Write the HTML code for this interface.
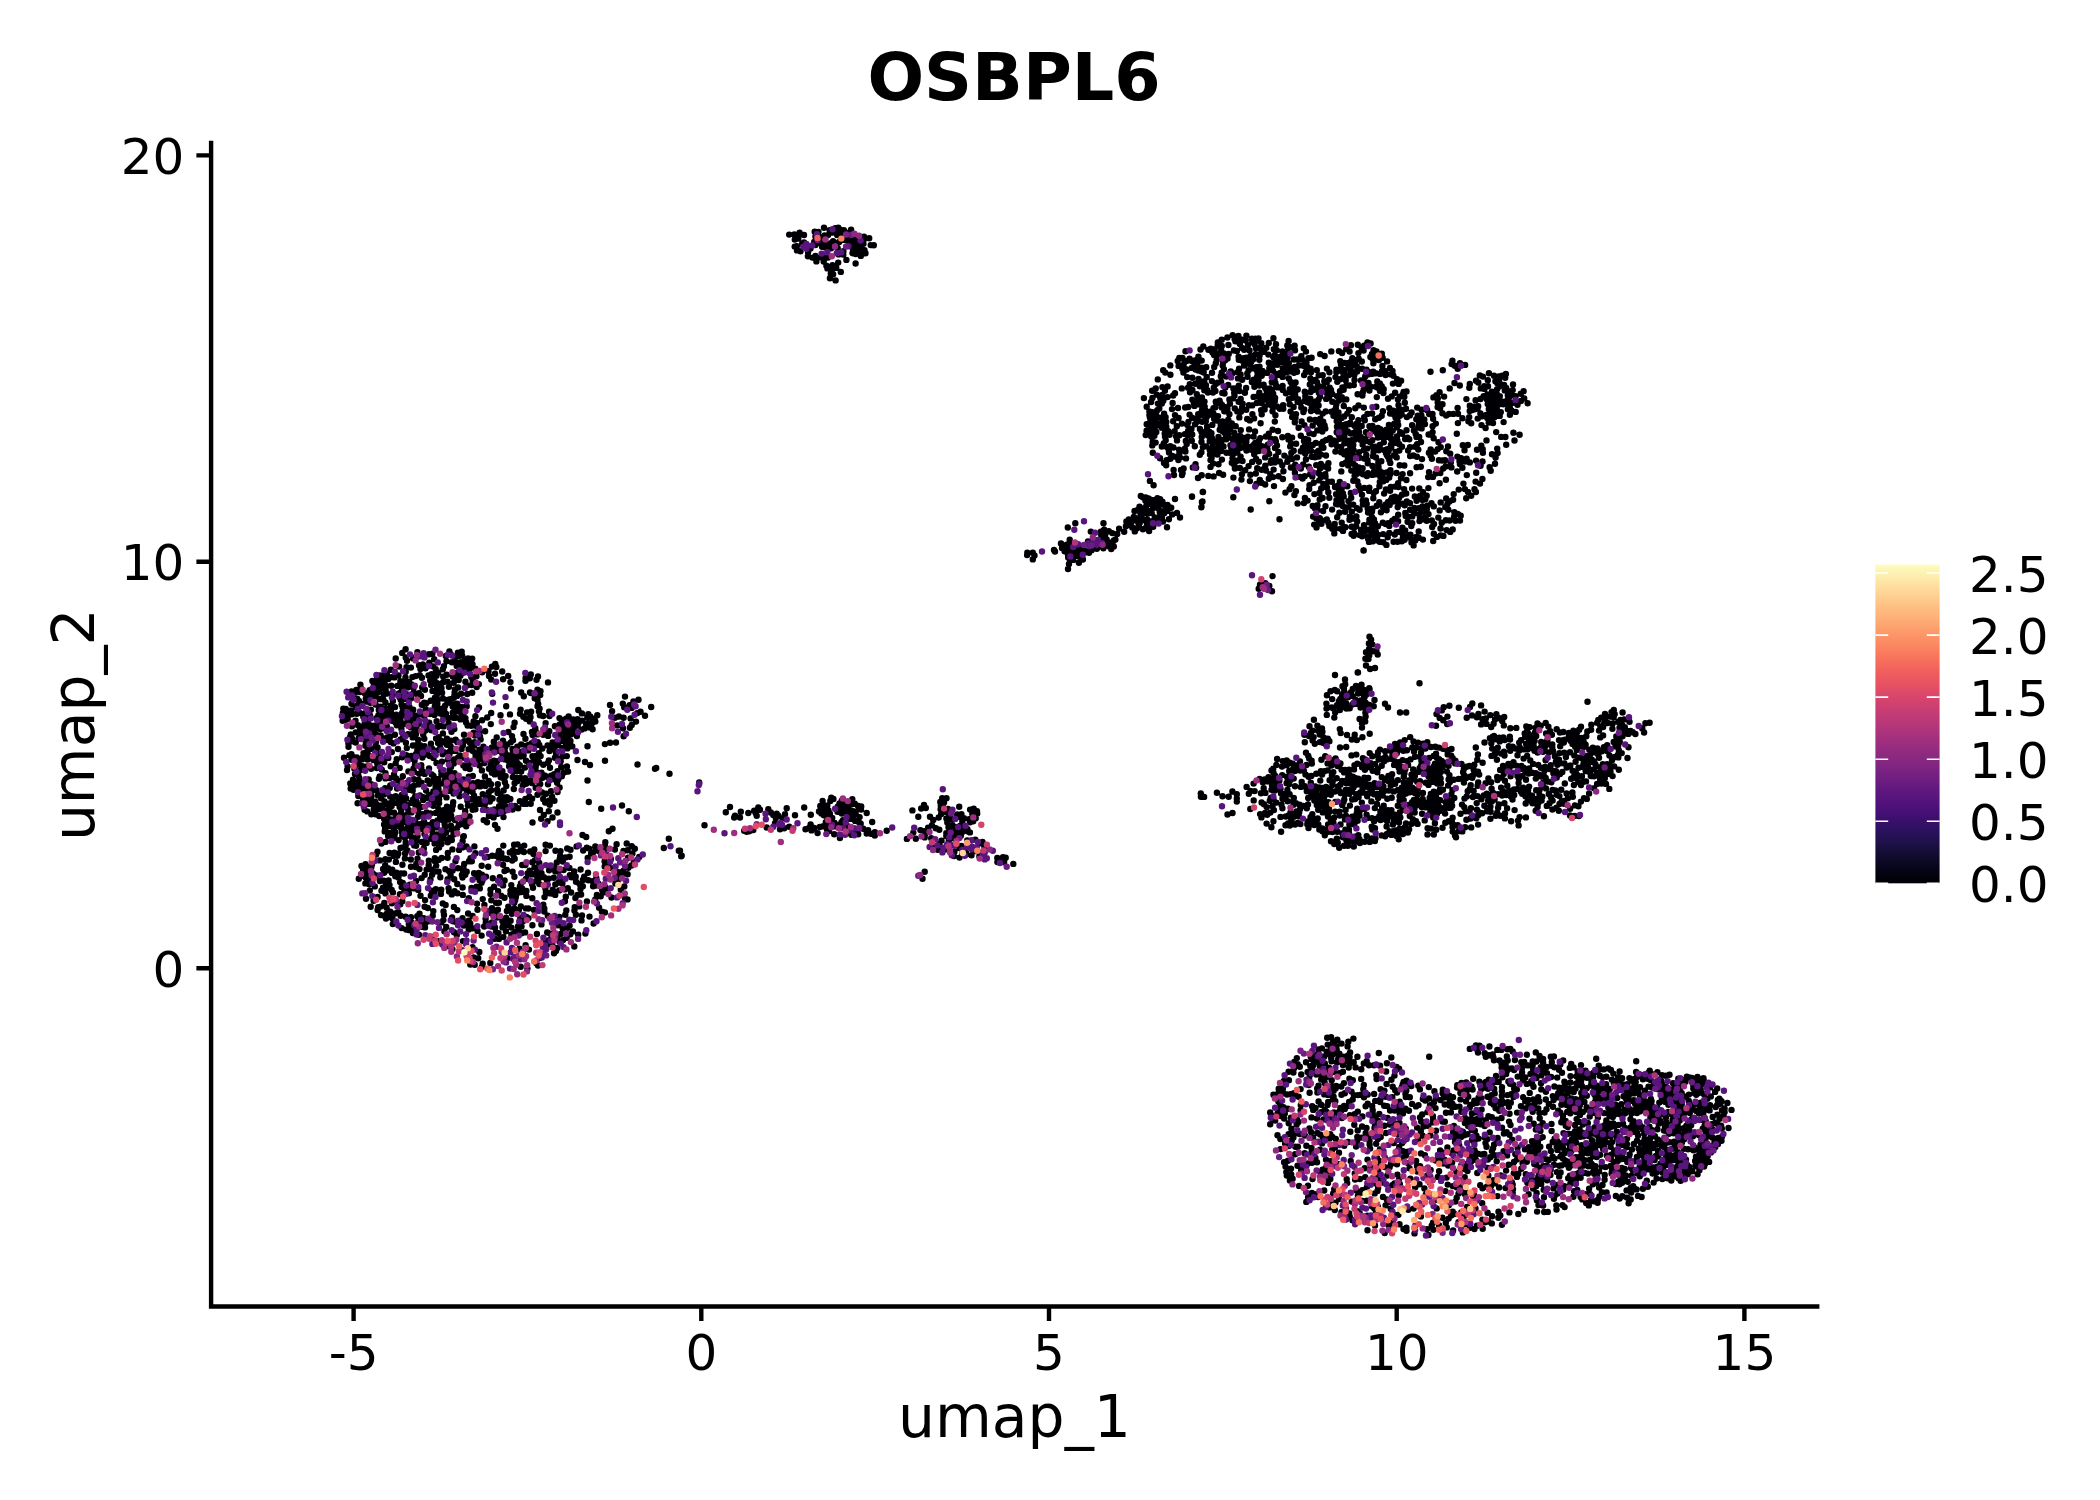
<!DOCTYPE html>
<html lang="en"><head><meta charset="utf-8"><title>OSBPL6 UMAP feature plot</title>
<style>html,body{margin:0;padding:0;background:#fff}body{width:2100px;height:1500px;overflow:hidden}svg{display:block;font-family:"DejaVu Sans","Liberation Sans",sans-serif}</style></head>
<body>
<svg width="2100" height="1500" viewBox="0 0 2100 1500">
<rect width="2100" height="1500" fill="#fff"/>
<g fill="none" stroke-width="6.4" stroke-linecap="round">
<path d="M838.3 227.7h.01M824 227.8h.01M835.2 228.1h.01M851.1 229.7h.01M840.3 229.7h.01M829.6 230.1h.01M843.9 230.2h.01M814.7 231.8h.01M818.4 231.9h.01M845.2 232.1h.01M835.3 232.3h.01M832.4 232.6h.01M799.6 232.8h.01M843.1 234.1h.01M794.3 234.4h.01M789.2 234.6h.01M837.2 235h.01M804 235h.01M849 235h.01M828 235.1h.01M824.6 235.5h.01M844.5 235.6h.01M815.4 236.6h.01M864 236.8h.01M848.3 237h.01M820.1 237.3h.01M841.1 237.8h.01M869.2 238.2h.01M798.3 238.5h.01M856.9 239h.01M851.2 239.2h.01M794.8 239.6h.01M843.7 239.7h.01M845.4 239.8h.01M854.2 240.1h.01M863.5 240.3h.01M848.1 240.9h.01M833.1 241.3h.01M851.1 241.9h.01M839.2 242h.01M814.2 242h.01M825.1 242.2h.01M855.8 242.4h.01M804 242.4h.01M859.3 242.4h.01M853.3 242.6h.01M820 243h.01M830.7 243.1h.01M863.4 243.7h.01M802.2 243.8h.01M850.6 243.9h.01M854.6 244.3h.01M826.9 244.4h.01M860.2 244.6h.01M856.4 244.7h.01M824.1 244.8h.01M870.7 245.1h.01M815.4 245.1h.01M873.8 245.2h.01M851.2 246h.01M796.8 246.2h.01M861.1 246.4h.01M794.7 246.6h.01M822.1 246.7h.01M857.7 247.2h.01M825.4 247.6h.01M855.1 248.2h.01M831.1 248.3h.01M860 248.3h.01M837.7 248.3h.01M810.5 248.4h.01M827.7 248.5h.01M852.8 248.7h.01M864.5 250.1h.01M797 250.4h.01M855.5 251h.01M800.5 251.2h.01M843.4 251.3h.01M808.1 252.3h.01M859.6 252.6h.01M852.5 253.2h.01M865.5 253.3h.01M862.6 253.4h.01M855.7 254.1h.01M838.6 254.4h.01M843.3 254.6h.01M860.8 255.9h.01M815.4 256h.01M807.9 256.2h.01M821 257.3h.01M812.4 257.6h.01M824.6 257.6h.01M827.8 257.6h.01M846.4 259.9h.01M816.4 261.4h.01M823.7 261.6h.01M838.2 262.6h.01M855.6 263.5h.01M832.5 265.3h.01M826.4 265.7h.01M836.3 267.9h.01M827.4 268.4h.01M831.6 270.9h.01M840.8 271.9h.01M830.8 273.6h.01M833.1 274.2h.01M829.9 278.2h.01M835.6 280.4h.01M1232.6 335.1h.01M1246.4 335.6h.01M1238.4 335.9h.01M1227.4 337.5h.01M1273.4 338.3h.01M1258.5 338.5h.01M1255.3 338.7h.01M1251.9 338.8h.01M1234.6 338.9h.01M1241.1 339.4h.01M1238.6 339.4h.01M1221.7 339.8h.01M1245.7 340.5h.01M1288.6 340.9h.01M1255.9 341.1h.01M1235.4 341.2h.01M1252.3 341.7h.01M1240.1 341.9h.01M1217.8 342.4h.01M1367.5 342.5h.01M1268.8 342.9h.01M1261.3 343.2h.01M1370.6 343.5h.01M1239.9 343.9h.01M1276 344.2h.01M1254.6 344.2h.01M1357.8 344.8h.01M1228.4 345h.01M1248 345.1h.01M1350.9 345.2h.01M1217.7 345.5h.01M1287.3 345.5h.01M1364.1 345.6h.01M1294.6 345.8h.01M1221.8 346h.01M1203.3 346.5h.01M1290.5 347.3h.01M1260.1 347.6h.01M1266.3 347.7h.01M1361.6 347.7h.01M1242.1 348h.01M1255.9 348.2h.01M1303.8 348.3h.01M1288.2 348.3h.01M1210.7 348.6h.01M1346.2 349.1h.01M1214.7 349.3h.01M1273.8 349.2h.01M1200.5 349.5h.01M1208.4 349.7h.01M1244.1 349.8h.01M1276.7 350.3h.01M1295 350.3h.01M1373.5 350.3h.01M1249.5 350.5h.01M1233.9 350.5h.01M1221.2 350.5h.01M1363.6 350.6h.01M1236.9 351h.01M1338.9 351.1h.01M1185.5 351.3h.01M1282.5 351.4h.01M1331.3 351.4h.01M1261.4 351.5h.01M1376.5 351.5h.01M1349.6 351.6h.01M1305.9 351.6h.01M1264.1 351.9h.01M1212.5 352.4h.01M1342.1 353h.01M1358.4 353.1h.01M1287.9 353.5h.01M1223.9 353.5h.01M1381.8 353.7h.01M1228.7 353.9h.01M1372 353.9h.01M1218.9 354h.01M1255.6 354.1h.01M1320.2 354.1h.01M1268.4 354.6h.01M1214.1 354.9h.01M1274.8 355.2h.01M1259.6 355.4h.01M1324.6 356h.01M1253.5 356h.01M1250.5 356.1h.01M1301.3 356.1h.01M1284.4 356.4h.01M1198.4 356.6h.01M1238.6 356.8h.01M1280.4 356.8h.01M1370.4 356.9h.01M1273.2 357.1h.01M1277.6 357.6h.01M1246.4 357.6h.01M1287.6 357.6h.01M1311.6 357.8h.01M1182.4 357.9h.01M1382.6 357.8h.01M1179.3 357.9h.01M1376.9 358h.01M1308.4 358.2h.01M1352.3 358.3h.01M1243.6 358.3h.01M1282 358.5h.01M1227.5 358.5h.01M1189.6 358.6h.01M1358.7 358.7h.01M1372.6 358.9h.01M1249.6 359.5h.01M1302 359.5h.01M1293.9 359.5h.01M1297.4 359.5h.01M1253 359.6h.01M1216.7 359.7h.01M1259.3 359.7h.01M1276.8 359.7h.01M1238.8 359.8h.01M1378.9 360h.01M1225.2 360.2h.01M1196.8 360.4h.01M1194.8 360.5h.01M1355.6 360.4h.01M1241.9 360.5h.01M1201.7 360.6h.01M1184.5 360.6h.01M1452.4 360.8h.01M1177.7 360.9h.01M1246.6 361h.01M1186.6 361.1h.01M1340.3 361.2h.01M1192.1 361.3h.01M1351.3 361.3h.01M1387.1 361.4h.01M1361.8 361.5h.01M1244.1 361.6h.01M1284.6 361.7h.01M1281.7 361.9h.01M1306.5 362h.01M1251 362.2h.01M1223 362.8h.01M1268.8 362.8h.01M1348.4 362.9h.01M1344.7 363h.01M1460 363.2h.01M1288.8 363.2h.01M1215.8 363.3h.01M1197.3 363.3h.01M1272.3 363.3h.01M1373.4 363.3h.01M1285.8 363.4h.01M1245 363.7h.01M1248.9 363.7h.01M1351.1 364.1h.01M1451.6 364.1h.01M1183.6 364.6h.01M1341 364.6h.01M1277.3 364.7h.01M1194.6 364.9h.01M1465.1 364.9h.01M1353.7 365.2h.01M1170.3 365.4h.01M1222.7 365.5h.01M1298.9 365.5h.01M1244.1 365.5h.01M1272.8 365.5h.01M1303.4 365.7h.01M1454.8 365.8h.01M1178.6 365.9h.01M1382.4 366h.01M1356.8 366.2h.01M1348.5 366.4h.01M1259.5 366.8h.01M1307.2 366.8h.01M1294.7 366.9h.01M1214.2 366.9h.01M1256.3 367.2h.01M1206.2 367.3h.01M1288.9 367.3h.01M1201.7 367.7h.01M1191.9 367.9h.01M1390 367.9h.01M1253 368.2h.01M1282.8 368.2h.01M1269.3 368.5h.01M1310.6 368.6h.01M1182.3 368.7h.01M1326.9 368.6h.01M1362.1 368.7h.01M1239.1 368.7h.01M1340.9 368.7h.01M1457.7 368.7h.01M1200.4 369h.01M1223.9 369.2h.01M1195.6 369.5h.01M1186.7 369.5h.01M1366.5 369.6h.01M1336.4 369.6h.01M1256.5 369.8h.01M1293.2 370h.01M1316.8 370.1h.01M1163.2 370.2h.01M1442.8 370.2h.01M1248.6 370.3h.01M1344.3 370.3h.01M1198.4 370.5h.01M1350.6 370.5h.01M1338.8 370.8h.01M1262.5 370.9h.01M1291.3 370.9h.01M1273 370.9h.01M1392.5 371h.01M1385.4 371.1h.01M1381.9 371.2h.01M1201.6 371.4h.01M1289.1 371.4h.01M1230.7 371.4h.01M1357.1 371.5h.01M1373.2 371.7h.01M1297 371.8h.01M1430.5 371.8h.01M1257.4 371.9h.01M1336.4 371.9h.01M1305.8 372h.01M1237.6 372.1h.01M1311 372.2h.01M1329.4 372.2h.01M1286.7 372.3h.01M1353.1 372.3h.01M1203.7 372.5h.01M1183.4 372.5h.01M1370 372.5h.01M1165.3 372.6h.01M1221.7 372.6h.01M1294 372.7h.01M1212 372.7h.01M1267.2 372.9h.01M1280.2 373h.01M1283 373.1h.01M1232.5 373.2h.01M1488.9 373.3h.01M1375.9 373.3h.01M1247.3 373.4h.01M1372.3 373.8h.01M1276.4 373.9h.01M1380 373.9h.01M1505.9 374h.01M1368.6 374.3h.01M1391 374.4h.01M1240.6 374.4h.01M1343.5 374.4h.01M1170.4 374.8h.01M1278.5 374.8h.01M1354.4 374.8h.01M1349 375h.01M1304.1 375.1h.01M1385.6 375.1h.01M1318.7 375.2h.01M1322.7 375.2h.01M1479.8 375.4h.01M1261.7 375.7h.01M1494 375.7h.01M1502.1 375.7h.01M1393.4 375.7h.01M1220.8 376.2h.01M1257.2 376.4h.01M1365.2 376.4h.01M1498.9 376.5h.01M1226.2 376.6h.01M1482.9 376.6h.01M1247.6 376.8h.01M1282.6 376.9h.01M1206.7 377h.01M1187.2 377.1h.01M1335.5 377.1h.01M1192.3 377.7h.01M1505.2 377.8h.01M1343.4 378h.01M1310.4 378.4h.01M1238 378.4h.01M1288.8 378.4h.01M1198.6 379h.01M1499.1 378.9h.01M1340.2 379.2h.01M1274.5 379.3h.01M1397 379.3h.01M1157.8 379.4h.01M1253.6 379.6h.01M1328.8 379.6h.01M1242.1 379.8h.01M1258.5 379.9h.01M1315.3 380h.01M1354.5 380h.01M1487.8 380.2h.01M1345.7 380.3h.01M1361 380.4h.01M1401.1 380.7h.01M1476 380.8h.01M1211.9 381.1h.01M1324.3 381.2h.01M1204.3 381.3h.01M1495.4 381.3h.01M1377.3 381.4h.01M1221.1 381.6h.01M1337.3 381.7h.01M1311.2 381.9h.01M1290.7 382h.01M1326.9 382h.01M1200.8 382h.01M1251.9 382h.01M1316.9 382.1h.01M1271.8 382.2h.01M1295.6 382.4h.01M1365.3 382.4h.01M1499.4 382.5h.01M1478.3 382.5h.01M1275.3 382.8h.01M1217.6 382.8h.01M1368.5 382.9h.01M1454.5 383h.01M1497.1 383h.01M1255.5 383.2h.01M1379.8 383.4h.01M1392.9 383.6h.01M1195.2 383.7h.01M1215.7 383.9h.01M1398.7 383.9h.01M1469.8 384h.01M1189.8 384.2h.01M1292.2 384.3h.01M1309.8 384.5h.01M1513 384.5h.01M1263.6 384.6h.01M1228.2 384.9h.01M1504.1 384.9h.01M1353.8 385.1h.01M1317.8 385.2h.01M1205.9 385.3h.01M1259.5 385.5h.01M1349.7 385.5h.01M1346.4 385.5h.01M1459.8 385.5h.01M1276.2 385.7h.01M1238.8 385.8h.01M1282.6 385.9h.01M1199.8 386.2h.01M1488 386.2h.01M1484.3 386.2h.01M1167.6 386.4h.01M1293.9 386.3h.01M1381.7 386.3h.01M1323.3 386.4h.01M1499.3 386.5h.01M1254.4 386.7h.01M1370.6 386.7h.01M1366.5 386.7h.01M1375.8 386.8h.01M1162.4 387.1h.01M1204.7 387.1h.01M1277.9 387.4h.01M1342.4 387.4h.01M1225.3 387.5h.01M1469.3 387.7h.01M1188.1 387.7h.01M1377.9 387.7h.01M1213.8 387.8h.01M1329.7 387.8h.01M1506.2 387.9h.01M1246.1 388h.01M1236.3 388.1h.01M1311.6 388h.01M1265.2 388.1h.01M1319.7 388.1h.01M1181.8 388.4h.01M1233.4 388.4h.01M1480.8 388.4h.01M1155.7 388.5h.01M1449.7 388.4h.01M1269.6 388.5h.01M1367.7 388.7h.01M1484.4 388.9h.01M1383.7 389.2h.01M1315.6 389.3h.01M1289.8 389.3h.01M1497.1 389.3h.01M1363.7 389.4h.01M1327 389.4h.01M1297.7 389.5h.01M1266.4 389.7h.01M1272.1 389.7h.01M1343.6 389.8h.01M1282.8 389.9h.01M1192.4 390h.01M1313.2 390h.01M1331 390h.01M1207.3 390.2h.01M1512.7 390.1h.01M1204.3 390.3h.01M1270.3 390.3h.01M1504.8 390.4h.01M1369.4 390.6h.01M1152.1 390.7h.01M1164.9 390.8h.01M1507.4 390.8h.01M1380 390.9h.01M1239.5 391h.01M1215.4 391h.01M1523.6 391.2h.01M1340 391.3h.01M1406.5 391.4h.01M1492 391.6h.01M1304.8 391.7h.01M1310.6 391.9h.01M1403.6 391.9h.01M1295.2 392.1h.01M1190 392.3h.01M1439.6 392.3h.01M1213 392.5h.01M1207.9 392.5h.01M1291 392.5h.01M1362.8 392.5h.01M1259.3 392.6h.01M1244.9 392.7h.01M1234.2 392.7h.01M1318.8 392.8h.01M1395.1 392.8h.01M1222.3 392.9h.01M1175 393.2h.01M1383.4 393.1h.01M1285.9 393.2h.01M1269 393.3h.01M1224.5 393.5h.01M1327.1 393.6h.01M1496.7 393.6h.01M1520.8 393.7h.01M1273.2 393.8h.01M1332.2 394h.01M1196.8 394.2h.01M1357.6 394.2h.01M1266.5 394.4h.01M1487.4 394.5h.01M1156.7 394.6h.01M1402.6 394.8h.01M1511.9 394.9h.01M1162.2 395h.01M1436.5 395.3h.01M1507.8 395.3h.01M1295.2 395.4h.01M1234.5 395.5h.01M1173.2 395.5h.01M1362.4 395.5h.01M1305.3 396.1h.01M1337 396.1h.01M1499.8 396.1h.01M1515.6 396.1h.01M1483.7 396.2h.01M1257.4 396.4h.01M1262.9 396.4h.01M1391.7 396.4h.01M1271.2 396.5h.01M1400 396.6h.01M1444.1 396.6h.01M1320 396.7h.01M1404.3 396.8h.01M1253.6 396.9h.01M1167.6 397.1h.01M1376.8 397.1h.01M1509.4 397.1h.01M1491.4 397.1h.01M1494.6 397.1h.01M1341.8 397.3h.01M1329 397.3h.01M1433.4 397.4h.01M1201.9 397.5h.01M1160.2 397.8h.01M1292.6 397.8h.01M1152.4 397.9h.01M1275.1 398h.01M1143.9 398.1h.01M1198.2 398.1h.01M1306.4 398.3h.01M1437.8 398.3h.01M1233 398.4h.01M1524.2 398.4h.01M1310.3 398.6h.01M1388 398.7h.01M1326.2 398.9h.01M1240.7 398.9h.01M1480.5 399h.01M1260.7 399.1h.01M1466.4 399.1h.01M1298.1 399.2h.01M1288.9 399.2h.01M1346.3 399.4h.01M1397.9 399.4h.01M1229.4 399.5h.01M1343.4 399.5h.01M1265.5 399.6h.01M1487 399.5h.01M1192.4 399.7h.01M1271.4 399.8h.01M1318.5 399.8h.01M1507.3 400.2h.01M1475.6 400.3h.01M1499.1 400.6h.01M1304.7 400.7h.01M1310 400.7h.01M1219.6 400.7h.01M1163.3 400.8h.01M1268.2 400.8h.01M1338.5 400.8h.01M1274.8 400.9h.01M1520.9 401h.01M1199.6 401.1h.01M1315.7 401.4h.01M1501.8 401.5h.01M1204.5 401.6h.01M1215.8 401.7h.01M1297.6 401.7h.01M1332.3 401.7h.01M1238.6 401.8h.01M1151.1 402h.01M1307.2 402.1h.01M1518.3 402.1h.01M1490.7 402.2h.01M1494.1 402.2h.01M1437.7 402.4h.01M1309.2 402.7h.01M1404.8 402.7h.01M1172.6 402.9h.01M1300.4 402.9h.01M1261.4 403h.01M1256.8 403h.01M1512 403h.01M1193.9 403.2h.01M1220.4 403.2h.01M1527.6 403.2h.01M1161.8 403.5h.01M1506.6 403.4h.01M1157.9 403.6h.01M1242.6 403.6h.01M1229.9 403.7h.01M1497.3 403.9h.01M1509.4 403.9h.01M1487.7 404.1h.01M1499.1 404.2h.01M1503.2 404.2h.01M1442.5 404.3h.01M1289.7 404.3h.01M1268.7 404.4h.01M1199.6 404.6h.01M1336.3 404.6h.01M1222 404.9h.01M1517.5 404.8h.01M1398.5 405.2h.01M1248.9 405.3h.01M1283.1 405.3h.01M1252.2 405.4h.01M1318.6 405.4h.01M1311.8 405.4h.01M1358.5 405.4h.01M1489.5 405.5h.01M1315.8 405.6h.01M1469.8 405.7h.01M1271.9 405.8h.01M1194.5 405.9h.01M1343.8 406h.01M1492.1 406.1h.01M1478.2 406.2h.01M1277 406.5h.01M1204.7 406.6h.01M1264.8 406.6h.01M1146.7 406.8h.01M1473.7 406.8h.01M1376.3 406.8h.01M1293.6 406.9h.01M1188.2 407h.01M1225.2 407.2h.01M1437.6 407.1h.01M1242.1 407.2h.01M1215.3 407.2h.01M1496.9 407.2h.01M1221.8 407.4h.01M1509.8 407.4h.01M1185.2 407.5h.01M1301.3 407.6h.01M1363.8 407.6h.01M1311.7 407.6h.01M1417.2 407.6h.01M1457.6 407.9h.01M1178 408h.01M1315.2 408.1h.01M1213.5 408.1h.01M1389.3 408.1h.01M1440.1 408.3h.01M1355.3 408.3h.01M1335.8 408.3h.01M1234.8 408.5h.01M1159.3 408.5h.01M1227.4 408.5h.01M1477.5 408.5h.01M1406 408.7h.01M1279.9 408.8h.01M1283.2 408.8h.01M1172 409.1h.01M1488.8 409.1h.01M1507.9 409.2h.01M1474.7 409.3h.01M1264.6 409.4h.01M1304.2 409.5h.01M1246.2 409.7h.01M1421.6 409.7h.01M1205 409.8h.01M1349 409.9h.01M1312.9 410h.01M1202 410.1h.01M1402.3 410h.01M1472.3 410.1h.01M1261.1 410.2h.01M1157.3 410.3h.01M1427.2 410.2h.01M1398.8 410.3h.01M1511.4 410.4h.01M1393.3 410.6h.01M1495 410.6h.01M1333.8 410.9h.01M1311 411h.01M1469.7 411h.01M1224.3 411.2h.01M1493.2 411.1h.01M1382.9 411.3h.01M1272.5 411.3h.01M1237.3 411.4h.01M1317.8 411.4h.01M1149.4 411.5h.01M1325.7 411.5h.01M1227.4 411.5h.01M1290.6 411.5h.01M1240.9 411.7h.01M1209.8 411.7h.01M1331.4 411.7h.01M1496.8 411.8h.01M1515.7 411.9h.01M1303.4 412h.01M1500.8 412.1h.01M1152.4 412.3h.01M1338.5 412.5h.01M1411.6 412.5h.01M1201.2 412.9h.01M1397.7 412.9h.01M1442.4 413.2h.01M1213.4 413.4h.01M1480.4 413.4h.01M1390.1 413.5h.01M1372.1 413.5h.01M1347.3 413.6h.01M1322.7 413.6h.01M1164.1 413.7h.01M1207.6 413.7h.01M1458 413.7h.01M1453.3 413.9h.01M1367.5 413.9h.01M1432.5 413.9h.01M1336.1 414h.01M1156 414.1h.01M1449 414h.01M1429.2 414h.01M1296 414.1h.01M1198.2 414.2h.01M1229.4 414.2h.01M1393.9 414.2h.01M1252.4 414.2h.01M1494.3 414.2h.01M1261.7 414.3h.01M1189.6 414.6h.01M1210.4 414.6h.01M1401.6 414.5h.01M1489.5 414.7h.01M1149.4 414.9h.01M1509.9 414.8h.01M1486.3 415h.01M1175 415.1h.01M1275.4 415.3h.01M1409.8 415.4h.01M1421.4 415.5h.01M1203.3 415.6h.01M1446.2 415.5h.01M1399.9 415.7h.01M1333.5 415.7h.01M1417.8 415.8h.01M1381.7 415.8h.01M1499.7 415.9h.01M1218 416.1h.01M1496.2 416.1h.01M1482.2 416.2h.01M1492.6 416.2h.01M1153 416.4h.01M1344.1 416.4h.01M1206.7 416.9h.01M1490.3 416.8h.01M1156.8 417h.01M1165.6 417.1h.01M1292.1 417.1h.01M1406.9 417.1h.01M1364.2 417.1h.01M1469.2 417.1h.01M1351.8 417.2h.01M1494.4 417.2h.01M1149.9 417.4h.01M1239.3 417.4h.01M1338.2 417.4h.01M1395.5 417.4h.01M1160.1 417.6h.01M1192.1 417.7h.01M1378.9 417.7h.01M1295.5 417.8h.01M1178.6 418h.01M1341.6 418h.01M1487.3 418.1h.01M1197.6 418.3h.01M1462.4 418.2h.01M1254.1 418.4h.01M1320.3 418.7h.01M1477.7 418.6h.01M1433.1 418.7h.01M1247.2 419h.01M1214.2 419h.01M1416.3 419.2h.01M1375.2 419.3h.01M1309.9 419.5h.01M1424.3 419.5h.01M1490.7 419.5h.01M1228.3 419.6h.01M1315.3 420h.01M1358.4 420.2h.01M1364.8 420.2h.01M1249.8 420.4h.01M1216.9 420.5h.01M1155.4 420.7h.01M1336.7 421h.01M1164 421.1h.01M1173.2 421.2h.01M1153 421.2h.01M1421.7 421.2h.01M1205.8 421.3h.01M1397.6 421.3h.01M1468.4 421.3h.01M1301.6 421.4h.01M1222.5 421.5h.01M1317 421.5h.01M1274.8 421.6h.01M1323.2 421.7h.01M1202.2 421.8h.01M1166.3 421.9h.01M1188.4 421.9h.01M1196.6 421.9h.01M1503.6 422.1h.01M1294.8 422.2h.01M1149.8 422.6h.01M1350.2 422.6h.01M1488.7 422.6h.01M1338.9 423h.01M1493 423.1h.01M1457.9 423.1h.01M1260.6 423.2h.01M1471.2 423.2h.01M1160.8 423.4h.01M1231.8 423.5h.01M1181.9 423.6h.01M1163.5 423.7h.01M1435.8 423.6h.01M1356.7 423.7h.01M1394.3 423.8h.01M1319.8 424.1h.01M1425 424.1h.01M1346.1 424.2h.01M1146.7 424.3h.01M1195.1 424.3h.01M1348.9 424.3h.01M1418.8 424.8h.01M1212.3 424.9h.01M1187.4 425h.01M1388.9 424.9h.01M1343.8 424.9h.01M1226.4 425h.01M1398.2 425h.01M1304.4 425.1h.01M1481.5 425.1h.01M1220.7 425.3h.01M1412.1 425.3h.01M1324.6 425.5h.01M1312.6 425.6h.01M1156.4 425.8h.01M1354.4 425.8h.01M1150.5 425.8h.01M1361.7 425.9h.01M1372.4 426h.01M1176.8 426.3h.01M1235.7 426.3h.01M1369.5 426.3h.01M1432.6 426.3h.01M1166.3 426.6h.01M1207.1 426.8h.01M1337 426.8h.01M1224.7 426.8h.01M1339.5 426.9h.01M1359.5 427.1h.01M1396.9 427.2h.01M1418.3 427.5h.01M1357.3 427.5h.01M1345.1 427.6h.01M1321.1 427.7h.01M1298.6 427.7h.01M1153.4 427.8h.01M1161.9 427.8h.01M1378 427.9h.01M1389.9 428h.01M1485.6 428.1h.01M1371.1 428.1h.01M1325.3 428.4h.01M1421.6 428.4h.01M1343.1 428.8h.01M1199.9 428.9h.01M1191.4 429h.01M1230.3 429.1h.01M1225.6 429.1h.01M1380.3 429.1h.01M1166.4 429.2h.01M1249.1 429.4h.01M1386.4 429.6h.01M1206.9 429.7h.01M1272.6 429.7h.01M1219.7 429.7h.01M1240.8 430.1h.01M1356.3 430.3h.01M1406.5 430.3h.01M1317.3 430.4h.01M1413.9 430.4h.01M1392.7 430.5h.01M1146.6 430.7h.01M1222.4 430.9h.01M1373.5 430.9h.01M1188.1 431h.01M1278 431h.01M1345.2 431h.01M1174.6 431.1h.01M1168.3 431.3h.01M1151.1 431.4h.01M1255 431.4h.01M1382.6 431.4h.01M1347.8 431.5h.01M1322.3 431.6h.01M1201.4 431.7h.01M1388.1 431.7h.01M1209.3 431.8h.01M1156.3 431.9h.01M1358.9 431.9h.01M1432.6 432.1h.01M1496.2 432.1h.01M1365.9 432.2h.01M1336.7 432.2h.01M1400.2 432.3h.01M1224.3 432.4h.01M1344 432.7h.01M1513.4 432.8h.01M1390.8 432.9h.01M1234.3 433h.01M1376.7 433h.01M1207.5 433.2h.01M1211.4 433.2h.01M1309.4 433.3h.01M1352.7 433.3h.01M1205.1 433.4h.01M1164.7 433.5h.01M1350.8 433.5h.01M1384.4 433.5h.01M1268.8 433.7h.01M1456.8 433.8h.01M1402.1 433.8h.01M1415.7 434h.01M1184.9 434.1h.01M1313.6 434.1h.01M1338.5 434.3h.01M1380.1 434.4h.01M1192.2 434.5h.01M1428.6 434.5h.01M1228.2 434.5h.01M1169.6 434.7h.01M1519.6 434.7h.01M1358.4 435h.01M1145.7 435.1h.01M1432 435h.01M1367.7 435.1h.01M1179.4 435.3h.01M1210.4 435.5h.01M1187.8 435.6h.01M1207.9 435.6h.01M1240.1 435.7h.01M1300.8 435.7h.01M1154.4 435.8h.01M1344.4 435.8h.01M1287.9 435.9h.01M1225.9 436.2h.01M1176.1 436.3h.01M1151.3 436.4h.01M1341.4 436.4h.01M1165 436.5h.01M1266 436.5h.01M1396.9 436.5h.01M1253.6 436.6h.01M1247.9 436.6h.01M1360.4 436.7h.01M1218.5 436.9h.01M1386.9 436.9h.01M1419.2 436.9h.01M1201.7 437h.01M1416.5 437h.01M1501.2 436.9h.01M1505.4 437h.01M1382.1 437.1h.01M1282.3 437.2h.01M1390.1 437.4h.01M1228.8 437.5h.01M1377.9 437.5h.01M1292.1 437.6h.01M1242.8 437.6h.01M1407.4 437.6h.01M1211.9 437.9h.01M1356.4 437.9h.01M1234.6 437.9h.01M1260.3 438.1h.01M1433.7 438.3h.01M1329.9 438.3h.01M1396 438.5h.01M1339.4 438.7h.01M1363.5 438.9h.01M1271 439h.01M1305.3 439h.01M1275 439.1h.01M1391.1 439.1h.01M1405.1 439.1h.01M1226.2 439.2h.01M1409.2 439.2h.01M1393.7 439.5h.01M1288.5 439.6h.01M1354.6 439.7h.01M1360.4 439.7h.01M1352.4 439.9h.01M1246.3 439.9h.01M1308.2 439.9h.01M1344.4 440h.01M1326.3 440h.01M1222.2 440.1h.01M1239.4 440.2h.01M1165.7 440.2h.01M1372.3 440.2h.01M1177 440.4h.01M1241.9 440.4h.01M1486.5 440.4h.01M1397.4 440.5h.01M1333.5 440.5h.01M1514.5 440.5h.01M1191.8 440.7h.01M1348.4 440.7h.01M1233.3 440.9h.01M1365.9 440.8h.01M1185.8 440.9h.01M1304 440.9h.01M1258.9 441h.01M1214.4 441.2h.01M1209.7 441.3h.01M1275.8 441.3h.01M1362.8 441.5h.01M1246.3 441.7h.01M1323 441.8h.01M1236.3 442h.01M1201.5 442h.01M1152.7 442h.01M1335.7 442h.01M1421 442h.01M1383.8 442.2h.01M1438.5 442.2h.01M1370.2 442.3h.01M1155.6 442.6h.01M1217.2 442.8h.01M1315.9 442.9h.01M1307.1 442.9h.01M1255.2 443h.01M1238.7 443.1h.01M1394.6 443.1h.01M1344.5 443.2h.01M1163.8 443.4h.01M1245.4 443.4h.01M1321.2 443.6h.01M1296.1 443.7h.01M1291 443.8h.01M1186.7 444.1h.01M1399.3 444.2h.01M1331.6 444.2h.01M1417.1 444.3h.01M1237.2 444.5h.01M1221.3 444.5h.01M1267.9 444.6h.01M1349.5 444.6h.01M1390.9 444.6h.01M1362.6 444.6h.01M1506.2 444.8h.01M1312.8 444.9h.01M1309.9 444.9h.01M1253.6 445h.01M1379.8 445h.01M1353.3 445.1h.01M1467.8 445h.01M1230.5 445.3h.01M1152.3 445.4h.01M1305.1 445.3h.01M1462.8 445.3h.01M1245.4 445.4h.01M1277 445.5h.01M1481.3 445.6h.01M1321.6 445.9h.01M1170.3 446.1h.01M1258.6 446.1h.01M1261.8 446.2h.01M1308.4 446.2h.01M1194.8 446.3h.01M1206 446.4h.01M1223.5 446.4h.01M1337.2 446.4h.01M1290.2 446.4h.01M1161.8 446.5h.01M1448 446.5h.01M1265.6 446.6h.01M1375.3 446.7h.01M1350.5 446.7h.01M1415.1 446.7h.01M1372.7 446.8h.01M1402 446.8h.01M1202.9 446.9h.01M1167 446.9h.01M1250.3 446.9h.01M1341.1 446.9h.01M1440.7 447.1h.01M1242.6 447.2h.01M1218.3 447.2h.01M1410 447.2h.01M1212.2 447.3h.01M1173.4 447.5h.01M1391.2 447.6h.01M1379.7 447.7h.01M1323.4 447.8h.01M1231.2 447.8h.01M1302.9 447.8h.01M1275 447.9h.01M1240.2 448h.01M1255.1 448h.01M1309.4 448.4h.01M1367.2 448.6h.01M1497.2 448.6h.01M1184.9 448.8h.01M1437.7 449.1h.01M1236.5 449.2h.01M1482.7 449.2h.01M1387.3 449.3h.01M1430.6 449.4h.01M1305.3 449.4h.01M1267.5 449.5h.01M1418.3 449.6h.01M1233.3 449.7h.01M1168.7 449.7h.01M1251.3 449.7h.01M1179.1 449.8h.01M1477 449.8h.01M1216 449.9h.01M1353.5 450h.01M1363.9 450h.01M1209.8 450.1h.01M1384.6 450.2h.01M1464.5 450.2h.01M1378.9 450.3h.01M1408.1 450.5h.01M1246.5 450.6h.01M1310.9 450.7h.01M1399.3 450.6h.01M1318.6 450.7h.01M1293.7 450.8h.01M1221.2 451h.01M1350.2 450.9h.01M1347.1 451h.01M1258.7 451.1h.01M1306.7 451.2h.01M1446.3 451.2h.01M1300.8 451.3h.01M1388.6 451.3h.01M1185.4 451.5h.01M1435.2 451.6h.01M1335.4 451.6h.01M1278.4 451.9h.01M1344.1 452h.01M1395.6 452h.01M1359.2 452.1h.01M1373.5 452.1h.01M1341.1 452.2h.01M1201.4 452.2h.01M1316.7 452.3h.01M1237.3 452.5h.01M1169 452.6h.01M1152.8 452.7h.01M1230 452.7h.01M1226.5 452.7h.01M1482.9 452.7h.01M1428.9 452.7h.01M1179.4 452.9h.01M1291.3 453h.01M1497.6 452.9h.01M1385.9 453h.01M1213.6 453.1h.01M1305.2 453.4h.01M1233.6 453.5h.01M1450.2 453.8h.01M1269.2 453.9h.01M1344.3 454.2h.01M1254.2 454.3h.01M1492 454.3h.01M1320.8 454.5h.01M1210 454.5h.01M1217.4 454.6h.01M1199.8 454.7h.01M1352.8 454.7h.01M1366.3 454.9h.01M1386.8 455h.01M1349.6 455.1h.01M1430.6 455.4h.01M1413.3 455.5h.01M1326 455.5h.01M1284.4 455.6h.01M1393.9 455.6h.01M1172.3 455.9h.01M1358.2 455.9h.01M1373 456.1h.01M1410.1 456.1h.01M1354.5 456.4h.01M1275.8 456.5h.01M1240.6 456.6h.01M1318.7 456.6h.01M1174.4 456.6h.01M1457.4 456.6h.01M1416.9 456.7h.01M1311.7 456.8h.01M1387.9 456.8h.01M1315 457.2h.01M1265.2 457.4h.01M1297 457.4h.01M1495.6 457.4h.01M1396.7 457.4h.01M1376 457.5h.01M1180.2 457.6h.01M1211.6 457.7h.01M1347.9 457.8h.01M1359.5 457.8h.01M1232.5 458.1h.01M1160 458.2h.01M1461.1 458.1h.01M1186 458.4h.01M1288.1 458.4h.01M1350.5 458.6h.01M1170.3 458.7h.01M1364.2 458.6h.01M1431.9 458.8h.01M1466.6 458.8h.01M1256.1 458.9h.01M1292 458.9h.01M1422 459.1h.01M1305.9 459.4h.01M1221.9 459.6h.01M1389.3 459.9h.01M1210.5 460.1h.01M1178.4 460.1h.01M1271.3 460.1h.01M1238.7 460.2h.01M1445 460.2h.01M1367.5 460.2h.01M1438.9 460.2h.01M1166.6 460.3h.01M1442.1 460.5h.01M1476.1 460.6h.01M1234.3 460.8h.01M1242.5 461h.01M1236.6 461.1h.01M1459.5 461.2h.01M1381.3 461.3h.01M1482.5 461.4h.01M1279.8 461.5h.01M1465.1 461.6h.01M1287.3 461.8h.01M1258.9 461.8h.01M1252.2 461.9h.01M1349.6 462.4h.01M1346 462.4h.01M1274.7 462.4h.01M1469.8 462.4h.01M1450.8 462.5h.01M1231.8 462.7h.01M1378.3 462.7h.01M1270.7 462.8h.01M1164 462.9h.01M1390.3 462.9h.01M1328.4 463.2h.01M1367.8 463.2h.01M1213.1 463.5h.01M1352.9 463.5h.01M1495 463.8h.01M1320.9 464h.01M1459.9 464h.01M1195.5 464.1h.01M1342.3 464.1h.01M1218.5 464.2h.01M1303.2 464.4h.01M1295.2 464.7h.01M1316.2 465.1h.01M1166.2 465.2h.01M1282.3 465.2h.01M1234.4 465.3h.01M1399.7 465.2h.01M1348.2 465.4h.01M1355.2 465.4h.01M1404.3 465.5h.01M1265.3 465.7h.01M1480.6 465.7h.01M1372.5 466h.01M1248.6 466.1h.01M1323.7 466.5h.01M1445.7 466.5h.01M1420.8 466.7h.01M1308.8 466.8h.01M1378.5 466.8h.01M1210.5 466.9h.01M1489.6 467.2h.01M1192.8 467.4h.01M1416.6 467.3h.01M1451.4 467.4h.01M1290.9 467.5h.01M1358.9 467.5h.01M1196.1 467.8h.01M1462.4 467.8h.01M1239.8 467.9h.01M1293.7 468h.01M1257.2 468.2h.01M1362.6 468.2h.01M1183.6 468.4h.01M1320.1 468.4h.01M1328.1 468.5h.01M1443.2 468.5h.01M1234.9 468.6h.01M1300.8 468.6h.01M1273.6 469.6h.01M1261.7 469.8h.01M1173.6 469.9h.01M1181 470h.01M1390.4 470.1h.01M1245.2 470.2h.01M1356.4 470.5h.01M1266 470.5h.01M1351.3 470.6h.01M1490.7 470.8h.01M1361 471.1h.01M1374.1 471.2h.01M1379.9 471.2h.01M1283.4 471.3h.01M1341.3 471.4h.01M1457.2 471.5h.01M1429 472.1h.01M1386.8 472.4h.01M1294.9 472.7h.01M1382.7 472.8h.01M1476.2 472.8h.01M1182.6 473h.01M1219.1 473h.01M1318.4 473h.01M1440.3 473h.01M1396.5 473h.01M1368 473.3h.01M1410.1 473.3h.01M1255.8 473.5h.01M1435.6 473.5h.01M1357 473.7h.01M1390.3 474h.01M1402.6 474.1h.01M1325.3 474.1h.01M1270.3 474.2h.01M1241.9 474.3h.01M1363 474.3h.01M1375.6 474.3h.01M1310.2 474.3h.01M1250.4 474.7h.01M1223.1 474.7h.01M1320.4 474.9h.01M1174 475h.01M1182 475h.01M1372.5 474.9h.01M1466.8 475.1h.01M1201.7 475.2h.01M1208.3 475.9h.01M1354.6 475.9h.01M1366.9 476h.01M1304.7 476.2h.01M1278.6 476.3h.01M1380.1 476.3h.01M1213.6 476.4h.01M1312.3 476.4h.01M1325.5 476.5h.01M1432.9 476.9h.01M1300.2 477h.01M1273 477.1h.01M1321 477.1h.01M1428.2 477.1h.01M1389.2 477.5h.01M1233.4 477.6h.01M1198 478h.01M1383 478h.01M1401 478.3h.01M1302.6 478.6h.01M1268.8 478.7h.01M1482.4 478.9h.01M1282.9 479h.01M1241.4 479.6h.01M1445.9 479.8h.01M1386.2 479.9h.01M1259.8 480h.01M1406.4 480h.01M1319.2 480.4h.01M1353.3 480.8h.01M1149.9 480.9h.01M1249.9 481.1h.01M1383.4 481.2h.01M1357.4 481.4h.01M1475.6 481.6h.01M1328.3 481.7h.01M1331.9 481.8h.01M1379.8 481.9h.01M1339.8 482h.01M1261.4 482.7h.01M1313.7 482.7h.01M1398.1 483.1h.01M1439.6 483.3h.01M1463.4 483.6h.01M1480 483.6h.01M1256.4 484h.01M1323.3 484h.01M1265.2 484.5h.01M1153.6 485.2h.01M1309.5 485.3h.01M1358.5 485.4h.01M1338 485.7h.01M1274 486.1h.01M1291.4 486.1h.01M1347.3 486.2h.01M1379.4 486.3h.01M1394.8 486.6h.01M1335 487h.01M1390.8 487h.01M1398.5 487h.01M1326.9 487.5h.01M1369.3 487.7h.01M1364.3 487.9h.01M1428.4 488.1h.01M1321.2 488.5h.01M1419.3 488.4h.01M1412.1 488.6h.01M1341.6 488.9h.01M1309.2 489.1h.01M1404.1 489.1h.01M1464.9 489.1h.01M1289.6 489.3h.01M1474.5 489.3h.01M1338.8 489.5h.01M1385.9 489.5h.01M1458.7 489.6h.01M1359.8 490.2h.01M1390.1 490.8h.01M1369.1 490.9h.01M1375.9 491.2h.01M1295.9 491.3h.01M1202.7 491.9h.01M1339.7 491.9h.01M1468 491.9h.01M1203 492h.01M1475.9 492h.01M1423 492.2h.01M1328.3 492.3h.01M1285.4 492.6h.01M1319.4 493h.01M1350.8 493h.01M1373.8 493.1h.01M1342.9 493.4h.01M1406.2 493.5h.01M1384.1 493.6h.01M1314.4 494.1h.01M1453.7 494.1h.01M1336.1 494.3h.01M1402 494.7h.01M1362 494.7h.01M1294.4 495h.01M1471.2 495.7h.01M1426.7 495.8h.01M1420.2 495.8h.01M1140.8 495.9h.01M1192 496.5h.01M1414.8 496.4h.01M1343.7 496.5h.01M1192 496.7h.01M1394.8 496.7h.01M1142.8 497.2h.01M1233.3 497.2h.01M1145.7 497.4h.01M1399.2 497.4h.01M1338 497.7h.01M1351.2 497.7h.01M1392 497.7h.01M1329.3 497.8h.01M1304.9 497.9h.01M1322.6 498h.01M1157.4 498.2h.01M1466.2 498.2h.01M1373.3 498.3h.01M1148.5 498.4h.01M1446.2 498.5h.01M1175 499h.01M1160.1 499.2h.01M1425.3 499.3h.01M1319.7 499.4h.01M1397 499.6h.01M1453.1 499.7h.01M1151.4 499.9h.01M1422.6 500h.01M1154.2 500.1h.01M1336.5 500.1h.01M1390.7 500.3h.01M1365.9 500.4h.01M1145.4 500.5h.01M1307.6 500.6h.01M1362.7 500.6h.01M1416.6 500.8h.01M1148.2 500.9h.01M1348.5 501.1h.01M1269.3 501.2h.01M1406.8 501.4h.01M1202.5 501.5h.01M1162.4 501.6h.01M1449.5 501.5h.01M1393.1 501.6h.01M1201.9 502h.01M1341.6 502h.01M1388.1 502h.01M1338.2 502.1h.01M1158.1 502.2h.01M1379.3 502.2h.01M1440.7 502.4h.01M1398.3 502.9h.01M1303.9 503.1h.01M1410 503.1h.01M1431.5 503.1h.01M1297.6 503.5h.01M1162 503.7h.01M1402.4 503.7h.01M1366.7 503.9h.01M1336.1 504h.01M1447.4 504h.01M1338 504.4h.01M1362.9 504.4h.01M1152 504.5h.01M1385.8 504.5h.01M1353.2 504.6h.01M1154.6 504.8h.01M1164.2 504.9h.01M1167.5 505h.01M1389.6 505.1h.01M1146.5 505.3h.01M1317.5 505.3h.01M1404.7 505.3h.01M1427.4 505.6h.01M1376.8 505.7h.01M1312.7 505.9h.01M1343 506.2h.01M1325.5 506.3h.01M1433.8 506.4h.01M1422.5 506.5h.01M1139.5 506.7h.01M1383 506.8h.01M1201.5 507h.01M1348.5 507h.01M1445.3 507.2h.01M1397.7 507.2h.01M1201.3 507.3h.01M1345.4 507.4h.01M1171.2 507.7h.01M1414.4 508h.01M1153.1 508.1h.01M1314.7 508.1h.01M1357 508.2h.01M1418.9 508.2h.01M1158.4 508.5h.01M1367.7 508.6h.01M1142.8 508.7h.01M1372.4 508.7h.01M1166.4 509h.01M1426.8 509.3h.01M1250.7 509.5h.01M1332.1 509.6h.01M1138 509.8h.01M1359.6 509.8h.01M1448.3 509.8h.01M1410.1 509.8h.01M1317.6 509.9h.01M1147.2 510.3h.01M1386.6 510.3h.01M1439.7 510.4h.01M1134.5 511h.01M1141.6 511h.01M1167.3 511h.01M1323.1 511h.01M1161.8 511.1h.01M1372 511.4h.01M1351.8 511.6h.01M1422.7 511.6h.01M1144.4 511.7h.01M1345.1 511.8h.01M1454.3 512.1h.01M1159.8 512.2h.01M1380.9 512.2h.01M1140.2 512.5h.01M1368.1 512.5h.01M1339.4 512.8h.01M1151.7 513h.01M1177 513h.01M1405.3 512.9h.01M1414.4 513.2h.01M1164.1 513.3h.01M1147.5 513.7h.01M1161 513.8h.01M1457.7 514h.01M1428.5 514.1h.01M1172.2 514.4h.01M1419.4 514.5h.01M1398.2 514.8h.01M1141.7 515.6h.01M1460.7 515.8h.01M1405.7 515.9h.01M1412.2 516.4h.01M1356.4 516.5h.01M1313.1 516.6h.01M1454.1 516.7h.01M1349.8 516.7h.01M1133.8 516.9h.01M1408.5 516.8h.01M1134 517h.01M1372 517.1h.01M1337.2 517.2h.01M1419.9 517.2h.01M1425.7 517.3h.01M1180 517.5h.01M1154.8 517.5h.01M1161.9 517.7h.01M1157.6 517.7h.01M1438.3 517.6h.01M1137.8 518.1h.01M1319.8 518.1h.01M1316.2 518.3h.01M1353 518.6h.01M1394.6 519h.01M1168.9 519.3h.01M1422.9 519.2h.01M1279.5 519.3h.01M1128.8 519.4h.01M1160 519.4h.01M1373.9 519.4h.01M1326.8 519.5h.01M1147.3 519.7h.01M1143 519.8h.01M1369.4 519.8h.01M1349.5 519.8h.01M1445.9 520.2h.01M1449.6 520.5h.01M1431.8 520.5h.01M1141.6 520.6h.01M1322.4 520.6h.01M1460 520.6h.01M1455.6 520.7h.01M1392.3 520.8h.01M1426.7 520.8h.01M1419.5 521.1h.01M1137.6 521.2h.01M1152.1 521.3h.01M1398.1 521.3h.01M1126.4 521.4h.01M1357.2 521.4h.01M1163 521.6h.01M1131.7 521.7h.01M1407.6 521.8h.01M1319.1 521.9h.01M1139.9 522.4h.01M1369.3 522.4h.01M1341.7 522.6h.01M1328.3 522.6h.01M1154.4 522.8h.01M1441.7 522.7h.01M1382.8 522.8h.01M1149.8 522.9h.01M1103.5 523.2h.01M1075.3 523.2h.01M1388.1 523.1h.01M1147 523.3h.01M1375 523.3h.01M1412.2 523.3h.01M1321.4 523.7h.01M1334.7 524h.01M1385.7 524h.01M1434 524h.01M1314.2 524.6h.01M1128 524.8h.01M1150.1 525.2h.01M1138.6 525.2h.01M1364 525.3h.01M1389.3 525.9h.01M1356.1 525.9h.01M1329.3 526h.01M1411.3 526h.01M1125.9 526.3h.01M1377.9 526.3h.01M1153.2 526.7h.01M1351.7 526.7h.01M1432.2 527h.01M1167 527.2h.01M1345.4 527.2h.01M1132.3 527.4h.01M1139.3 527.4h.01M1372.2 527.3h.01M1316.5 527.4h.01M1067.8 527.5h.01M1354.2 527.5h.01M1402.4 527.8h.01M1145.4 528.3h.01M1440.5 528.5h.01M1136.5 528.6h.01M1119.1 528.7h.01M1335.3 528.6h.01M1340.7 528.7h.01M1332.3 528.8h.01M1142.9 529.3h.01M1452.7 529.4h.01M1104.2 529.6h.01M1361 529.7h.01M1368.4 529.7h.01M1446.6 530.1h.01M1405.2 530.4h.01M1372.7 530.4h.01M1343 530.9h.01M1364.6 531h.01M1149.1 531.1h.01M1108.8 531.2h.01M1134.8 531.4h.01M1418.7 531.4h.01M1090.8 531.6h.01M1100.9 531.7h.01M1124.2 531.7h.01M1399.6 531.7h.01M1450.2 531.9h.01M1396.5 532.1h.01M1376 532.2h.01M1104.8 532.9h.01M1112.3 533.1h.01M1371.7 533h.01M1389.3 533h.01M1102 533.2h.01M1354.1 533.3h.01M1334.3 533.4h.01M1361.6 533.6h.01M1433.8 533.7h.01M1117.2 533.9h.01M1351.6 534h.01M1383.1 534.1h.01M1394.8 534.5h.01M1410.4 534.6h.01M1402.8 534.7h.01M1105.1 534.9h.01M1378 535h.01M1101.2 535.1h.01M1359.7 535.1h.01M1440.6 535.4h.01M1373.9 535.7h.01M1353.6 535.8h.01M1443.4 535.9h.01M1362.1 536.2h.01M1367.9 536.4h.01M1104.1 536.8h.01M1407.1 536.7h.01M1436.9 536.9h.01M1416.4 537h.01M1387.7 537.2h.01M1409.3 537.6h.01M1418.7 537.7h.01M1402.7 538.6h.01M1368.1 538.8h.01M1115.4 539.4h.01M1376.9 539.3h.01M1103 539.4h.01M1106.6 539.5h.01M1422.9 539.6h.01M1069.7 539.8h.01M1404.5 539.8h.01M1412.5 539.9h.01M1113.8 540.5h.01M1375 540.4h.01M1415.2 540.5h.01M1433.2 541h.01M1401.8 541.2h.01M1088 541.4h.01M1372.4 541.4h.01M1107.2 541.6h.01M1379.6 541.7h.01M1393.6 541.7h.01M1397.5 541.7h.01M1369 541.9h.01M1100 542.2h.01M1383.2 542.3h.01M1110.9 542.4h.01M1411.5 542.6h.01M1098.3 542.8h.01M1090.9 542.9h.01M1061 543.5h.01M1106.9 543.8h.01M1066.7 544.8h.01M1386.4 544.9h.01M1071.1 545.1h.01M1413.6 545.4h.01M1100.7 545.6h.01M1092.8 546h.01M1068 546.3h.01M1099.1 546.3h.01M1080.1 546.5h.01M1113.8 546.5h.01M1103.4 546.5h.01M1109.4 546.6h.01M1069.5 546.7h.01M1062 548h.01M1103.4 548.3h.01M1079.2 548.6h.01M1096.8 548.7h.01M1067.2 548.8h.01M1111.2 549h.01M1076.1 549.2h.01M1070.9 549.8h.01M1054 550h.01M1083.8 550.2h.01M1091.5 550.2h.01M1363.7 550.5h.01M1363.5 550.5h.01M1078.5 551h.01M1088.3 551h.01M1072.5 551.3h.01M1064.6 551.3h.01M1068.5 551.4h.01M1055 551.5h.01M1086.8 552.2h.01M1089 552.7h.01M1027.3 552.8h.01M1032.8 552.8h.01M1071.9 553.4h.01M1076.7 553.6h.01M1068 554.7h.01M1080.2 554.8h.01M1027.1 555.1h.01M1034.5 555.4h.01M1074.4 556.3h.01M1078.6 556.3h.01M1068.2 557.5h.01M1072.7 558.3h.01M1069.8 558.9h.01M1032.8 559.4h.01M1082.9 559.5h.01M1073.2 559.9h.01M1078.9 562.7h.01M1069 564h.01M1068 569h.01M1272.5 576.1h.01M1265.3 583.3h.01M1260 584.7h.01M1269.3 586h.01M1258.7 588.7h.01M1272 591.3h.01M1369.5 636.8h.01M1371.1 639.7h.01M1368.9 643.4h.01M1372.3 644.4h.01M405.6 649.3h.01M1369 649.1h.01M1376.4 650.9h.01M449.4 651.5h.01M1372.8 651.2h.01M461.7 651.6h.01M417.4 652.3h.01M1366 652.3h.01M457.9 652.7h.01M402.2 652.9h.01M432.4 653.7h.01M429 654.2h.01M450.6 654.2h.01M1377.7 654.5h.01M462.2 655.6h.01M1369.2 655.4h.01M459.3 655.8h.01M445.8 656h.01M457 656.1h.01M415.8 657h.01M405.7 657.5h.01M468.1 658.4h.01M413.1 658.4h.01M395.7 658.5h.01M472.2 658.6h.01M1365.4 658.8h.01M434.2 659.3h.01M1368.5 659.1h.01M455 659.5h.01M407 660.7h.01M464.6 660.7h.01M446.5 661.3h.01M454.3 661.7h.01M451.9 662.2h.01M469 662.2h.01M460.5 662.3h.01M429.3 662.6h.01M456.9 663.5h.01M463.9 663.8h.01M495.3 663.9h.01M472.5 664.2h.01M422.9 664.5h.01M419 665.2h.01M1366 665.5h.01M456.7 665.9h.01M459.9 666h.01M465.2 666h.01M443.9 666.2h.01M433.3 666.5h.01M399.1 666.6h.01M491.9 666.6h.01M496.3 667h.01M406.5 667.1h.01M462.7 667.4h.01M410.9 667.6h.01M470 667.8h.01M425.5 668.2h.01M1375 668h.01M475.3 668.7h.01M420.4 669h.01M467.9 669h.01M435.7 669.1h.01M442.8 669.2h.01M1370.1 669h.01M390.8 669.7h.01M462.5 670.6h.01M488.5 671.2h.01M502.2 671.5h.01M405.7 671.7h.01M482.2 672.3h.01M469.2 672.4h.01M457.5 672.6h.01M438.2 672.7h.01M1357.7 672.5h.01M1358 672.5h.01M435.6 673h.01M461.9 673.2h.01M495 673.8h.01M386.8 674h.01M431.6 674.3h.01M530.8 674.5h.01M446.7 674.7h.01M383.5 675.1h.01M419.8 675.2h.01M527.5 675.2h.01M1335 675h.01M398.5 675.4h.01M428.5 675.4h.01M379.8 675.5h.01M436.5 675.7h.01M460.4 675.8h.01M489 676h.01M508.2 676h.01M415.7 676.1h.01M476.4 676.3h.01M452.8 676.5h.01M538 676.5h.01M443.2 676.6h.01M471.3 676.9h.01M412.4 677.1h.01M391.3 677.1h.01M381.6 677.2h.01M394.4 677.4h.01M405.5 677.4h.01M433.4 677.4h.01M377.2 677.6h.01M456.3 677.6h.01M421.9 677.8h.01M525.6 678h.01M529.8 678.3h.01M383 678.4h.01M388.3 679h.01M503.1 679.3h.01M491.2 679.6h.01M536.5 679.7h.01M1345 679.5h.01M458.7 680h.01M377.5 680.4h.01M430.2 680.5h.01M472.7 680.8h.01M525.5 680.7h.01M372.4 681h.01M404.9 681h.01M400.4 681.1h.01M434.7 681.3h.01M384.3 681.4h.01M380.4 681.6h.01M447.5 681.7h.01M465.4 681.7h.01M406.7 681.7h.01M510.4 682.1h.01M409.2 682.3h.01M443.1 682.3h.01M548 682.4h.01M453.7 682.7h.01M437.2 683.3h.01M1419.5 683.2h.01M377.7 683.7h.01M373.9 684h.01M478.8 684.2h.01M403.1 684.2h.01M411.4 684.4h.01M360.4 684.6h.01M1345.2 684.3h.01M382.1 684.8h.01M440.8 684.8h.01M1361.5 684.7h.01M431.1 685.1h.01M471.6 685.1h.01M467 685.4h.01M385.7 685.4h.01M391.3 685.7h.01M397.4 685.9h.01M380.6 686.1h.01M1356 685.9h.01M402.3 686.3h.01M1342.5 686.2h.01M448.9 686.7h.01M437.1 686.7h.01M476.7 687h.01M378.4 687.1h.01M407.6 687.4h.01M375.7 687.4h.01M422.2 687.4h.01M360.7 687.5h.01M458.1 687.5h.01M1359.9 687.6h.01M413.5 688.1h.01M441.5 688.1h.01M1369.2 688.2h.01M510.9 688.6h.01M1343.9 688.5h.01M379.9 689.1h.01M385.6 689.2h.01M1352.8 688.9h.01M1369.6 689.1h.01M454.9 689.5h.01M424.9 689.8h.01M537.5 689.8h.01M356.3 689.9h.01M436.6 689.9h.01M1363.5 689.8h.01M369.6 690.2h.01M1334.8 689.9h.01M1359 690.1h.01M402 690.5h.01M432.5 690.9h.01M540.5 691.1h.01M1367.5 691h.01M351.5 691.4h.01M1337.1 691.3h.01M1330.5 691.3h.01M373.8 691.9h.01M1344.3 691.6h.01M360 692h.01M1351.1 692.1h.01M454.6 692.4h.01M377.6 692.5h.01M521.2 692.5h.01M530 692.5h.01M354.9 692.6h.01M472.2 692.7h.01M442.1 692.7h.01M400.5 692.8h.01M530.8 693h.01M413.5 693h.01M1369.6 692.8h.01M419 693.3h.01M365 693.5h.01M398.9 693.5h.01M387 693.5h.01M416.2 693.7h.01M492.2 693.7h.01M1358.1 693.5h.01M461.1 693.8h.01M467.2 694h.01M406.5 694.2h.01M383.7 694.4h.01M1344.6 694.3h.01M1366.3 694.4h.01M1348.6 694.5h.01M372.3 694.8h.01M1342.1 694.5h.01M1350.8 694.7h.01M392.7 695h.01M454.4 695.1h.01M540.2 695.1h.01M1363.8 695h.01M436.7 695.4h.01M1326.9 695.2h.01M368.8 695.6h.01M457 695.9h.01M421 696h.01M523.8 696.2h.01M1352.5 696.1h.01M375.7 696.4h.01M625 696.6h.01M350.9 697.3h.01M399.6 697.3h.01M1348.3 697.1h.01M1364.5 697.3h.01M434.9 697.7h.01M453.9 697.8h.01M534.7 698.2h.01M411.2 698.3h.01M365.8 698.6h.01M442.9 698.5h.01M357.1 698.7h.01M405.4 698.9h.01M379.6 699h.01M450.2 699.2h.01M1340.3 698.9h.01M1332.2 699.1h.01M1343.3 699.2h.01M383.3 699.6h.01M400.7 699.7h.01M638.5 699.7h.01M537.5 700h.01M447.4 700h.01M437.7 700h.01M1355.7 699.9h.01M1374.5 699.9h.01M430.7 700.7h.01M1360.8 700.4h.01M392.9 700.9h.01M358.9 700.9h.01M1338.9 701.1h.01M434.9 701.4h.01M633.4 701.5h.01M366.3 701.6h.01M1363.6 701.4h.01M1587.5 701.8h.01M447.4 702.5h.01M385.4 702.5h.01M424.2 702.6h.01M449.8 702.7h.01M370.2 702.8h.01M1365.5 702.6h.01M426.4 703.1h.01M360.4 703.2h.01M1360.9 703.3h.01M1346.1 703.3h.01M437.4 703.6h.01M622.8 703.6h.01M351.5 703.8h.01M457.3 703.8h.01M1472.3 703.5h.01M1326.4 703.6h.01M538.2 704h.01M1385 703.8h.01M1356.4 703.9h.01M454.5 704.2h.01M401.6 704.4h.01M375.6 704.5h.01M1344.1 704.2h.01M421.8 704.7h.01M1352.4 704.4h.01M357.8 704.9h.01M610 705h.01M1367.7 704.8h.01M629.6 705.2h.01M1369.4 705h.01M1341.8 705.1h.01M1337 705.2h.01M445.1 705.7h.01M390.9 705.7h.01M1481.1 705.4h.01M1449.4 705.7h.01M405.7 706.2h.01M466.7 706.2h.01M434.8 706.2h.01M506.2 706.2h.01M537.5 706.2h.01M452.7 706.5h.01M380.4 706.6h.01M1373.7 706.2h.01M1364.2 706.5h.01M409.4 706.9h.01M461.8 707h.01M651.2 707h.01M395 707.1h.01M1470 706.9h.01M355.9 707.4h.01M402.7 707.4h.01M624.2 707.3h.01M479 707.4h.01M1341.9 707.2h.01M1443.7 707.3h.01M1331.8 707.4h.01M1388 707.5h.01M631.6 707.9h.01M1360.6 707.6h.01M455.6 708h.01M1458.8 707.7h.01M385.5 708.5h.01M441.7 708.6h.01M1349.7 708.3h.01M539.6 708.6h.01M1346.4 708.5h.01M343.3 708.8h.01M1333.6 708.6h.01M1326.5 708.6h.01M345.8 709h.01M435.2 709.2h.01M425.7 709.2h.01M1366 709.3h.01M370.8 709.7h.01M520.6 709.6h.01M413.2 709.7h.01M463.1 709.7h.01M438.9 709.8h.01M444.2 709.9h.01M378.8 709.9h.01M578.3 710h.01M1339.9 710h.01M1613.8 710h.01M459.3 710.4h.01M351.2 710.5h.01M386.8 710.6h.01M1441.8 710.4h.01M612.1 711.2h.01M456.9 711.2h.01M538.9 711.2h.01M411 711.3h.01M390.9 711.6h.01M531.1 711.7h.01M549.1 711.8h.01M640.5 711.8h.01M1484.6 711.6h.01M527 712.4h.01M347.4 712.5h.01M1611.5 712.1h.01M460.9 712.6h.01M1335.2 712.4h.01M402.2 712.8h.01M452.7 712.8h.01M1400 712.5h.01M1406.2 712.5h.01M342.9 712.9h.01M359.7 712.9h.01M1622.6 712.5h.01M383.9 713h.01M1365.4 712.7h.01M491.2 713h.01M365 713.1h.01M637.3 713.1h.01M463.5 713.3h.01M581.9 713.4h.01M440.4 713.5h.01M445.9 713.7h.01M356.9 713.8h.01M520 713.8h.01M429.9 714.1h.01M588.3 714.1h.01M1605 713.9h.01M351.9 714.3h.01M1478.4 714h.01M420.9 714.4h.01M510 714.4h.01M1436.5 714.1h.01M1614.7 714.1h.01M1496.4 714.2h.01M396.3 714.7h.01M434.5 714.9h.01M388.3 714.9h.01M344.5 715h.01M403.5 715.2h.01M1326.8 714.9h.01M500.5 715.2h.01M597.3 715.3h.01M539.9 715.3h.01M382.9 715.4h.01M365.4 715.4h.01M1490.3 715.1h.01M378.3 715.5h.01M415.8 715.7h.01M370.1 715.7h.01M645 715.7h.01M1472 715.4h.01M424.4 716h.01M543.2 716h.01M443.4 716.1h.01M549.5 716.1h.01M475.4 716.2h.01M347.7 716.3h.01M461.6 716.3h.01M568.6 716.4h.01M618.9 716.5h.01M392 716.6h.01M590.4 716.6h.01M363.3 716.7h.01M523.3 716.7h.01M411.9 716.9h.01M1447.4 716.6h.01M1365.6 716.6h.01M1610.1 716.5h.01M530.5 717.2h.01M1504.2 716.9h.01M487.2 717.5h.01M395 717.5h.01M587.3 717.5h.01M1476.9 717.2h.01M1613.7 717.2h.01M614.9 717.7h.01M453.2 717.8h.01M455.7 717.8h.01M398.4 717.8h.01M623.6 717.8h.01M1334.3 717.6h.01M448.2 718h.01M1601.2 717.6h.01M416.5 718.1h.01M1466.7 717.8h.01M559.5 718.1h.01M465.4 718.2h.01M376.4 718.2h.01M1439.7 717.9h.01M630.6 718.4h.01M1499.6 718.3h.01M594.5 718.6h.01M1485.8 718.4h.01M566.1 718.7h.01M526.1 718.8h.01M384.1 719.1h.01M347.7 719.2h.01M1359.6 718.9h.01M577.5 719.2h.01M573.2 719.4h.01M460.6 719.4h.01M410.2 719.5h.01M1482.5 719.3h.01M1624.1 719.4h.01M1605.1 719.4h.01M414 719.9h.01M345.3 719.9h.01M1495 719.6h.01M1313.9 719.7h.01M561.6 720h.01M407.5 720.3h.01M482.1 720.3h.01M1620.4 720h.01M1598.3 720h.01M355.5 720.6h.01M1443.2 720.2h.01M400.6 720.6h.01M416.3 720.7h.01M392.1 720.7h.01M582.1 720.6h.01M342.7 720.8h.01M382.2 720.8h.01M367.7 721h.01M436.6 721.2h.01M1502.2 721h.01M473.6 721.4h.01M529.8 721.4h.01M595.3 721.5h.01M636 721.6h.01M1365.2 721.4h.01M592.7 721.9h.01M1629.5 721.8h.01M395.5 722.4h.01M1618.3 722h.01M466.1 722.5h.01M571.3 722.5h.01M377.9 722.7h.01M514.6 722.7h.01M429.2 722.8h.01M476.8 722.9h.01M1649.6 722.7h.01M545.6 723.1h.01M1597.2 722.8h.01M364.8 723.3h.01M589.3 723.3h.01M1607.8 723h.01M578.3 723.3h.01M409.6 723.4h.01M448.7 723.4h.01M1545.7 723h.01M379.9 723.5h.01M575.2 723.4h.01M1362 723.2h.01M586.1 723.6h.01M418.8 723.7h.01M1645.4 723.3h.01M1604.2 723.5h.01M405.8 723.9h.01M1537.5 723.5h.01M1612.6 723.5h.01M490.8 724.1h.01M1493.6 723.8h.01M591.5 724.1h.01M1486.5 723.9h.01M399.8 724.4h.01M1447.2 724.1h.01M564.1 724.5h.01M559.5 724.7h.01M384.8 724.7h.01M1481.1 724.4h.01M369.3 725h.01M631.7 725h.01M358 725.2h.01M1591.3 724.8h.01M474.9 725.2h.01M396.8 725.2h.01M617.2 725.4h.01M467.6 725.5h.01M363.8 725.6h.01M373.3 725.6h.01M589.6 725.5h.01M577.7 725.6h.01M471.2 725.7h.01M1503.8 725.4h.01M1622.4 725.5h.01M440.7 725.9h.01M1436 725.7h.01M1317.4 725.7h.01M1540.7 725.7h.01M351.9 726.2h.01M386.8 726.3h.01M554.9 726.3h.01M377.4 726.4h.01M443.5 726.4h.01M371.3 726.6h.01M1309.5 726.3h.01M477.2 726.7h.01M1526.3 726.4h.01M437.5 726.9h.01M1600.4 726.6h.01M1548.4 726.6h.01M564.4 727h.01M1581 726.7h.01M513.5 727.1h.01M1491.2 727h.01M1603.1 727h.01M588.1 727.4h.01M411 727.4h.01M1529.7 727.1h.01M428.2 727.5h.01M1624.8 727.2h.01M629.9 727.8h.01M566.2 727.8h.01M1362 727.6h.01M562.6 728.1h.01M1535.7 727.8h.01M535.3 728.2h.01M1619.5 727.8h.01M375.1 728.3h.01M1516.3 727.9h.01M573.6 728.3h.01M623 728.2h.01M385.2 728.4h.01M584.5 728.4h.01M1510.3 728.2h.01M568.8 728.7h.01M1322 728.5h.01M401.4 728.8h.01M1642.3 728.5h.01M380.3 729h.01M370.2 729h.01M454.3 729.1h.01M564.6 729h.01M360.1 729.1h.01M1612.4 728.8h.01M367.7 729.3h.01M592.6 729.3h.01M1339.8 729.1h.01M1556.7 729.3h.01M581.7 729.6h.01M414.6 729.8h.01M417.4 730h.01M1579.2 729.7h.01M1591.1 729.8h.01M431.3 730.3h.01M425.4 730.5h.01M371.5 730.9h.01M1312.5 730.6h.01M1527.1 730.6h.01M1599 730.6h.01M1318.2 730.8h.01M363.5 731.1h.01M1573.4 730.8h.01M485.1 731.2h.01M374.3 731.3h.01M563.6 731.2h.01M1630.5 730.9h.01M549.3 731.3h.01M572.3 731.4h.01M361 731.5h.01M535.8 731.5h.01M1550.2 731.3h.01M1628.4 731.3h.01M451.5 731.8h.01M1587.3 731.5h.01M560.2 731.9h.01M508.4 732h.01M532 732h.01M1322.4 731.8h.01M566.3 732h.01M574.5 732h.01M1623.2 731.8h.01M355.7 732.4h.01M1563.3 732h.01M479.2 732.5h.01M1577.1 732.1h.01M1632.8 732.2h.01M1535.1 732.3h.01M545.8 732.7h.01M473.6 732.8h.01M1644.1 732.5h.01M1559.9 732.5h.01M1310.9 732.9h.01M1573.9 732.8h.01M1568.9 732.9h.01M358.9 733.3h.01M1340.7 733.1h.01M442.9 733.4h.01M1546.1 733.4h.01M1524.7 733.4h.01M362.8 733.8h.01M416 734h.01M412.4 734h.01M1369.7 733.7h.01M523.5 734h.01M408 734.1h.01M371.1 734.1h.01M1571.3 733.8h.01M375.9 734.3h.01M1628.3 733.9h.01M350.8 734.4h.01M1528.7 734h.01M1635.4 734h.01M537.4 734.4h.01M423.2 734.5h.01M364.7 734.6h.01M570.8 734.6h.01M464 734.7h.01M394.9 734.7h.01M1319.8 734.6h.01M543.2 734.8h.01M1354.7 734.7h.01M532.6 735.1h.01M1304.4 734.8h.01M1551.9 734.8h.01M1347 735h.01M380.7 735.5h.01M474.9 735.5h.01M1603.1 735.4h.01M361.3 735.8h.01M548.1 735.9h.01M1576.3 735.6h.01M1530.4 735.7h.01M576.9 736.1h.01M512 736.1h.01M623.6 736.2h.01M1536.2 735.9h.01M1309 736h.01M1494 736h.01M480 736.4h.01M390.2 736.5h.01M1622.5 736.2h.01M1586.3 736.2h.01M1570.8 736.2h.01M1568.9 736.3h.01M1616.3 736.4h.01M1509.8 736.6h.01M350.1 737h.01M403.1 737.1h.01M438.6 737.2h.01M560.1 737.2h.01M369.4 737.4h.01M1492.5 737h.01M412.7 737.4h.01M1525.2 737h.01M1313.6 737.1h.01M387 737.4h.01M496.7 737.5h.01M1410.2 737.1h.01M381.3 737.6h.01M364.2 737.6h.01M1362.4 737.3h.01M1577.8 737.4h.01M1503.3 737.4h.01M1323.5 737.5h.01M1600.2 737.4h.01M563.6 737.8h.01M566.4 738h.01M1528 737.7h.01M1619.8 737.8h.01M1499.3 737.8h.01M1581.6 737.9h.01M436.1 738.4h.01M358.6 738.5h.01M1489.9 738.2h.01M446.9 738.7h.01M352.1 738.8h.01M525.4 738.8h.01M424.3 738.8h.01M1327.8 738.6h.01M400.6 739.4h.01M1533 739h.01M480.6 739.4h.01M1495.9 739.3h.01M368 739.7h.01M418.1 739.8h.01M455.6 739.8h.01M1577.4 739.5h.01M1510 739.5h.01M1351.8 739.6h.01M385.7 740.1h.01M1564.9 739.8h.01M513 740.3h.01M468.6 740.3h.01M1356.8 740.1h.01M1504.6 740.1h.01M1404.7 740.1h.01M1559 740.1h.01M1573.1 740.1h.01M1521 740.3h.01M1547.4 740.3h.01M503 740.7h.01M440.9 740.8h.01M451 740.8h.01M1562 740.5h.01M1312.6 740.6h.01M1617.8 740.6h.01M570.4 741h.01M445.2 741.1h.01M561.3 741.1h.01M464.2 741.3h.01M1570.8 740.9h.01M352.5 741.4h.01M1534.6 741.1h.01M1329.4 741.2h.01M1529 741.2h.01M1499.7 741.4h.01M493.8 741.7h.01M1413.5 741.4h.01M376.1 741.8h.01M457.2 741.9h.01M390.7 742.1h.01M1574.1 741.7h.01M474.6 742.1h.01M537.8 742.1h.01M1541.2 741.9h.01M365.8 742.3h.01M510.8 742.3h.01M443.1 742.3h.01M1619.8 742h.01M555.1 742.4h.01M1613.7 742h.01M1319.9 742.1h.01M1583.8 742.1h.01M1427.3 742.2h.01M616 742.5h.01M552.6 742.5h.01M1304.8 742.3h.01M355.7 742.6h.01M1545.8 742.2h.01M1400.1 742.4h.01M405.9 742.8h.01M1563.8 742.5h.01M1484.5 742.5h.01M610.1 742.8h.01M438.1 742.9h.01M1323 742.7h.01M1519.2 742.6h.01M470.1 743h.01M1418 742.8h.01M348.4 743.2h.01M531.8 743.2h.01M393.5 743.4h.01M566.1 743.4h.01M1576.4 743.2h.01M1491.3 743.3h.01M430.9 743.7h.01M570 743.7h.01M1423 743.6h.01M1314.8 743.8h.01M604.9 744.1h.01M1578.4 743.8h.01M1325.6 743.9h.01M1395 743.9h.01M1526.1 743.9h.01M1572.5 743.9h.01M521.2 744.4h.01M494.6 744.5h.01M507.3 744.5h.01M446.9 744.7h.01M1548.5 744.3h.01M1552.3 744.4h.01M536.7 744.7h.01M557.9 744.8h.01M416.9 744.9h.01M502.7 744.9h.01M1544.4 744.6h.01M539.3 745h.01M1585.6 744.7h.01M528.5 745h.01M462.9 745.3h.01M420.1 745.3h.01M412.9 745.5h.01M1400.6 745.2h.01M474.2 745.5h.01M547.6 745.5h.01M1607.2 745.2h.01M365.4 745.7h.01M526.2 745.7h.01M496.6 745.8h.01M375.8 745.9h.01M552 745.8h.01M1533.6 745.6h.01M1529 745.6h.01M1618.2 745.6h.01M587.5 746.2h.01M424.5 746.3h.01M532.9 746.5h.01M572.3 746.4h.01M517.3 746.6h.01M1508.9 746.3h.01M1560.2 746.3h.01M348.5 746.7h.01M1580.4 746.4h.01M450.8 746.8h.01M1615.3 746.4h.01M483.4 746.8h.01M368.8 746.8h.01M1512.7 746.6h.01M1435.3 746.7h.01M1575.2 746.8h.01M501.3 747.2h.01M1541.3 746.8h.01M505.2 747.2h.01M1346.2 747h.01M1431 747h.01M471.5 747.3h.01M491.9 747.4h.01M1583.6 747h.01M377.6 747.5h.01M1398 747.2h.01M1395.4 747.2h.01M1603.9 747.2h.01M1628.5 747.2h.01M565.3 747.6h.01M1412.3 747.4h.01M1552.3 747.4h.01M1340 747.5h.01M1475.8 747.5h.01M1544.7 747.5h.01M1416.5 747.6h.01M1519.8 747.6h.01M1497.8 747.6h.01M1438.8 747.6h.01M562.4 747.9h.01M440.2 748h.01M1592.9 747.6h.01M406.8 748.1h.01M1530.3 748h.01M567.3 748.4h.01M431.9 748.5h.01M542.3 748.5h.01M1422 748.4h.01M1597.4 748.4h.01M1515.6 748.5h.01M371.5 748.9h.01M461.6 748.9h.01M1425.4 748.6h.01M512.5 748.9h.01M552 748.9h.01M1492.2 748.6h.01M398 749h.01M1443 748.7h.01M1402.8 748.7h.01M1451.5 749h.01M468.6 749.3h.01M1539 749h.01M479.4 749.7h.01M1524.3 749.4h.01M1527.4 749.4h.01M554.7 749.8h.01M1400 749.6h.01M493.2 749.9h.01M420.6 749.9h.01M1605.4 749.5h.01M1379.9 749.6h.01M1589.2 749.6h.01M1594.5 749.7h.01M1446.9 749.9h.01M423.1 750.4h.01M1576.8 750h.01M528.4 750.4h.01M417.3 750.5h.01M1406.9 750.2h.01M1618.8 750.1h.01M436.2 750.7h.01M1389.7 750.4h.01M1519.3 750.5h.01M455.3 750.9h.01M497.6 751h.01M1395.1 750.7h.01M452.2 751h.01M487.6 751h.01M1510.2 750.7h.01M549.5 751.1h.01M1403.4 750.8h.01M472.9 751.1h.01M1534.5 750.8h.01M1496.4 750.9h.01M1553 751h.01M1598.5 751h.01M1385.2 751.2h.01M367 751.6h.01M491 751.7h.01M1607.6 751.3h.01M1601.9 751.3h.01M449.6 751.7h.01M427.1 751.7h.01M1414 751.5h.01M521.8 751.8h.01M512.9 752h.01M391.8 752.1h.01M1504 751.8h.01M1543.1 751.8h.01M443.9 752.2h.01M505 752.3h.01M1378.1 752.1h.01M483 752.6h.01M1570 752.3h.01M1594 752.3h.01M1548.9 752.4h.01M481.1 752.8h.01M1306 752.7h.01M1537.6 752.6h.01M1421 752.7h.01M1564.2 752.7h.01M363.5 753.1h.01M538.8 753.1h.01M1396.9 752.9h.01M377.6 753.4h.01M1369.7 753.1h.01M556 753.4h.01M1621.7 753.1h.01M475.4 753.4h.01M1559.4 753.1h.01M517.3 753.6h.01M1501.1 753.5h.01M502.3 753.8h.01M449.5 753.9h.01M1436 753.6h.01M421 754h.01M351.4 754.1h.01M442.6 754.2h.01M415.8 754.3h.01M1495 754h.01M1618.3 754.2h.01M1477.9 754.4h.01M368.2 754.8h.01M1447.7 754.4h.01M1598.2 754.5h.01M365.5 754.9h.01M1356.3 754.6h.01M424.2 755.1h.01M406.3 755.1h.01M507.3 755.1h.01M349.4 755.3h.01M523.6 755.4h.01M510.9 755.4h.01M460.1 755.5h.01M1392.4 755.2h.01M379.9 755.6h.01M515.9 755.6h.01M1589.8 755.2h.01M1517.5 755.3h.01M1351.5 755.4h.01M1377.6 755.4h.01M1574.3 755.4h.01M487.1 755.8h.01M1504.5 755.5h.01M1609.4 755.5h.01M1451.2 755.6h.01M411.2 756h.01M429.8 756h.01M1308.3 755.9h.01M540.6 756.1h.01M566.8 756.1h.01M475.6 756.2h.01M1433.7 755.9h.01M375.5 756.2h.01M1527.1 755.9h.01M532.5 756.2h.01M1587.1 755.9h.01M1491.5 755.9h.01M534.7 756.3h.01M1372.3 756.2h.01M520.8 756.5h.01M562.5 756.5h.01M1325.2 756.3h.01M1554.9 756.3h.01M351.4 756.9h.01M363 757h.01M1415 756.7h.01M1420 756.8h.01M1385.3 756.9h.01M402.1 757.3h.01M353.8 757.3h.01M1565.9 757h.01M1614.9 757h.01M458.2 757.4h.01M356.8 757.5h.01M422.4 757.6h.01M1436.5 757.3h.01M511.8 757.6h.01M344 757.7h.01M1618.3 757.4h.01M464.1 757.8h.01M554.9 757.8h.01M388.3 757.9h.01M433.5 757.9h.01M1578.4 757.6h.01M533.6 758h.01M477.7 758h.01M1599 757.8h.01M506.3 758.2h.01M1429.2 757.9h.01M1581.6 758h.01M1627.5 758h.01M1452.7 758.2h.01M411 758.6h.01M1362.9 758.3h.01M1335.6 758.4h.01M384.2 758.7h.01M560.1 758.8h.01M1309.2 758.6h.01M481.3 758.9h.01M1523.6 758.6h.01M1380.5 758.7h.01M1277.1 758.9h.01M535.4 759.2h.01M1392.1 758.9h.01M504.1 759.2h.01M396.7 759.3h.01M362 759.4h.01M1587.8 759h.01M454 759.4h.01M367.5 759.6h.01M1439.1 759.3h.01M1387.4 759.3h.01M1410.5 759.4h.01M1365.2 759.4h.01M351.4 759.8h.01M1378.6 759.5h.01M447.8 759.8h.01M1330 759.6h.01M1321.4 759.7h.01M577.5 760h.01M373.4 760.1h.01M1559 759.7h.01M1496.9 759.8h.01M1477.3 759.8h.01M1591.8 759.8h.01M1584.2 759.9h.01M548.9 760.4h.01M511.7 760.5h.01M414.6 760.5h.01M1545.6 760.2h.01M1402.6 760.2h.01M1612 760.2h.01M493.9 760.7h.01M1286.6 760.5h.01M358.8 760.8h.01M526 760.7h.01M516.1 760.8h.01M605 760.8h.01M508.1 760.8h.01M1311.6 760.6h.01M1530.3 760.5h.01M1455.4 760.7h.01M477.7 761h.01M1421.4 760.8h.01M1407.7 760.9h.01M1451.6 760.9h.01M497 761.3h.01M560.7 761.3h.01M1282.6 761.1h.01M1441.6 761h.01M535.1 761.4h.01M378.7 761.4h.01M1384.1 761.3h.01M474.8 761.6h.01M1394.7 761.3h.01M441.9 761.7h.01M1300 761.5h.01M1594 761.5h.01M1555.9 761.7h.01M585 762h.01M510 762.1h.01M1575.6 761.8h.01M491 762.2h.01M1590.9 761.9h.01M384.2 762.3h.01M539 762.3h.01M356.8 762.4h.01M1399 762.1h.01M1438.3 762.2h.01M1513.5 762.3h.01M1583.7 762.3h.01M529 762.7h.01M1443.7 762.5h.01M436.5 762.9h.01M1289.7 762.7h.01M547.8 762.9h.01M1284.5 762.7h.01M484.4 763h.01M1482.6 762.8h.01M512.6 763.1h.01M469.2 763.3h.01M517.6 763.3h.01M1370.6 763.1h.01M395.7 763.4h.01M453.8 763.4h.01M1560.5 763.2h.01M1340.4 763.4h.01M1363.3 763.4h.01M1334 763.4h.01M1586.6 763.4h.01M1327.6 763.4h.01M1455.2 763.4h.01M1311.8 763.5h.01M377.3 763.8h.01M439.8 763.8h.01M1292.7 763.6h.01M1564.4 763.5h.01M536.2 764h.01M1435 763.8h.01M1357.3 763.8h.01M1396.6 763.8h.01M1533.1 763.9h.01M1508.4 763.9h.01M1461.5 764h.01M1374.9 764.1h.01M1595.4 764.1h.01M1425.6 764.2h.01M1602.8 764.2h.01M637.5 764.5h.01M1607 764.2h.01M543.3 764.7h.01M359.2 764.8h.01M1609.8 764.5h.01M590 765h.01M421.3 765.1h.01M519.8 765.1h.01M1557.3 764.7h.01M1276.3 764.9h.01M1441 764.8h.01M1474.3 764.8h.01M1583.3 764.8h.01M1394.1 764.9h.01M1365.3 765h.01M1306.4 765h.01M414.9 765.3h.01M1408.1 765h.01M1538.3 765h.01M514.8 765.4h.01M479.5 765.4h.01M463.4 765.5h.01M1286.8 765.3h.01M1550.7 765.2h.01M490.7 765.6h.01M1354.5 765.3h.01M1296.5 765.4h.01M1570.3 765.5h.01M1421.2 765.5h.01M1331.4 765.6h.01M1516.5 765.6h.01M1512 765.6h.01M1381.7 765.8h.01M362.4 766.1h.01M1448.6 765.8h.01M390.7 766.3h.01M1503 765.9h.01M509.1 766.3h.01M1521.4 766h.01M1469.5 766h.01M1433.9 766.1h.01M347.6 766.4h.01M1337.6 766.1h.01M366.9 766.5h.01M566.9 766.4h.01M1426.7 766.2h.01M535.7 766.7h.01M1608.3 766.3h.01M1614.2 766.4h.01M1612 766.4h.01M1282 766.6h.01M1293.8 766.6h.01M561.2 767h.01M451 767h.01M497.1 767.1h.01M493.9 767.1h.01M1466.6 766.8h.01M1545 766.9h.01M1401.4 767h.01M1362.1 767.2h.01M1599.8 767.1h.01M1582.7 767.1h.01M1588.2 767.3h.01M1442.5 767.3h.01M525 767.6h.01M1438.4 767.4h.01M550 767.7h.01M1398.7 767.5h.01M517.5 767.8h.01M399.7 767.9h.01M1566.7 767.5h.01M1540.8 767.7h.01M465.5 768h.01M376.9 768.1h.01M1578.5 767.7h.01M656.2 768h.01M421.3 768.1h.01M1370.8 767.8h.01M1432.8 767.8h.01M1523.8 767.9h.01M532.4 768.2h.01M1419.6 768.1h.01M429 768.4h.01M1297.4 768.2h.01M354.3 768.6h.01M488.9 768.7h.01M371.2 768.7h.01M1529.2 768.4h.01M413.5 768.8h.01M655 768.8h.01M1377.9 768.6h.01M535.5 768.9h.01M1605.8 768.6h.01M1273.2 768.7h.01M469.7 769.1h.01M1509 768.9h.01M1549.6 769h.01M1520.4 769.1h.01M1608.8 769.1h.01M1463.8 769.2h.01M381.8 769.6h.01M1405.3 769.3h.01M449.6 769.7h.01M1354 769.4h.01M1594 769.4h.01M1413.2 769.5h.01M360.7 770h.01M1341.6 769.7h.01M347 770.1h.01M1473.7 769.7h.01M1349 769.8h.01M1364.9 769.8h.01M1345.3 769.9h.01M1500.1 769.9h.01M1618.8 769.8h.01M1292.2 770h.01M481.9 770.4h.01M493 770.4h.01M497.2 770.4h.01M1421 770.2h.01M1327.6 770.4h.01M1271.5 770.5h.01M1505.5 770.5h.01M441.3 770.9h.01M1300.1 770.6h.01M1601.7 770.5h.01M1544.5 770.6h.01M1437.7 770.6h.01M517.2 771h.01M1303.8 770.7h.01M1429.5 770.7h.01M1572.6 770.8h.01M1372.7 770.8h.01M557.5 771.2h.01M1553.2 770.9h.01M1289.2 771.1h.01M502.4 771.3h.01M1320.9 771.1h.01M1585.7 771h.01M1294.9 771.1h.01M408.4 771.4h.01M513.3 771.5h.01M521.2 771.5h.01M1324.3 771.3h.01M1556 771.2h.01M568.1 771.6h.01M423 771.8h.01M1423.9 771.5h.01M1447 771.6h.01M1435.5 771.6h.01M1399.6 771.6h.01M414.1 772h.01M1478 771.7h.01M1610.5 771.6h.01M1606.3 771.7h.01M1419 771.8h.01M1440.8 772h.01M1575.7 771.9h.01M449.9 772.3h.01M1562.3 772h.01M1333.3 772.1h.01M564 772.4h.01M1377.3 772.2h.01M1463.1 772.2h.01M541.4 772.6h.01M1525.6 772.3h.01M536.9 772.6h.01M1344.1 772.4h.01M491.9 772.7h.01M1589.9 772.6h.01M1414.4 772.8h.01M1532.2 772.7h.01M1273.5 772.8h.01M385.5 773.2h.01M1598.9 772.9h.01M454.5 773.3h.01M1535.7 773.2h.01M1404.4 773.3h.01M499.3 773.6h.01M1432.3 773.3h.01M1553.4 773.3h.01M419.2 773.7h.01M532.9 773.7h.01M669.5 773.8h.01M355 773.9h.01M424.7 773.9h.01M1528.7 773.6h.01M1316.3 773.7h.01M1555.9 773.7h.01M554.3 774.2h.01M1609.3 773.9h.01M494.8 774.4h.01M1560 774h.01M1503.7 774.1h.01M431.7 774.5h.01M394 774.5h.01M1392.1 774.2h.01M441.4 774.6h.01M447.9 774.6h.01M443.9 774.7h.01M1305.5 774.5h.01M1349.2 774.6h.01M1322.1 774.6h.01M542.3 774.9h.01M1411.5 774.6h.01M1539.1 774.6h.01M1427.5 774.6h.01M1479.2 774.6h.01M1596.7 774.6h.01M358.3 775.1h.01M1577 774.7h.01M1282.2 775.1h.01M1473.1 775.2h.01M1543.7 775.2h.01M1439.3 775.3h.01M1449.4 775.3h.01M551.1 775.7h.01M1603.4 775.3h.01M545.1 775.7h.01M1464.3 775.4h.01M1331.9 775.5h.01M433.5 776h.01M472.8 776h.01M505.6 776.1h.01M1414.9 775.8h.01M1275.4 775.9h.01M1311.3 775.9h.01M1388.4 775.9h.01M402.8 776.2h.01M561.8 776.3h.01M1517.4 776h.01M1590.8 776h.01M379.7 776.4h.01M1522.4 776h.01M1431 776.1h.01M484.9 776.4h.01M1612.6 776.1h.01M1510.6 776.2h.01M1594.1 776.2h.01M1581.9 776.2h.01M468.8 776.6h.01M1428.5 776.3h.01M1541.1 776.5h.01M393.7 776.9h.01M1352.9 776.6h.01M1286.8 776.6h.01M1573.8 776.6h.01M1308.6 776.7h.01M1403.8 776.7h.01M1470 776.7h.01M512.8 777.1h.01M500.7 777.3h.01M1497.2 777h.01M1268.5 777.1h.01M548.2 777.5h.01M1381.8 777.2h.01M1348.3 777.3h.01M520.2 777.6h.01M516.5 777.7h.01M542.5 777.8h.01M359.3 777.9h.01M1556.7 777.5h.01M1501.9 777.6h.01M1463.3 777.6h.01M457.2 778h.01M1435.2 777.7h.01M389.6 778.1h.01M1364.4 777.8h.01M1472.3 777.8h.01M1274.1 777.9h.01M1355 777.9h.01M1368.2 778h.01M525.1 778.3h.01M1412.3 778h.01M1545.7 778h.01M385.4 778.4h.01M396.1 778.5h.01M1465.8 778.2h.01M1336.7 778.3h.01M1604.8 778.3h.01M539.5 778.6h.01M1431.3 778.3h.01M1440.6 778.4h.01M435.1 778.8h.01M378.9 778.8h.01M1488.4 778.5h.01M1293.7 778.6h.01M1576.8 778.6h.01M1287.6 778.7h.01M504.2 779h.01M1535.8 778.6h.01M1358.2 778.8h.01M552.1 779.1h.01M1600.1 778.8h.01M1518.8 778.8h.01M438.2 779.2h.01M1571.2 778.8h.01M1458.6 778.9h.01M1259.6 779h.01M413.9 779.3h.01M558.3 779.3h.01M368.7 779.4h.01M1269 779.1h.01M454.5 779.4h.01M463.3 779.5h.01M1414.2 779.2h.01M1391.4 779.3h.01M1264.6 779.4h.01M1432.9 779.3h.01M1448.6 779.4h.01M353 779.8h.01M1276.9 779.6h.01M418.5 780h.01M448.9 780.1h.01M556 780.1h.01M1453.8 779.8h.01M1385 779.8h.01M444.8 780.2h.01M1526 779.8h.01M530.7 780.2h.01M1497.5 780h.01M1351.1 780.1h.01M1397.9 780.1h.01M397.5 780.5h.01M1409.4 780.1h.01M1329.6 780.2h.01M427.6 780.5h.01M587.5 780.5h.01M1279.4 780.4h.01M1436.8 780.5h.01M488.7 780.9h.01M1320.3 780.6h.01M1363.7 780.7h.01M1504.9 780.7h.01M1346 780.7h.01M464.5 781h.01M517.6 781h.01M1342.2 780.9h.01M1289.7 780.9h.01M526.2 781.2h.01M1388.2 781h.01M538.2 781.4h.01M524 781.4h.01M1420 781.2h.01M431.9 781.5h.01M401 781.5h.01M1267.7 781.4h.01M1586 781.4h.01M1354.7 781.5h.01M1547.5 781.5h.01M360.5 782h.01M1417.2 781.7h.01M1433 781.8h.01M1272.8 781.9h.01M1332.6 781.9h.01M1449.9 781.9h.01M477.9 782.3h.01M1359.6 782h.01M1301.7 782h.01M504.9 782.3h.01M1582.9 782h.01M452.6 782.4h.01M1428.8 782.1h.01M1578.4 782.1h.01M1262.8 782.2h.01M421.4 782.6h.01M699.2 782.5h.01M407.4 782.6h.01M1491.1 782.3h.01M468.2 782.6h.01M482.8 782.6h.01M1551.3 782.3h.01M435.6 782.8h.01M354.9 782.8h.01M1403.8 782.5h.01M1392.2 782.5h.01M557.1 782.8h.01M1463.9 782.5h.01M1478.2 782.5h.01M531.9 783h.01M1310.8 782.8h.01M1425.8 782.7h.01M1409.9 782.7h.01M1543.1 782.7h.01M473.1 783.1h.01M456.1 783.2h.01M514.6 783.3h.01M1364.9 783h.01M1350 783.1h.01M1518.6 783.1h.01M350.3 783.5h.01M1346.5 783.2h.01M1441 783.2h.01M1286.6 783.3h.01M1374.6 783.3h.01M1485.6 783.2h.01M1352 783.3h.01M441.7 783.6h.01M429.5 783.8h.01M1437.2 783.5h.01M526.1 783.8h.01M1564.8 783.5h.01M1253.6 783.6h.01M1354.1 783.6h.01M1601.6 783.6h.01M540.2 784h.01M1395.1 783.7h.01M497.8 784.2h.01M1606 783.9h.01M548 784.2h.01M1597.1 783.9h.01M371.2 784.3h.01M491 784.3h.01M418.5 784.4h.01M438.4 784.4h.01M1276.4 784.2h.01M1289 784.3h.01M1360.3 784.6h.01M1408 784.6h.01M470.4 784.9h.01M1356.9 784.6h.01M1381.9 784.6h.01M1369.1 784.8h.01M402.5 785.1h.01M1340.4 784.8h.01M448.6 785.3h.01M1428.5 784.9h.01M1332.4 785h.01M1573.9 785h.01M1581 785h.01M362.7 785.4h.01M390.3 785.5h.01M1272 785.2h.01M413.9 785.7h.01M1470.7 785.3h.01M522.7 785.6h.01M357.4 785.9h.01M1390.7 785.5h.01M1366.2 785.6h.01M485.4 785.9h.01M1448.1 785.6h.01M459.2 786h.01M353.6 786.1h.01M506.3 786.1h.01M1477.6 785.8h.01M1507.3 785.8h.01M480.1 786.4h.01M1295 786.2h.01M1304.8 786.3h.01M408.5 786.6h.01M474.9 786.7h.01M1383.4 786.4h.01M1315.3 786.4h.01M465.5 786.7h.01M1338.2 786.4h.01M435.6 786.9h.01M1529.1 786.6h.01M359.2 787.2h.01M1246.6 786.9h.01M1300.9 786.9h.01M1368 787h.01M1326.1 787h.01M1377.2 787.1h.01M1543.1 787.1h.01M559.6 787.5h.01M1274.6 787.2h.01M469.6 787.5h.01M535.7 787.7h.01M1373.1 787.4h.01M1319.4 787.5h.01M1353.5 787.5h.01M1401.8 787.6h.01M1501.1 787.6h.01M463 788h.01M1412.3 787.7h.01M389.7 788.1h.01M1523.4 787.8h.01M361.6 788.2h.01M402.8 788.2h.01M1322.6 788h.01M385.1 788.3h.01M367.1 788.4h.01M1404.3 788.1h.01M350.7 788.5h.01M397.1 788.5h.01M1263.7 788.3h.01M452.3 788.6h.01M356.2 788.7h.01M1594.1 788.3h.01M1362.6 788.4h.01M1546 788.4h.01M1309.3 788.6h.01M1491.6 788.6h.01M1469.9 788.6h.01M513.8 789h.01M1517.8 788.7h.01M467.7 789.1h.01M1329.8 788.9h.01M1280.5 788.9h.01M1417.7 788.9h.01M1381.7 788.9h.01M1609.3 788.9h.01M438.5 789.3h.01M1277.1 789.2h.01M1409.8 789.3h.01M1521.7 789.3h.01M353.6 789.7h.01M497.1 789.6h.01M406.2 789.8h.01M1439.9 789.5h.01M1514 789.5h.01M365.1 789.9h.01M410.1 789.9h.01M376 790h.01M1271.5 789.7h.01M1349.6 789.7h.01M1442.9 789.8h.01M1372.1 789.8h.01M1561.2 789.8h.01M491.2 790.2h.01M1525.3 789.9h.01M1287.4 790h.01M1345.7 790h.01M372.7 790.4h.01M1398 790h.01M503.6 790.4h.01M1552.6 790h.01M1452.4 790.1h.01M426.1 790.5h.01M1528.1 790.1h.01M412.7 790.6h.01M1539.4 790.2h.01M1536.2 790.2h.01M1274.9 790.6h.01M1555.3 790.5h.01M1388.9 790.6h.01M362.1 791h.01M449.1 790.9h.01M1509.4 790.6h.01M459.2 791.1h.01M1250.5 790.9h.01M1339.3 790.9h.01M551 791.2h.01M1311.3 791h.01M1473.6 791h.01M1502.7 791h.01M1254.6 791.1h.01M433.4 791.5h.01M1384.3 791.1h.01M1306.8 791.2h.01M1467.7 791.2h.01M1393.8 791.4h.01M1334.8 791.5h.01M1232.4 791.5h.01M1351.9 791.5h.01M472.6 791.9h.01M1316 791.6h.01M1433.8 791.6h.01M1520.8 791.6h.01M467 792.1h.01M557.6 792h.01M1439.9 791.8h.01M488.8 792.2h.01M1322.4 792.1h.01M542.1 792.5h.01M1409.7 792.2h.01M1328.4 792.3h.01M1404.2 792.3h.01M1360.3 792.4h.01M1437.2 792.4h.01M1504.8 792.3h.01M1362.8 792.5h.01M497.6 792.9h.01M1572.4 792.5h.01M1216.9 792.7h.01M1492.9 792.8h.01M1265.4 792.9h.01M1324.9 792.9h.01M1340.7 793h.01M1422.9 793h.01M1414.8 793.1h.01M380.2 793.5h.01M1261 793.3h.01M1401 793.3h.01M453.6 793.6h.01M1200.8 793.4h.01M1368.3 793.4h.01M546.1 793.7h.01M1589.1 793.4h.01M1281.1 793.5h.01M1566.6 793.5h.01M1406 793.5h.01M1380.6 793.6h.01M1248.8 793.7h.01M1522.2 793.7h.01M442.3 794h.01M1486.8 793.7h.01M482.7 794.1h.01M1349.2 793.8h.01M1430.8 793.9h.01M359.9 794.3h.01M500.4 794.3h.01M1377 794h.01M1548.8 794h.01M383.9 794.4h.01M1289.6 794.2h.01M1497.8 794.1h.01M1284.3 794.2h.01M1356.2 794.2h.01M1236.8 794.3h.01M428.8 794.6h.01M1374 794.3h.01M1344.8 794.3h.01M1451.4 794.3h.01M1287.2 794.4h.01M404.6 794.7h.01M1417.4 794.4h.01M537.5 794.8h.01M1434.5 794.5h.01M1528.7 794.5h.01M401.8 794.9h.01M1330.8 794.7h.01M1403.2 794.7h.01M1556.7 794.7h.01M1514.2 794.9h.01M1539.5 794.9h.01M378 795.4h.01M1506.4 795h.01M419.9 795.4h.01M1311.3 795.3h.01M1324.9 795.3h.01M1483.8 795.4h.01M1382.7 795.5h.01M474.1 795.8h.01M1319.5 795.6h.01M1502.2 795.6h.01M358.3 796h.01M371.5 796.1h.01M1532.1 795.8h.01M395.6 796.2h.01M459.5 796.2h.01M437.3 796.3h.01M1477.5 796.1h.01M1559.4 796.1h.01M415.2 796.5h.01M390.2 796.6h.01M1367.2 796.3h.01M1222.5 796.3h.01M1525.5 796.3h.01M1399.6 796.3h.01M552.1 796.7h.01M1466.7 796.4h.01M529.4 796.7h.01M1510.9 796.5h.01M422.6 796.9h.01M1200.9 796.8h.01M1228.7 796.8h.01M1542.3 796.7h.01M507 797.1h.01M1204.1 796.9h.01M1572.8 796.8h.01M503.3 797.2h.01M1313.8 796.9h.01M1358.6 797h.01M1472.9 797h.01M489.8 797.4h.01M446.5 797.4h.01M1489.1 797.2h.01M1318 797.3h.01M1550.9 797.3h.01M485.8 797.6h.01M1436.2 797.4h.01M427.2 797.8h.01M831.3 797.7h.01M1321.1 797.6h.01M1391.7 797.8h.01M1429.7 797.8h.01M1293.8 797.9h.01M392.8 798.2h.01M367.7 798.2h.01M1270.7 798h.01M381.1 798.3h.01M1454.3 798h.01M1308.2 798h.01M1432.6 798h.01M1378.1 798.1h.01M1527.6 798h.01M946.5 798.3h.01M406.2 798.5h.01M942.2 798.3h.01M492.6 798.5h.01M1584 798.1h.01M1567.9 798.2h.01M1236.8 798.4h.01M532.1 798.8h.01M543.2 798.9h.01M525.4 798.9h.01M510.3 798.9h.01M1464.5 798.6h.01M370.9 799h.01M478.8 799.1h.01M365.6 799.1h.01M1447.4 798.7h.01M833.4 798.9h.01M1282.5 798.8h.01M1387.3 798.8h.01M470.3 799.1h.01M401.5 799.2h.01M439.1 799.2h.01M1422.7 798.9h.01M1537.2 798.9h.01M1285.5 799h.01M1355.1 799h.01M852.3 799.2h.01M1586.8 798.9h.01M1324 799.2h.01M413.1 799.5h.01M1273.5 799.2h.01M399.1 799.5h.01M1481.4 799.2h.01M499.4 799.7h.01M1344.3 799.5h.01M1352.2 799.5h.01M1494.6 799.5h.01M363 799.9h.01M507.7 799.9h.01M1512.5 799.6h.01M1532.7 799.7h.01M423.2 800.1h.01M1413.9 799.9h.01M505.2 800.3h.01M1317.8 800h.01M1403.7 800.1h.01M1440.1 800.2h.01M1417.1 800.2h.01M549.3 800.5h.01M1253.7 800.4h.01M841.8 800.6h.01M367.1 800.8h.01M1433.6 800.4h.01M467.4 800.8h.01M436.2 800.8h.01M1314.3 800.5h.01M554.4 800.8h.01M1541.6 800.5h.01M1320.6 800.6h.01M1269.8 800.7h.01M1552.6 800.6h.01M1488.2 800.7h.01M1527.7 800.7h.01M1399.6 800.8h.01M830.3 801h.01M822.6 801h.01M475.6 801.2h.01M519.9 801.3h.01M1451.8 801h.01M1564 801h.01M384.5 801.4h.01M1287.6 801.3h.01M489.8 801.6h.01M375.2 801.6h.01M1293.3 801.3h.01M416.6 801.6h.01M1371.4 801.4h.01M1236.8 801.5h.01M1491.7 801.6h.01M1580.9 801.6h.01M431.7 802h.01M588.8 802h.01M940.3 801.9h.01M1561.6 801.8h.01M453.2 802.2h.01M391.9 802.2h.01M1335.3 801.9h.01M1328.4 802.1h.01M1324.3 802.1h.01M1343.5 802.1h.01M1430.1 802.1h.01M1445.6 802.2h.01M545.2 802.6h.01M1412.1 802.3h.01M842 802.5h.01M1261.6 802.4h.01M1423.6 802.4h.01M411.4 802.8h.01M944 802.6h.01M1276.3 802.6h.01M1361.8 802.6h.01M1435.7 802.6h.01M393.9 803h.01M439.1 803.1h.01M844.4 803h.01M1426.8 802.8h.01M1420 802.9h.01M1415.1 802.9h.01M413.6 803.3h.01M357.6 803.3h.01M390.1 803.3h.01M1295.9 803.1h.01M1476.7 803.1h.01M849.4 803.4h.01M839.5 803.4h.01M398.2 803.6h.01M1448.1 803.2h.01M1549.5 803.2h.01M1538.2 803.2h.01M1504.4 803.3h.01M1532.5 803.3h.01M482.4 803.7h.01M479.9 803.7h.01M523 803.7h.01M530.7 803.7h.01M370.2 803.9h.01M1525.7 803.5h.01M366.4 803.9h.01M385.6 803.9h.01M526.1 803.9h.01M854.8 803.8h.01M851.8 803.9h.01M1564 803.7h.01M405.1 804.1h.01M376.5 804.1h.01M476.1 804.2h.01M1559.5 803.9h.01M1430.9 804h.01M1377 804h.01M484.8 804.3h.01M501.2 804.4h.01M401.6 804.4h.01M373.4 804.5h.01M1264 804.2h.01M1308 804.5h.01M549.7 804.7h.01M418.3 804.8h.01M1498.8 804.5h.01M1428.3 804.6h.01M1409.4 804.7h.01M1462 804.6h.01M1293.5 804.7h.01M1326.5 804.7h.01M1281.5 804.7h.01M406.9 805.1h.01M1299.6 804.8h.01M924 804.9h.01M415.5 805.3h.01M473 805.3h.01M1342.2 805.1h.01M1316.8 805.1h.01M841.2 805.4h.01M827.3 805.4h.01M452.8 805.5h.01M467.9 805.6h.01M622 805.5h.01M843 805.4h.01M1416.1 805.3h.01M857.8 805.6h.01M1574.9 805.4h.01M433.3 805.7h.01M380.2 805.8h.01M391.6 805.9h.01M1320.6 805.6h.01M505.4 805.9h.01M940.8 805.7h.01M1349.9 805.6h.01M514.9 806h.01M1452.1 805.7h.01M820.3 806h.01M1484.4 805.8h.01M1383.7 805.8h.01M1397.8 805.8h.01M1303.4 805.9h.01M1546.8 805.9h.01M499.1 806.3h.01M1438.8 806.1h.01M1435.9 806.1h.01M837.9 806.4h.01M1323.1 806.3h.01M1578.4 806.2h.01M1272.5 806.3h.01M861.2 806.5h.01M825 806.6h.01M460.7 806.8h.01M446.9 806.8h.01M959.2 806.7h.01M399.6 806.9h.01M942.9 806.8h.01M421.2 807h.01M1490.4 806.7h.01M730 807h.01M1402.3 806.9h.01M1537.6 806.9h.01M1421.7 807h.01M1266.7 807.1h.01M1431.8 807h.01M848.4 807.3h.01M1464.2 807.1h.01M407.2 807.6h.01M758.3 807.5h.01M804.2 807.5h.01M509.6 807.6h.01M1426 807.4h.01M1318.8 807.4h.01M382 808h.01M1448.4 807.7h.01M925.8 808h.01M858.8 808h.01M1556.5 807.8h.01M1498.1 807.8h.01M1450.8 807.8h.01M1444.2 807.9h.01M518.2 808.3h.01M1470.9 808.1h.01M1374.8 808.1h.01M388.4 808.5h.01M786.7 808.3h.01M1282.4 808.2h.01M1306.8 808.2h.01M1382.1 808.2h.01M1507.1 808.2h.01M1414.5 808.2h.01M501.8 808.6h.01M921.2 808.5h.01M438.4 808.7h.01M601.2 808.8h.01M373.8 808.9h.01M973.7 808.7h.01M1325.6 808.7h.01M948 808.9h.01M1329 808.8h.01M1570.1 808.8h.01M1357.2 808.8h.01M378.8 809.2h.01M448.1 809.3h.01M1436.3 808.9h.01M1250.3 809h.01M768.3 809.2h.01M1364.4 809h.01M475.4 809.3h.01M940.6 809.2h.01M494.3 809.4h.01M1300.1 809.1h.01M512.5 809.5h.01M486.4 809.6h.01M861 809.6h.01M472.7 809.7h.01M408.2 809.7h.01M970.1 809.6h.01M364.6 809.8h.01M760 809.7h.01M452.1 809.8h.01M1552.4 809.5h.01M401.2 810h.01M444.3 810h.01M1476.9 809.7h.01M540 810h.01M821.7 810h.01M1318.2 809.8h.01M1404.2 809.9h.01M842.7 810.2h.01M1345.6 810h.01M505.9 810.3h.01M1391.4 810.1h.01M1434.4 810h.01M1432.1 810.1h.01M1273.9 810.1h.01M1514.6 810.1h.01M389.3 810.5h.01M828.5 810.4h.01M912.4 810.4h.01M1388.1 810.2h.01M851.3 810.5h.01M754.2 810.8h.01M1535.7 810.7h.01M1558.8 810.7h.01M1413.3 810.8h.01M418 811.2h.01M384.2 811.2h.01M548.8 811.2h.01M628.8 811.2h.01M367.3 811.4h.01M438.6 811.3h.01M465.2 811.3h.01M1439.6 811h.01M977 811.3h.01M853.3 811.3h.01M1465.6 811.2h.01M503.4 811.5h.01M1487 811.3h.01M819 811.5h.01M1296.4 811.4h.01M1380.4 811.4h.01M740.8 811.7h.01M837.5 811.7h.01M1469.5 811.5h.01M446.8 811.8h.01M1339.5 811.6h.01M1335.1 811.6h.01M496.2 812h.01M1430.5 811.7h.01M1359.5 811.7h.01M845.6 811.9h.01M945.3 811.9h.01M1490.6 811.8h.01M1385.5 811.9h.01M390.9 812.3h.01M725.8 812.2h.01M442.4 812.3h.01M411.5 812.4h.01M1329.1 812.1h.01M426.7 812.4h.01M1299.2 812.2h.01M1399.8 812.2h.01M557.5 812.5h.01M1478.7 812.2h.01M1433.7 812.3h.01M825.6 812.5h.01M770.8 812.5h.01M1322.8 812.4h.01M394.1 812.8h.01M1356.9 812.5h.01M435.8 812.9h.01M1270.3 812.6h.01M1411.7 812.6h.01M1414.7 812.6h.01M1497.2 812.6h.01M491.2 813h.01M748.3 813h.01M1290.4 812.8h.01M866.7 813h.01M1265.1 812.9h.01M1232.5 813h.01M401.1 813.3h.01M430.4 813.4h.01M755.8 813.3h.01M1482.1 813.3h.01M977.2 813.5h.01M841.8 813.6h.01M821.4 813.6h.01M776.7 813.7h.01M1437.1 813.5h.01M497.7 813.8h.01M829.9 813.7h.01M445 813.8h.01M855.7 813.7h.01M1505 813.5h.01M1445.1 813.6h.01M1387.3 813.6h.01M972.3 813.8h.01M1422.1 813.7h.01M1460.5 813.7h.01M1429.8 813.8h.01M422.2 814.1h.01M1327.7 813.9h.01M371.3 814.2h.01M941.1 814.1h.01M785 814.2h.01M375.3 814.3h.01M1260.1 814.1h.01M449.4 814.3h.01M961.4 814.3h.01M1312.3 814.3h.01M849 814.6h.01M957.2 814.5h.01M1394 814.4h.01M1227.5 814.5h.01M407 814.8h.01M810.8 814.7h.01M1366.6 814.7h.01M543.8 815h.01M773.3 815h.01M1267.1 814.8h.01M387.1 815.2h.01M1399.3 815h.01M823.9 815.2h.01M395.9 815.5h.01M795 815.3h.01M949.2 815.3h.01M1383.7 815.2h.01M451.2 815.6h.01M1570 815.4h.01M1478 815.5h.01M1345.9 815.6h.01M488.9 815.9h.01M735 815.8h.01M1339.8 815.6h.01M756.7 815.8h.01M778.3 815.8h.01M852.8 815.8h.01M1359.5 815.7h.01M1500.3 815.7h.01M405 816h.01M1288.1 815.8h.01M379.2 816.1h.01M1386.2 815.8h.01M1495.8 815.8h.01M445.1 816.2h.01M1355.3 815.9h.01M1574.6 815.9h.01M1409.8 816h.01M1578.9 816h.01M1298.8 816.2h.01M469.5 816.5h.01M1391.3 816.2h.01M1379.3 816.2h.01M1543.9 816.2h.01M418.1 816.7h.01M440.1 816.7h.01M1285.7 816.5h.01M918.3 816.7h.01M930 816.7h.01M1328 816.6h.01M1293.9 816.7h.01M503.5 817.1h.01M1352.1 816.8h.01M1280.5 816.9h.01M959.8 817h.01M859.6 817.1h.01M1310.5 817.1h.01M493.6 817.4h.01M1290.5 817.2h.01M1519.6 817.1h.01M827.3 817.4h.01M552.5 817.5h.01M734.2 817.5h.01M740 817.5h.01M450.7 817.6h.01M1261.4 817.4h.01M938.7 817.5h.01M402.9 817.8h.01M1525.9 817.4h.01M1433.2 817.5h.01M1400.3 817.5h.01M1395.9 817.6h.01M1357.2 817.6h.01M775.8 818h.01M1334.1 817.8h.01M1452.6 817.8h.01M832.2 818h.01M1367.4 817.9h.01M950.4 818.2h.01M975.7 818.2h.01M782.5 818.3h.01M1354.4 818.2h.01M964 818.3h.01M1476.2 818.2h.01M1371.9 818.3h.01M946.4 818.5h.01M1504.9 818.4h.01M541.2 818.8h.01M1317.7 818.5h.01M1470.6 818.5h.01M1376.6 818.6h.01M384.2 819.1h.01M849.5 818.9h.01M1490.4 818.7h.01M853.3 819h.01M1313.5 818.9h.01M1384.3 819h.01M969.1 819.3h.01M1412.8 819.1h.01M390.8 819.5h.01M448.6 819.5h.01M1291.6 819.3h.01M394.7 819.6h.01M1345 819.4h.01M464.9 819.7h.01M461.6 819.7h.01M405.2 819.8h.01M410.6 819.8h.01M399.6 819.9h.01M952.8 819.7h.01M455 820.1h.01M1466.4 819.8h.01M483.7 820.1h.01M933.2 820h.01M1330.8 820h.01M843 820.2h.01M1380.5 820h.01M437.5 820.4h.01M443.1 820.4h.01M1424.7 820.4h.01M1393.9 820.5h.01M1351.3 820.5h.01M1518 820.6h.01M1451.8 820.7h.01M855.1 820.9h.01M1357.6 820.8h.01M1387.1 820.9h.01M831.9 821.1h.01M547.5 821.2h.01M973.2 821.2h.01M390.2 821.4h.01M1273.4 821.2h.01M1416 821.2h.01M1374.1 821.3h.01M1307.6 821.4h.01M1511.1 821.3h.01M1448.8 821.3h.01M962.3 821.6h.01M411.5 821.8h.01M424.2 821.9h.01M386.4 821.9h.01M1313.5 821.6h.01M404.1 822h.01M858.8 821.9h.01M872.2 822h.01M432.8 822.3h.01M841.5 822.2h.01M435.9 822.3h.01M487 822.3h.01M825.8 822.2h.01M415.6 822.4h.01M970.1 822.3h.01M532.5 822.5h.01M947.3 822.5h.01M397.5 822.8h.01M1399 822.5h.01M1310.6 822.7h.01M1445.3 822.8h.01M468.1 823.1h.01M834.6 823h.01M1333.4 822.9h.01M1297.7 823h.01M775 823.3h.01M1292 823.2h.01M1434.9 823.3h.01M1288.1 823.4h.01M1406 823.4h.01M413.4 823.7h.01M1266.6 823.6h.01M421.1 823.9h.01M860.7 823.8h.01M1452.4 823.6h.01M462.2 824h.01M1411.7 823.8h.01M1417.6 823.9h.01M431.5 824.4h.01M840.6 824.2h.01M1300.4 824.1h.01M384.1 824.5h.01M401.1 824.5h.01M1307.3 824.3h.01M810.6 824.5h.01M1340.5 824.4h.01M1349.4 824.5h.01M1392.9 824.5h.01M444.7 824.8h.01M1295 824.5h.01M1328.1 824.5h.01M1318.3 824.5h.01M394.9 824.9h.01M1354.3 824.6h.01M1478.1 824.6h.01M495 825h.01M458.8 825h.01M416.3 825.1h.01M428 825.3h.01M1314.3 825h.01M704.5 825.3h.01M932 825.3h.01M1285.5 825.3h.01M1457.7 825.3h.01M1518.6 825.4h.01M1455.5 825.4h.01M450.9 825.8h.01M1289.8 825.5h.01M408.3 825.9h.01M389.2 826h.01M952.5 825.8h.01M423.7 826h.01M398.9 826h.01M960 825.9h.01M843.6 826h.01M435 826.2h.01M466.2 826.2h.01M823.2 826.2h.01M847.7 826.2h.01M419 826.4h.01M833.4 826.3h.01M836.4 826.5h.01M1386.6 826.4h.01M789.2 826.7h.01M431.8 827h.01M829 826.9h.01M955.5 826.9h.01M1371.7 826.8h.01M819.8 827h.01M436.7 827.4h.01M393.9 827.4h.01M948.5 827.3h.01M445.1 827.4h.01M1452.5 827.1h.01M1404.9 827.2h.01M766.7 827.5h.01M1271.4 827.3h.01M1465.1 827.3h.01M1471.2 827.4h.01M400.9 827.8h.01M928.1 827.7h.01M809.3 827.7h.01M411.3 827.9h.01M1442.5 827.7h.01M814.2 828h.01M456.9 828.3h.01M1308.5 828h.01M852.6 828.2h.01M1427.6 828.1h.01M935.8 828.3h.01M784.2 828.3h.01M385.1 828.5h.01M1375 828.3h.01M1322.3 828.5h.01M497.5 828.8h.01M612.5 828.8h.01M422 828.9h.01M863.2 828.8h.01M1430.9 828.6h.01M963.8 828.8h.01M406.4 829h.01M1399.7 828.7h.01M967.4 829.1h.01M780 829.2h.01M805.5 829.2h.01M409.4 829.4h.01M1409.1 829.2h.01M451.4 829.6h.01M827 829.6h.01M1326.9 829.5h.01M1348.9 829.5h.01M1319.3 829.6h.01M939.3 829.7h.01M1372.3 829.6h.01M1333.2 829.6h.01M753.3 830h.01M1345.4 829.8h.01M1436.2 829.8h.01M846.9 830h.01M393.7 830.2h.01M868.1 830.1h.01M1401.9 830h.01M402.1 830.3h.01M920.4 830.1h.01M1405.8 830h.01M811.5 830.4h.01M957.3 830.3h.01M432 830.5h.01M414.8 830.6h.01M853.3 830.4h.01M960.6 830.6h.01M411.1 830.8h.01M1396.1 830.5h.01M744.2 830.8h.01M949.5 830.8h.01M886.7 830.8h.01M829 831.1h.01M923.8 831.1h.01M608.8 831.2h.01M384.7 831.4h.01M749.2 831.3h.01M1458.8 831.1h.01M967.5 831.3h.01M1393.1 831.3h.01M1322.4 831.3h.01M1389.5 831.4h.01M1462.3 831.4h.01M746.7 831.7h.01M955.1 831.7h.01M1452.7 831.6h.01M1328.6 831.7h.01M1337.3 831.8h.01M1281.1 831.8h.01M395.4 832.2h.01M857.6 832.2h.01M874.9 832.2h.01M1332.5 832.1h.01M969.9 832.4h.01M402.1 832.6h.01M388.1 832.7h.01M1400.2 832.3h.01M446 832.7h.01M961.8 832.5h.01M852.2 832.7h.01M1407.9 832.5h.01M913.3 832.6h.01M1348.9 832.6h.01M849.3 833h.01M407.6 833.2h.01M817.6 833.1h.01M946.3 833.3h.01M1342.4 833.3h.01M866.7 833.5h.01M1346.5 833.4h.01M956.1 833.7h.01M424.5 834.1h.01M871.5 833.9h.01M925.3 834h.01M1387 833.9h.01M858.2 834.2h.01M1402.9 834.1h.01M453.5 834.4h.01M834.2 834.3h.01M436.9 834.5h.01M410 834.7h.01M1427.5 834.5h.01M1433.8 834.5h.01M851.3 834.7h.01M953.8 834.8h.01M582.5 835h.01M440.6 835.2h.01M1391.5 834.9h.01M432.5 835.3h.01M1358.3 835.1h.01M407.4 835.4h.01M1324.8 835.2h.01M394.5 835.7h.01M1381.7 835.4h.01M402.3 835.8h.01M874.8 835.6h.01M391.7 835.8h.01M1455 835.5h.01M957.4 835.7h.01M960.8 835.7h.01M388.1 836h.01M417.5 836h.01M946.3 836h.01M463.8 836.2h.01M1366.7 836.1h.01M1396.9 836.2h.01M1385.1 836.3h.01M463.2 836.7h.01M1355.8 836.5h.01M411.4 837h.01M393.2 837h.01M586.2 837h.01M1345.3 837.2h.01M441.1 837.5h.01M924.7 837.4h.01M1342.9 837.3h.01M1456 837.3h.01M450.5 837.7h.01M404.9 837.8h.01M393.1 838h.01M443.5 838.2h.01M839.9 838.1h.01M931.2 838.2h.01M1347.7 838.2h.01M1371.9 838.4h.01M431.1 838.7h.01M668.8 838.8h.01M1350.6 838.5h.01M1375.4 838.6h.01M954.6 838.7h.01M915.8 838.8h.01M906.9 838.9h.01M1336.8 838.8h.01M1359.5 839.1h.01M1398.7 839.2h.01M447.2 839.6h.01M975.3 839.6h.01M451.8 840h.01M440.9 840h.01M398.6 840.1h.01M948.9 839.9h.01M416.6 840.2h.01M1346.4 840.2h.01M967.2 840.4h.01M941.5 840.6h.01M438.9 841.1h.01M462.6 841.1h.01M1374.9 841h.01M425 841.4h.01M1331 841.3h.01M385.5 841.9h.01M421.8 841.9h.01M1364.7 841.7h.01M982.5 842h.01M1369.7 841.9h.01M447.7 842.3h.01M605.3 842.3h.01M405.7 842.7h.01M1354.1 842.5h.01M1337.8 842.7h.01M426.6 843.1h.01M1359.9 843h.01M626.7 843.5h.01M434.6 843.5h.01M381.5 843.6h.01M980.1 843.4h.01M424.2 843.6h.01M1347.8 843.5h.01M441.4 844h.01M939.4 844h.01M616.6 844.2h.01M1334.3 844h.01M517.5 844.4h.01M514.1 844.7h.01M545.6 844.7h.01M405.8 844.9h.01M414.2 845.4h.01M524.2 845.6h.01M503.3 845.6h.01M549.9 845.6h.01M416.1 845.8h.01M1347.9 845.7h.01M1344.1 845.7h.01M605 846h.01M961.4 846h.01M631.7 846.3h.01M474.4 846.4h.01M576.6 846.4h.01M466.5 846.5h.01M595.3 846.5h.01M1353.8 846.6h.01M938.8 847h.01M984.4 847.1h.01M439.1 847.4h.01M402.8 847.4h.01M462.4 847.4h.01M934.7 847.4h.01M521 847.6h.01M586.8 847.8h.01M400.5 847.9h.01M948.4 847.9h.01M663.8 848h.01M959.3 847.9h.01M1339.2 847.8h.01M423.8 848.5h.01M598.3 848.4h.01M567.2 848.5h.01M589.2 848.6h.01M634.8 848.8h.01M452.4 849.4h.01M614.9 849.5h.01M534.3 849.5h.01M946 849.4h.01M570.5 849.8h.01M436.1 849.9h.01M459.1 849.9h.01M965.3 849.7h.01M937.7 849.8h.01M596.5 850h.01M603.8 850.2h.01M627.6 850.3h.01M407.4 850.4h.01M512.9 850.5h.01M583.2 850.5h.01M555.5 850.7h.01M678.8 850.8h.01M680 850.8h.01M623.5 850.9h.01M499 851h.01M560.5 851.1h.01M545.6 851.1h.01M975.1 851.1h.01M530.2 851.5h.01M518.1 851.7h.01M599.6 851.6h.01M377.5 851.8h.01M954.4 851.7h.01M523.9 852h.01M593.5 852.1h.01M509.8 852.4h.01M418.8 852.5h.01M394.4 852.7h.01M979.4 852.6h.01M966 852.7h.01M447.8 852.9h.01M389.6 853h.01M501.4 853.1h.01M498.5 853.2h.01M475.4 853.2h.01M405.1 853.4h.01M398.3 853.5h.01M632.4 853.4h.01M591.1 853.6h.01M604.6 853.8h.01M533.5 853.9h.01M962.3 854.3h.01M376.1 854.6h.01M966 854.5h.01M513.4 854.9h.01M971.5 855.3h.01M397.3 855.7h.01M492.3 855.8h.01M681.7 855.8h.01M393.7 856h.01M560.2 856h.01M496.2 856.1h.01M954 856.1h.01M681.2 856.2h.01M979.4 856.4h.01M569.6 856.7h.01M487.7 856.9h.01M639.2 856.9h.01M1003 857.3h.01M565.5 857.4h.01M959.5 857.6h.01M628 857.7h.01M447.6 857.8h.01M1005.7 857.8h.01M587.7 858h.01M441.7 858h.01M434.8 858.1h.01M997.3 857.9h.01M503.9 858.2h.01M470.5 858.3h.01M404.9 858.4h.01M417.5 858.7h.01M514.7 858.7h.01M499.2 858.7h.01M559.7 859h.01M507.2 859h.01M610.9 859h.01M385.4 859.3h.01M1000.6 859.1h.01M410.8 859.5h.01M388.8 859.6h.01M438.6 859.9h.01M535 860.2h.01M379.9 860.4h.01M428.8 860.6h.01M512.2 860.6h.01M434.7 861.1h.01M469 861.2h.01M471.8 861.3h.01M604.6 861.3h.01M455.5 861.3h.01M562.8 861.5h.01M633.8 861.6h.01M395.9 861.9h.01M997.4 862.1h.01M532.2 862.3h.01M1004.1 862.3h.01M556.8 862.5h.01M539.3 863h.01M416.3 863.9h.01M464.2 863.9h.01M605.3 863.9h.01M365.5 864.1h.01M1013.3 863.9h.01M372 864.5h.01M402.4 864.7h.01M503 864.8h.01M428.7 865h.01M525.4 865h.01M522.2 865h.01M385.2 865.1h.01M631.4 865.5h.01M436.2 865.6h.01M608.4 865.7h.01M481.7 865.8h.01M361.5 866h.01M366.3 866.4h.01M604.7 866.4h.01M411 866.7h.01M488.2 866.8h.01M415.6 867h.01M554.4 867.3h.01M371.3 867.4h.01M534.5 867.4h.01M386.3 867.6h.01M463.4 867.8h.01M628.3 867.8h.01M569.4 868h.01M388.1 868.2h.01M458 868.3h.01M612.7 868.5h.01M383.1 869h.01M419.5 869.1h.01M445.5 869.2h.01M537 869.3h.01M431.5 869.4h.01M426.6 869.6h.01M580.6 869.5h.01M392.3 869.8h.01M363.1 870h.01M563.6 870h.01M506.9 870h.01M387.6 870.2h.01M539.6 870.3h.01M549.1 870.3h.01M366.8 870.6h.01M452.6 870.6h.01M529.6 870.6h.01M623.2 870.9h.01M504.5 871.1h.01M555.2 871.2h.01M449.2 871.3h.01M558.2 871.4h.01M574.2 871.5h.01M512.6 871.7h.01M434.2 871.8h.01M438.6 871.8h.01M924.7 871.7h.01M466.7 871.8h.01M364.2 872.3h.01M618.2 872.2h.01M463.1 872.3h.01M384.1 872.7h.01M396.6 872.7h.01M588 872.7h.01M369.2 872.9h.01M478.7 872.9h.01M392 872.9h.01M372.6 873.1h.01M541.5 873.1h.01M474.1 873.2h.01M527.6 873.4h.01M401 873.4h.01M404.1 873.5h.01M627.6 874.2h.01M533.5 874.3h.01M530.6 874.5h.01M621.6 874.4h.01M432.1 874.7h.01M465.2 874.7h.01M481.9 874.7h.01M424.7 874.8h.01M461.9 875h.01M367.9 875h.01M450.6 875.1h.01M539.4 875.1h.01M569.9 875.1h.01M398.1 875.3h.01M376.1 875.4h.01M536.8 875.4h.01M363.9 876.1h.01M395.3 876.2h.01M617.5 876.1h.01M486 876.6h.01M584.2 876.6h.01M476 876.7h.01M575.7 876.7h.01M514.4 876.8h.01M499.8 877.1h.01M440.3 877.2h.01M543.9 877.3h.01M571.5 877.3h.01M365.6 877.4h.01M398.4 877.6h.01M462.5 877.6h.01M553.8 877.8h.01M596.3 877.9h.01M479 877.9h.01M421.6 878.1h.01M369.4 878.3h.01M492.8 878.3h.01M548.9 878.6h.01M358.8 878.7h.01M922.5 878.7h.01M525.9 878.9h.01M454.2 879.2h.01M447.7 879.3h.01M560.4 879.3h.01M538.3 879.5h.01M430.5 879.5h.01M582.9 880h.01M479.6 880.2h.01M588.3 880.2h.01M388.6 880.5h.01M504.6 880.5h.01M383.7 880.7h.01M482.3 880.8h.01M416.1 880.9h.01M547 880.8h.01M379.9 881h.01M592.3 881.1h.01M535.9 881.1h.01M617.6 881.3h.01M576 881.7h.01M400.1 882h.01M558.8 882.5h.01M481.5 882.7h.01M402.8 882.9h.01M365.4 883.4h.01M520.9 883.4h.01M562.4 883.5h.01M615.4 883.5h.01M598.4 883.7h.01M579.6 884h.01M457.3 884h.01M369.2 884.2h.01M539.3 884.1h.01M532.1 884.3h.01M555.3 884.4h.01M409.8 884.8h.01M389.5 885h.01M511.3 885.1h.01M503.1 885.4h.01M385.8 885.5h.01M596.2 885.5h.01M582.8 886.3h.01M593.1 886.3h.01M374.8 886.4h.01M519.9 886.5h.01M624.3 886.5h.01M494.1 886.7h.01M476.6 886.8h.01M401.7 887h.01M605.1 887.3h.01M383 887.6h.01M462.6 887.5h.01M410.3 887.7h.01M387.3 887.9h.01M533 887.8h.01M471.5 888h.01M448.6 888.1h.01M567.8 888.2h.01M414.2 888.4h.01M479.8 888.4h.01M545.4 888.5h.01M407.5 888.6h.01M522.2 888.8h.01M580.5 888.9h.01M435.8 889.1h.01M404.3 889.4h.01M564.8 889.4h.01M441.2 889.7h.01M552.7 889.7h.01M490.5 889.8h.01M620.8 889.8h.01M418.2 889.9h.01M602.2 889.9h.01M391.7 890h.01M514.6 890.2h.01M559.2 890.4h.01M431.6 890.6h.01M369.8 890.6h.01M510.5 890.7h.01M381.5 890.8h.01M526.4 891h.01M498.1 891.1h.01M454.6 891.3h.01M449.1 891.6h.01M513.1 891.7h.01M554.1 891.8h.01M521.5 892h.01M545.9 892.1h.01M606.6 892.3h.01M392.9 892.4h.01M518.4 892.4h.01M434.4 892.4h.01M603.2 892.4h.01M515.7 892.5h.01M571.1 892.5h.01M408.9 893.3h.01M549.4 893.3h.01M457.4 893.3h.01M385.5 893.4h.01M551.6 893.5h.01M512.9 893.8h.01M440.9 893.9h.01M490.5 894.1h.01M510.4 894.2h.01M399.9 894.3h.01M451.8 894.4h.01M581.1 894.5h.01M555.2 894.9h.01M462.8 894.9h.01M577.5 894.9h.01M596.9 895h.01M516.1 895h.01M501 895.7h.01M420.5 895.8h.01M430.8 895.8h.01M526.4 895.9h.01M600.7 896.3h.01M511.8 896.5h.01M565.8 896.7h.01M377.6 897h.01M544.5 897.1h.01M515.8 897.3h.01M611.5 897.5h.01M504.5 897.7h.01M575.4 898h.01M468.8 898.2h.01M532.3 898.3h.01M625 898.4h.01M366 898.7h.01M482.7 899.1h.01M595.3 899.4h.01M627.5 899.4h.01M425.1 900.1h.01M491.3 900.2h.01M515.2 900.3h.01M373.6 900.7h.01M564.9 901.2h.01M402.3 901.3h.01M586.9 901.5h.01M514.2 902.7h.01M496.1 902.7h.01M498.9 902.8h.01M384.3 902.9h.01M391.9 903.3h.01M442.8 903.4h.01M477 903.6h.01M400.3 904.2h.01M543.3 904.6h.01M484.4 905h.01M445.6 905h.01M520.8 906.4h.01M579.2 906.4h.01M380.6 906.6h.01M370.7 906.7h.01M508.3 906.7h.01M424.6 906.8h.01M453.9 906.9h.01M574.7 907.1h.01M378.2 907.2h.01M386.6 907.7h.01M599.1 907.8h.01M427.8 908h.01M492 908.1h.01M544.3 908.4h.01M526 908.4h.01M528.4 908.5h.01M514.4 908.7h.01M510.6 909.3h.01M477.5 909.7h.01M497.9 909.8h.01M377.6 910h.01M534 910h.01M518.8 910h.01M457.3 910.1h.01M574.4 910.4h.01M566.3 910.5h.01M490 910.7h.01M506.9 911h.01M433.3 911.1h.01M443.5 911.5h.01M544.3 911.6h.01M495.9 911.7h.01M390.3 911.8h.01M601.9 911.8h.01M398.3 912.1h.01M488.2 912.2h.01M604.9 912.5h.01M491.6 913.4h.01M395.2 913.5h.01M468.1 913.5h.01M419.5 913.7h.01M511.9 913.8h.01M386.6 913.9h.01M575.9 914.7h.01M565.3 914.8h.01M444 914.9h.01M381 915.1h.01M582 915.4h.01M432.7 915.7h.01M547.8 915.7h.01M400.6 915.8h.01M472.6 915.9h.01M417.3 916.2h.01M385 916.3h.01M589.5 916.6h.01M390 916.7h.01M405.6 916.8h.01M559.3 917h.01M526.4 917h.01M411 917.2h.01M452.1 917.5h.01M497.2 917.5h.01M506.1 917.6h.01M520.3 918h.01M419 918.2h.01M528.5 918.1h.01M423.7 918.2h.01M462.5 918.3h.01M392.4 918.5h.01M386 918.5h.01M485.6 918.8h.01M443.4 920.1h.01M581.5 920.4h.01M468.7 920.6h.01M510.6 920.8h.01M502.4 921.1h.01M453.1 921.2h.01M523 921.3h.01M427.9 921.4h.01M418.2 921.8h.01M421.1 922h.01M463.9 922h.01M456.1 922.1h.01M441.5 922.4h.01M485.8 922.5h.01M492 922.5h.01M411.7 922.6h.01M425.5 922.7h.01M507.4 923.3h.01M520.1 923.3h.01M593.6 923.5h.01M470.3 923.8h.01M392.8 924.1h.01M408.8 924.1h.01M541.4 924.4h.01M411 924.6h.01M503.4 924.7h.01M505.4 924.8h.01M508.7 925.1h.01M532.4 925.2h.01M558 925.2h.01M468.9 925.4h.01M463.8 925.6h.01M569.6 925.6h.01M518 926.5h.01M491.6 926.5h.01M484.2 926.5h.01M521.5 926.5h.01M446.2 926.9h.01M422.2 926.9h.01M425 927.4h.01M495 927.4h.01M502.5 927.4h.01M511.4 927.6h.01M567.8 927.8h.01M401.6 928.1h.01M475.6 928.2h.01M471.9 928.4h.01M562.7 928.4h.01M414.2 928.6h.01M518.6 929.3h.01M406.2 929.6h.01M468.7 929.6h.01M408.4 930h.01M477.5 930.9h.01M444.4 931.3h.01M505.9 931.3h.01M572.9 931.4h.01M515.4 931.6h.01M416.1 932.2h.01M495.8 932.2h.01M454 932.2h.01M525.1 932.4h.01M547.2 932.5h.01M412.9 933h.01M498.4 933.1h.01M521.7 933.3h.01M585.4 933.6h.01M550.3 933.7h.01M513.9 933.8h.01M536.9 934h.01M560.8 934h.01M570.3 934.2h.01M418.9 934.7h.01M578.2 934.7h.01M511.3 934.8h.01M456.8 935h.01M481.6 935.6h.01M557.7 935.7h.01M432.7 936.9h.01M503.4 937.1h.01M551.8 937.6h.01M566.7 937.7h.01M494.6 938.7h.01M498.9 938.9h.01M563 940.1h.01M548.3 940.5h.01M438.8 941.1h.01M463 941.1h.01M544 941.4h.01M559.4 941.5h.01M547.8 944.3h.01M552.3 944.6h.01M525.6 945.2h.01M448.7 946.2h.01M574.3 946.5h.01M472.5 947.1h.01M557.3 947.9h.01M519.5 948.7h.01M452.4 949.1h.01M528.9 949.6h.01M555.9 950.9h.01M479.3 952h.01M554 953.2h.01M473.6 957.4h.01M539.8 958.1h.01M507.4 958.2h.01M478.2 958.2h.01M490.3 963h.01M536.4 963.2h.01M482.7 963.7h.01M470.3 964.5h.01M474.7 964.7h.01M538.1 965.5h.01M482 966.7h.01M520.7 966.8h.01M527.4 968.6h.01M1331.1 1037.3h.01M1327.2 1037.8h.01M1353.4 1038.6h.01M1337.3 1039.8h.01M1348.3 1041.8h.01M1332.9 1042h.01M1341.5 1043.6h.01M1327.7 1044.6h.01M1476 1045.5h.01M1479.5 1045.7h.01M1331.6 1045.9h.01M1336.4 1046.3h.01M1347.6 1046.4h.01M1489.4 1046.5h.01M1321.9 1048.4h.01M1469.8 1048.9h.01M1510.3 1049h.01M1477 1049.2h.01M1507.5 1049.3h.01M1318.5 1049.5h.01M1330.7 1049.7h.01M1336.7 1049.9h.01M1501.3 1049.9h.01M1497.3 1049.9h.01M1512.7 1051.5h.01M1326.7 1051.7h.01M1535.8 1052.4h.01M1350.1 1052.5h.01M1478 1052.6h.01M1378.8 1053h.01M1484.7 1053.3h.01M1334.9 1053.4h.01M1339.4 1053.7h.01M1328.7 1053.8h.01M1332.5 1054.4h.01M1492.7 1054.5h.01M1316.3 1054.7h.01M1526.8 1054.7h.01M1489 1055.2h.01M1348 1055.5h.01M1539.5 1056h.01M1553.9 1056.4h.01M1506.8 1056.4h.01M1324.3 1056.5h.01M1343.5 1056.7h.01M1357.4 1056.7h.01M1550.8 1056.7h.01M1429.2 1056.8h.01M1485.8 1056.8h.01M1310.8 1056.9h.01M1349.6 1057.1h.01M1493.4 1057.4h.01M1391.3 1057.5h.01M1322.4 1057.9h.01M1296.8 1058.1h.01M1345.4 1058.2h.01M1331.2 1058.3h.01M1347.5 1058.7h.01M1596.2 1058.8h.01M1338.2 1058.9h.01M1540.3 1059h.01M1543.1 1059h.01M1311.7 1059.2h.01M1514.9 1060h.01M1317.7 1060.3h.01M1494 1060.3h.01M1499.5 1060.4h.01M1563.2 1060.4h.01M1507.7 1060.4h.01M1349.4 1060.7h.01M1366.7 1061.1h.01M1346.1 1061.2h.01M1331.5 1061.3h.01M1636.2 1061.2h.01M1532.7 1061.4h.01M1536.4 1061.5h.01M1294.3 1062h.01M1524.2 1061.9h.01M1316.7 1062h.01M1306 1062.2h.01M1353.7 1062.2h.01M1521.3 1062.2h.01M1336.9 1062.4h.01M1551.8 1062.3h.01M1543.1 1062.4h.01M1503.7 1062.7h.01M1386.9 1063.3h.01M1363.8 1063.4h.01M1324.8 1063.4h.01M1349.6 1063.7h.01M1501.6 1064h.01M1571.2 1064h.01M1297.7 1064.2h.01M1322.3 1064.3h.01M1294.3 1064.4h.01M1560.3 1064.5h.01M1505.6 1064.7h.01M1342.9 1064.9h.01M1313.4 1065h.01M1374.1 1065.2h.01M1369 1065.3h.01M1581 1065.3h.01M1528 1065.4h.01M1598.7 1065.6h.01M1532.6 1065.6h.01M1380.1 1065.8h.01M1551.7 1065.8h.01M1310.3 1066.1h.01M1320 1066.7h.01M1299.8 1066.8h.01M1396.6 1066.9h.01M1546.7 1067h.01M1540.8 1067.1h.01M1554.4 1067.2h.01M1355.6 1067.4h.01M1348.7 1067.5h.01M1573.6 1067.4h.01M1501.6 1067.6h.01M1522.3 1067.6h.01M1328.9 1067.8h.01M1569.8 1067.9h.01M1293.9 1068.5h.01M1608.3 1068.4h.01M1511.8 1068.5h.01M1509.2 1068.7h.01M1321.2 1068.8h.01M1399.1 1068.8h.01M1361.3 1069.2h.01M1505 1069.4h.01M1603.6 1069.4h.01M1598.4 1069.4h.01M1542.4 1069.5h.01M1559 1069.8h.01M1610.9 1069.9h.01M1514.1 1070.1h.01M1533 1070.1h.01M1312.4 1070.3h.01M1649.7 1070.6h.01M1585.5 1070.7h.01M1506.8 1071h.01M1386.1 1071.5h.01M1577.7 1071.5h.01M1619.6 1071.5h.01M1582.4 1071.6h.01M1342.9 1071.7h.01M1288.6 1071.8h.01M1333.6 1072h.01M1325.8 1072h.01M1307.6 1072h.01M1597.6 1072h.01M1636.1 1072h.01M1504.1 1072h.01M1657.4 1072.2h.01M1522.1 1072.3h.01M1293.4 1072.6h.01M1593.7 1072.6h.01M1562 1072.8h.01M1648.5 1072.8h.01M1580.5 1073h.01M1546.9 1073.1h.01M1339.2 1073.2h.01M1613.3 1073.6h.01M1319.9 1073.8h.01M1506.1 1073.9h.01M1530.5 1074h.01M1503.6 1074.1h.01M1652.3 1074.1h.01M1591.6 1074.2h.01M1301.2 1074.5h.01M1316.3 1074.6h.01M1669.5 1074.8h.01M1640.9 1075h.01M1583.8 1075.1h.01M1541.3 1075.2h.01M1376.3 1075.3h.01M1326.9 1075.3h.01M1309.7 1075.4h.01M1662 1075.3h.01M1648.8 1075.4h.01M1534.9 1075.5h.01M1394.5 1075.6h.01M1323.7 1075.7h.01M1665.8 1075.7h.01M1599.8 1075.8h.01M1496 1075.9h.01M1646.5 1075.9h.01M1570.5 1076.1h.01M1520.8 1076.2h.01M1576.5 1076.2h.01M1517.7 1076.6h.01M1686.8 1076.7h.01M1606.4 1076.8h.01M1636.9 1076.9h.01M1551.1 1077h.01M1593.1 1077h.01M1697.5 1077h.01M1602.5 1077.1h.01M1502.4 1077.2h.01M1618.2 1077.2h.01M1325.8 1077.4h.01M1525.2 1077.4h.01M1689.2 1077.5h.01M1557.2 1077.6h.01M1586.9 1077.8h.01M1691.9 1077.9h.01M1536.4 1078h.01M1629.4 1078.1h.01M1581.7 1078.2h.01M1703.5 1078.2h.01M1578.2 1078.3h.01M1622.1 1078.3h.01M1678.3 1078.7h.01M1349.4 1078.8h.01M1647.8 1078.8h.01M1473.2 1078.8h.01M1361.2 1078.9h.01M1376.6 1079.1h.01M1633.6 1079.2h.01M1642.9 1079.3h.01M1321.2 1079.5h.01M1309.2 1079.7h.01M1391.4 1079.7h.01M1611.9 1079.7h.01M1488.7 1079.8h.01M1683.7 1079.9h.01M1650.6 1080h.01M1331.7 1080.2h.01M1681.1 1080.1h.01M1288.9 1080.3h.01M1352.8 1080.3h.01M1523 1080.4h.01M1694.1 1080.5h.01M1406.5 1080.6h.01M1631.3 1080.6h.01M1283.9 1080.9h.01M1616.6 1080.8h.01M1581.1 1080.9h.01M1703.9 1080.9h.01M1700.4 1081.1h.01M1531.3 1081.3h.01M1508.4 1081.4h.01M1661.5 1081.5h.01M1479.4 1081.7h.01M1564.4 1081.7h.01M1685.5 1081.8h.01M1485.9 1081.9h.01M1619.3 1081.8h.01M1498.7 1081.9h.01M1496.3 1081.9h.01M1403.6 1082h.01M1591.5 1081.9h.01M1680.3 1082h.01M1307.1 1082.2h.01M1635.7 1082.1h.01M1408.1 1082.4h.01M1466.2 1082.5h.01M1570.4 1082.5h.01M1324.7 1083h.01M1492.7 1083h.01M1343.9 1083.1h.01M1461.5 1083h.01M1613.8 1083.1h.01M1697.5 1083.1h.01M1617.1 1083.2h.01M1541 1083.2h.01M1673 1083.3h.01M1576.5 1083.5h.01M1510 1083.7h.01M1406.2 1083.8h.01M1481.6 1083.8h.01M1532.2 1083.9h.01M1526.7 1083.9h.01M1386.6 1084h.01M1702.3 1084.1h.01M1402.8 1084.3h.01M1606.1 1084.2h.01M1662.2 1084.2h.01M1627.4 1084.3h.01M1580.5 1084.4h.01M1622.9 1084.5h.01M1409.2 1084.6h.01M1513 1084.8h.01M1308.8 1085h.01M1363.8 1085h.01M1577.5 1085h.01M1653.6 1085.1h.01M1634.4 1085.2h.01M1457.3 1085.2h.01M1679.3 1085.3h.01M1564.7 1085.4h.01M1590.9 1085.5h.01M1318.5 1085.7h.01M1418.3 1085.8h.01M1597.1 1085.8h.01M1336.2 1086h.01M1411.3 1086h.01M1581.9 1086h.01M1693.3 1086h.01M1332 1086.2h.01M1341.3 1086.5h.01M1602.2 1086.4h.01M1554.4 1086.5h.01M1648.5 1086.6h.01M1622.1 1086.6h.01M1471.5 1086.7h.01M1533.5 1086.8h.01M1392.7 1086.8h.01M1663.9 1086.7h.01M1695.4 1086.7h.01M1674.5 1086.7h.01M1594.6 1086.9h.01M1401.9 1087h.01M1659.7 1087.1h.01M1428.8 1087.1h.01M1502 1087.1h.01M1640 1087.1h.01M1666.7 1087.1h.01M1710.2 1087.4h.01M1652.3 1087.5h.01M1457.1 1087.6h.01M1485.9 1087.7h.01M1559.2 1087.7h.01M1463.3 1087.7h.01M1620.1 1087.9h.01M1564.7 1088h.01M1586.7 1088.2h.01M1282.9 1088.4h.01M1317.2 1088.4h.01M1575.6 1088.4h.01M1693.3 1088.4h.01M1605.9 1088.4h.01M1717.2 1088.5h.01M1335.6 1088.6h.01M1278.7 1088.7h.01M1488.1 1088.7h.01M1631.3 1088.7h.01M1568.9 1088.7h.01M1514.2 1088.8h.01M1331.8 1088.9h.01M1599.5 1088.8h.01M1481.3 1088.9h.01M1494.2 1089h.01M1609.8 1088.9h.01M1300.6 1089.1h.01M1572.8 1089.1h.01M1700.7 1089.1h.01M1380.6 1089.3h.01M1582.9 1089.2h.01M1658.1 1089.2h.01M1363.3 1089.3h.01M1562.4 1089.3h.01M1467.6 1089.3h.01M1419.9 1089.4h.01M1698 1089.3h.01M1662.3 1089.3h.01M1516.8 1089.4h.01M1541.3 1089.4h.01M1472.6 1089.5h.01M1442.8 1089.7h.01M1679 1089.7h.01M1670.4 1090h.01M1395.2 1090.2h.01M1635.5 1090.3h.01M1667.7 1090.4h.01M1663.7 1090.4h.01M1626.1 1090.4h.01M1384.4 1090.6h.01M1333.7 1090.7h.01M1406.3 1090.6h.01M1594.3 1090.6h.01M1644.9 1090.8h.01M1501.9 1091.1h.01M1434.4 1091.2h.01M1598.9 1091.2h.01M1638.2 1091.2h.01M1680.3 1091.4h.01M1351.5 1091.6h.01M1545.9 1091.7h.01M1514.6 1091.9h.01M1715.1 1091.9h.01M1573.7 1092h.01M1700 1092.1h.01M1673.4 1092.2h.01M1604.7 1092.3h.01M1662 1092.3h.01M1317.4 1092.6h.01M1397 1092.6h.01M1309.6 1092.7h.01M1466.4 1092.8h.01M1669.4 1092.8h.01M1460.4 1092.9h.01M1529.7 1092.9h.01M1667 1092.9h.01M1608.7 1093h.01M1581.3 1093h.01M1283.4 1093.2h.01M1694.3 1093.1h.01M1561.3 1093.2h.01M1344.8 1093.2h.01M1293.9 1093.3h.01M1558.2 1093.2h.01M1567.7 1093.2h.01M1681.7 1093.2h.01M1442.6 1093.3h.01M1698.2 1093.3h.01M1494.7 1093.4h.01M1634 1093.4h.01M1445.1 1093.6h.01M1278 1093.8h.01M1374.1 1093.9h.01M1405.5 1094h.01M1703.8 1094h.01M1511.2 1094.2h.01M1290.6 1094.3h.01M1594.3 1094.3h.01M1324.3 1094.4h.01M1287 1094.5h.01M1367.7 1094.6h.01M1629.2 1094.5h.01M1273.4 1094.7h.01M1664.7 1094.6h.01M1688.9 1094.6h.01M1341.5 1094.7h.01M1360.9 1094.8h.01M1668.2 1094.7h.01M1328.1 1094.9h.01M1696.2 1094.8h.01M1357.9 1095.1h.01M1507.4 1095.1h.01M1353.9 1095.2h.01M1491.5 1095.3h.01M1640 1095.2h.01M1662.2 1095.3h.01M1295.4 1095.5h.01M1449.2 1095.7h.01M1586.8 1095.7h.01M1564.7 1095.7h.01M1501.8 1095.8h.01M1552.8 1096.1h.01M1623.6 1096.2h.01M1710.8 1096.4h.01M1333.6 1096.8h.01M1487.6 1096.7h.01M1385.6 1096.8h.01M1298.6 1096.8h.01M1685.8 1096.7h.01M1468.2 1096.8h.01M1598.3 1096.9h.01M1405.8 1097h.01M1513.6 1097.1h.01M1595.6 1097.1h.01M1392.3 1097.2h.01M1364 1097.2h.01M1538.2 1097.2h.01M1678.2 1097.2h.01M1453 1097.2h.01M1409.8 1097.3h.01M1523.2 1097.3h.01M1609.8 1097.4h.01M1558.7 1097.4h.01M1444 1097.6h.01M1663.8 1097.7h.01M1602.6 1097.7h.01M1673.6 1097.8h.01M1478.6 1097.8h.01M1628.3 1097.8h.01M1491.4 1097.9h.01M1625.5 1097.9h.01M1617.2 1097.9h.01M1604.9 1098h.01M1435.9 1098.3h.01M1481.3 1098.3h.01M1581.6 1098.3h.01M1667.4 1098.3h.01M1571.3 1098.4h.01M1429 1098.5h.01M1719.3 1098.6h.01M1661.9 1098.7h.01M1707.4 1098.8h.01M1650.9 1098.9h.01M1422.9 1099h.01M1599.2 1099h.01M1575.5 1099.1h.01M1332.9 1099.4h.01M1460.5 1099.4h.01M1380.3 1099.4h.01M1545.8 1099.5h.01M1352.7 1099.6h.01M1533.3 1099.5h.01M1440.4 1100h.01M1528.2 1099.9h.01M1595.8 1100h.01M1676.3 1100h.01M1717.9 1100h.01M1578.8 1100.1h.01M1553.6 1100.1h.01M1720.3 1100.1h.01M1643.1 1100.2h.01M1633.8 1100.2h.01M1567 1100.3h.01M1667.3 1100.4h.01M1449.7 1100.5h.01M1425.2 1100.5h.01M1474.3 1100.6h.01M1501.9 1100.6h.01M1631.1 1100.7h.01M1375.2 1100.9h.01M1662.1 1100.8h.01M1688.8 1101h.01M1335.3 1101.2h.01M1651.6 1101.1h.01M1645.1 1101.1h.01M1525.2 1101.2h.01M1318.6 1101.4h.01M1278.4 1101.4h.01M1466.1 1101.4h.01M1674.1 1101.3h.01M1721.5 1101.3h.01M1539.3 1101.5h.01M1562.5 1101.5h.01M1497.4 1101.6h.01M1399.7 1101.6h.01M1672 1101.5h.01M1602.9 1101.6h.01M1349.1 1101.9h.01M1584.4 1101.9h.01M1328.2 1102h.01M1665.3 1101.9h.01M1380.1 1102.1h.01M1627 1102h.01M1507.7 1102.2h.01M1434 1102.3h.01M1640.4 1102.3h.01M1594.8 1102.3h.01M1606 1102.6h.01M1659.3 1102.6h.01M1477.3 1102.7h.01M1490.8 1102.7h.01M1510.8 1102.8h.01M1700.5 1102.7h.01M1534.7 1103h.01M1727.4 1102.9h.01M1503.7 1103.1h.01M1676.5 1103h.01M1642.7 1103.2h.01M1397 1103.4h.01M1648.8 1103.4h.01M1452.3 1103.7h.01M1473.2 1103.7h.01M1367.7 1103.8h.01M1720.3 1103.7h.01M1412.1 1103.9h.01M1548.8 1103.9h.01M1681.8 1103.9h.01M1673.7 1104h.01M1635.2 1104.1h.01M1280.2 1104.2h.01M1569.8 1104.2h.01M1621.4 1104.2h.01M1678 1104.2h.01M1615.3 1104.4h.01M1444.7 1104.5h.01M1321.1 1104.7h.01M1668.4 1104.7h.01M1574.4 1104.7h.01M1561.4 1104.7h.01M1493.7 1104.8h.01M1470.6 1104.9h.01M1717.3 1104.8h.01M1500.9 1105h.01M1418.5 1105.1h.01M1566.6 1105h.01M1327.5 1105.1h.01M1430 1105.2h.01M1579.8 1105.2h.01M1300.8 1105.3h.01M1693.3 1105.2h.01M1710.1 1105.3h.01M1528.8 1105.4h.01M1449.6 1105.5h.01M1533.4 1105.5h.01M1706.2 1105.5h.01M1651.8 1105.6h.01M1384.2 1105.7h.01M1344.1 1105.9h.01M1387.1 1106.1h.01M1348.3 1106.1h.01M1641.5 1106.1h.01M1520.9 1106.1h.01M1365.6 1106.2h.01M1372.2 1106.2h.01M1312.1 1106.3h.01M1699.5 1106.3h.01M1416 1106.4h.01M1459.5 1106.6h.01M1702.1 1106.5h.01M1455.6 1106.7h.01M1553 1106.7h.01M1508.9 1106.8h.01M1677 1107h.01M1715.7 1107h.01M1452.6 1107.1h.01M1283.4 1107.2h.01M1586.6 1107.1h.01M1617.8 1107.2h.01M1469.8 1107.2h.01M1681 1107.2h.01M1638.5 1107.3h.01M1595.4 1107.5h.01M1399.4 1107.6h.01M1652 1107.6h.01M1646.1 1107.7h.01M1608.3 1107.7h.01M1340.3 1107.9h.01M1657.2 1107.9h.01M1315.5 1108h.01M1435.5 1108.1h.01M1393.7 1108.2h.01M1495.6 1108.3h.01M1648 1108.3h.01M1525.5 1108.4h.01M1405.4 1108.6h.01M1538.3 1108.5h.01M1705.7 1108.5h.01M1724.6 1108.5h.01M1287.9 1108.7h.01M1578.7 1108.8h.01M1344.8 1108.9h.01M1674.5 1108.8h.01M1396.5 1108.9h.01M1636 1109h.01M1614.6 1109.1h.01M1546.5 1109.2h.01M1629.9 1109.2h.01M1679.7 1109.4h.01M1591.8 1109.4h.01M1699.4 1109.5h.01M1481.6 1109.6h.01M1569.8 1109.5h.01M1324.7 1109.6h.01M1401.5 1109.6h.01M1279.3 1109.7h.01M1587.4 1109.6h.01M1677.6 1109.6h.01M1624.2 1109.7h.01M1610.3 1109.7h.01M1618 1109.8h.01M1313.2 1109.9h.01M1691.9 1109.8h.01M1731.5 1109.9h.01M1682.1 1109.9h.01M1657.5 1110h.01M1643.4 1110.2h.01M1722 1110.2h.01M1372.7 1110.3h.01M1341.4 1110.4h.01M1709.6 1110.4h.01M1300.6 1110.5h.01M1394.5 1110.6h.01M1390.1 1110.6h.01M1558.3 1110.6h.01M1499.3 1110.7h.01M1408.9 1110.8h.01M1685.7 1110.8h.01M1696.5 1110.9h.01M1579.7 1111h.01M1654.7 1111.3h.01M1639.7 1111.4h.01M1357.8 1111.6h.01M1461.3 1111.7h.01M1703.6 1111.7h.01M1609.4 1111.7h.01M1532.7 1111.8h.01M1567.2 1111.9h.01M1326.6 1112h.01M1582.8 1112h.01M1427.4 1112.1h.01M1668.4 1112h.01M1576.2 1112.1h.01M1321.2 1112.2h.01M1650.3 1112.1h.01M1612.3 1112.2h.01M1680.2 1112.2h.01M1724.6 1112.1h.01M1675.2 1112.2h.01M1450.9 1112.4h.01M1476.3 1112.4h.01M1333.9 1112.4h.01M1270.2 1112.5h.01M1634 1112.4h.01M1544.6 1112.6h.01M1517.1 1112.6h.01M1446 1112.7h.01M1539.4 1112.7h.01M1560.4 1112.7h.01M1337.1 1112.8h.01M1479.1 1112.9h.01M1689.8 1112.9h.01M1604 1113.1h.01M1594.4 1113.1h.01M1636.9 1113.1h.01M1684.2 1113.2h.01M1284.8 1113.4h.01M1570.3 1113.3h.01M1402.9 1113.4h.01M1625.1 1113.3h.01M1277.5 1113.5h.01M1372.7 1113.4h.01M1631.4 1113.4h.01M1471.9 1113.4h.01M1399.7 1113.5h.01M1280.8 1113.6h.01M1699.1 1113.6h.01M1676.2 1113.7h.01M1509.5 1113.8h.01M1379.3 1114h.01M1608.6 1114h.01M1619.2 1114.1h.01M1703.2 1114.1h.01M1674.5 1114.2h.01M1354.6 1114.3h.01M1614.6 1114.4h.01M1422.2 1114.5h.01M1671.8 1114.6h.01M1660.6 1114.6h.01M1271.1 1114.9h.01M1717.4 1114.8h.01M1652.4 1114.8h.01M1580 1114.9h.01M1349.9 1115.1h.01M1329.2 1115.3h.01M1622.4 1115.5h.01M1658.8 1115.8h.01M1563 1115.9h.01M1723.6 1115.8h.01M1609.9 1116h.01M1281.6 1116.2h.01M1432.9 1116.2h.01M1488.4 1116.3h.01M1362.4 1116.4h.01M1589.7 1116.6h.01M1375.5 1116.8h.01M1682.4 1116.9h.01M1712.7 1117h.01M1612.8 1117h.01M1372.7 1117.3h.01M1491.8 1117.3h.01M1332.3 1117.4h.01M1311.5 1117.4h.01M1650.4 1117.4h.01M1420 1117.5h.01M1597.9 1117.6h.01M1290.9 1117.7h.01M1665.9 1117.6h.01M1387.6 1117.9h.01M1480.5 1118h.01M1341.9 1118h.01M1465 1118h.01M1501.5 1118h.01M1539.7 1118.3h.01M1654.7 1118.4h.01M1317 1118.6h.01M1284.2 1118.6h.01M1719.6 1118.7h.01M1529.5 1118.8h.01M1691.9 1118.9h.01M1375.1 1119h.01M1576.6 1119.1h.01M1476.6 1119.2h.01M1470.6 1119.2h.01M1674.8 1119.2h.01M1630.5 1119.3h.01M1323.4 1119.4h.01M1297.1 1119.6h.01M1433.1 1119.6h.01M1652 1119.7h.01M1496.7 1119.7h.01M1272.8 1119.8h.01M1562.7 1119.8h.01M1473.5 1119.9h.01M1672.6 1120h.01M1702.6 1120.1h.01M1485.8 1120.3h.01M1275.2 1120.5h.01M1606.3 1120.5h.01M1479.1 1120.7h.01M1679.7 1120.6h.01M1377.8 1120.8h.01M1660.1 1120.9h.01M1565.6 1121h.01M1705.7 1121.1h.01M1633.5 1121.2h.01M1421.2 1121.5h.01M1442.3 1121.5h.01M1509.1 1121.6h.01M1578.9 1121.7h.01M1444.8 1121.7h.01M1298.4 1121.9h.01M1666.2 1122.3h.01M1561.3 1122.3h.01M1432.9 1122.4h.01M1715.4 1122.7h.01M1394 1122.9h.01M1468 1122.9h.01M1587.8 1122.9h.01M1464.9 1123h.01M1399.5 1123h.01M1542.7 1123.1h.01M1473.7 1123.1h.01M1288.7 1123.3h.01M1606.1 1123.2h.01M1688.5 1123.3h.01M1613.3 1123.4h.01M1636.9 1123.5h.01M1608.8 1123.5h.01M1476.7 1123.7h.01M1623 1123.7h.01M1677.7 1123.7h.01M1658.6 1123.7h.01M1533.7 1123.8h.01M1551.5 1123.9h.01M1375 1124.2h.01M1717.6 1124.1h.01M1632.5 1124.1h.01M1270.2 1124.3h.01M1480.6 1124.3h.01M1711.8 1124.3h.01M1664.4 1124.3h.01M1296.6 1124.5h.01M1389.7 1124.5h.01M1675.8 1124.5h.01M1582.8 1124.5h.01M1639.7 1124.6h.01M1354.3 1124.7h.01M1618.5 1124.9h.01M1670.7 1124.9h.01M1574.9 1125h.01M1510.5 1125h.01M1604.9 1125.1h.01M1691.1 1125.3h.01M1686.4 1125.6h.01M1384.3 1125.7h.01M1721.1 1125.6h.01M1565.8 1125.7h.01M1453.9 1125.9h.01M1428.3 1125.9h.01M1636.6 1125.9h.01M1484.7 1126h.01M1468.2 1126h.01M1704.5 1126h.01M1319 1126.1h.01M1539.7 1126.4h.01M1423.5 1126.5h.01M1614.4 1126.4h.01M1602.1 1126.4h.01M1362.1 1126.5h.01M1649.4 1126.6h.01M1639.3 1126.7h.01M1611.1 1126.8h.01M1567.8 1126.9h.01M1608.4 1127h.01M1594.9 1127.2h.01M1642.7 1127.3h.01M1630.7 1127.5h.01M1417.1 1127.6h.01M1665 1127.5h.01M1502 1127.8h.01M1374.5 1127.9h.01M1366.5 1127.9h.01M1689.2 1127.9h.01M1728.5 1128h.01M1625.1 1128h.01M1671.2 1128h.01M1684.3 1128h.01M1309.4 1128.5h.01M1679.4 1128.5h.01M1675.2 1128.5h.01M1721.8 1128.5h.01M1291.4 1128.7h.01M1405.8 1128.7h.01M1702.8 1128.7h.01M1634 1129h.01M1668.1 1129.1h.01M1657.4 1129.2h.01M1709.4 1129.3h.01M1579.6 1129.4h.01M1593 1129.4h.01M1604.1 1129.4h.01M1598 1129.5h.01M1535.8 1129.6h.01M1712.8 1129.6h.01M1627.8 1129.7h.01M1643 1129.7h.01M1471.8 1129.8h.01M1651.5 1129.9h.01M1607.7 1130.1h.01M1688.7 1130.1h.01M1705.1 1130.2h.01M1357.7 1130.4h.01M1436 1130.7h.01M1664 1130.6h.01M1474.8 1130.8h.01M1540.4 1130.9h.01M1551.6 1131h.01M1588.5 1131h.01M1675.3 1131h.01M1666.3 1131.1h.01M1420.8 1131.2h.01M1575.1 1131.3h.01M1678.3 1131.3h.01M1685.1 1131.3h.01M1603.7 1131.4h.01M1616.9 1131.6h.01M1462.9 1131.7h.01M1350.3 1131.8h.01M1456.2 1131.8h.01M1634.2 1131.9h.01M1605.7 1131.9h.01M1453.1 1132.1h.01M1506.7 1132.1h.01M1311.2 1132.2h.01M1402.7 1132.2h.01M1627.8 1132.1h.01M1705.8 1132.1h.01M1489.7 1132.4h.01M1636.9 1132.5h.01M1317.4 1132.9h.01M1576.7 1132.8h.01M1582.4 1132.8h.01M1386 1133h.01M1692.2 1133h.01M1365.7 1133.2h.01M1563.5 1133.1h.01M1710.2 1133.2h.01M1673.7 1133.3h.01M1607.6 1133.3h.01M1592.6 1133.5h.01M1503.9 1133.6h.01M1568.3 1133.7h.01M1644.2 1133.7h.01M1572.9 1133.8h.01M1668.9 1133.8h.01M1299.6 1134h.01M1398.1 1134h.01M1695.9 1134h.01M1294.1 1134.2h.01M1330.3 1134.2h.01M1288.6 1134.2h.01M1467.5 1134.3h.01M1320.1 1134.4h.01M1681.2 1134.5h.01M1616.1 1134.6h.01M1509.5 1134.7h.01M1599.7 1134.8h.01M1686.8 1134.8h.01M1597 1135.1h.01M1464.2 1135.2h.01M1277.5 1135.3h.01M1699.2 1135.2h.01M1430.3 1135.4h.01M1638 1135.4h.01M1305 1135.6h.01M1476.4 1135.6h.01M1422.6 1135.7h.01M1368.5 1136h.01M1588.6 1136h.01M1692.9 1136.2h.01M1326.1 1136.3h.01M1709.5 1136.2h.01M1654.9 1136.3h.01M1583.2 1136.4h.01M1610.7 1136.4h.01M1605.6 1136.4h.01M1458.2 1136.6h.01M1722 1136.6h.01M1580.3 1136.7h.01M1461 1136.9h.01M1357.3 1136.9h.01M1332.3 1136.9h.01M1380.7 1137.1h.01M1683.4 1137.1h.01M1542.7 1137.1h.01M1322.8 1137.4h.01M1650.5 1137.5h.01M1293.4 1137.6h.01M1361.1 1137.6h.01M1484.8 1137.6h.01M1313.2 1137.8h.01M1705.5 1137.7h.01M1454.7 1137.9h.01M1712.7 1137.8h.01M1617.1 1137.9h.01M1575.5 1137.9h.01M1718.2 1137.9h.01M1497.6 1138h.01M1540.5 1138.1h.01M1329.5 1138.5h.01M1601.7 1138.4h.01M1478.5 1138.6h.01M1627 1138.6h.01M1554.6 1138.6h.01M1377.9 1139h.01M1644.6 1138.9h.01M1335.8 1139h.01M1280.4 1139.1h.01M1487.5 1139.1h.01M1684.1 1139.2h.01M1603.8 1139.3h.01M1679.5 1139.3h.01M1657.6 1139.4h.01M1624.7 1139.4h.01M1456.9 1139.5h.01M1418 1139.6h.01M1571.8 1139.7h.01M1715.5 1139.7h.01M1512.2 1139.8h.01M1472 1139.9h.01M1598.5 1140.1h.01M1718.4 1140.1h.01M1291.7 1140.4h.01M1591.9 1140.3h.01M1637 1140.6h.01M1662 1140.8h.01M1721.5 1140.8h.01M1557.1 1140.9h.01M1369.5 1141h.01M1535 1140.9h.01M1497.5 1141.1h.01M1357.1 1141.2h.01M1532 1141.2h.01M1677.6 1141.6h.01M1674.1 1141.8h.01M1348.2 1142h.01M1537.9 1142h.01M1714.5 1141.9h.01M1552.7 1142h.01M1455 1142.1h.01M1705.6 1142h.01M1612 1142.1h.01M1474.2 1142.1h.01M1606.1 1142.1h.01M1650.2 1142.3h.01M1669.4 1142.3h.01M1567 1142.4h.01M1666.1 1142.4h.01M1576 1142.5h.01M1681.9 1142.4h.01M1573.4 1142.7h.01M1603.5 1142.7h.01M1402.1 1143h.01M1557.8 1143h.01M1562.4 1143h.01M1640.9 1143h.01M1485.5 1143.1h.01M1393.7 1143.1h.01M1322.1 1143.4h.01M1285.1 1143.6h.01M1376.2 1143.8h.01M1648.2 1143.8h.01M1644.3 1143.9h.01M1718 1143.9h.01M1633.8 1144h.01M1627 1144.1h.01M1618.8 1144.2h.01M1653.7 1144.2h.01M1702.6 1144.2h.01M1369.6 1144.5h.01M1494.1 1144.5h.01M1569.6 1144.5h.01M1594.1 1144.6h.01M1700.5 1144.6h.01M1559.8 1144.7h.01M1674.8 1144.7h.01M1664.4 1144.7h.01M1655.9 1144.7h.01M1533.2 1144.8h.01M1573.8 1145h.01M1599.5 1145h.01M1621.5 1145.1h.01M1661.2 1145.2h.01M1581.5 1145.2h.01M1603.9 1145.2h.01M1713.5 1145.2h.01M1459.2 1145.4h.01M1306.4 1145.7h.01M1344.2 1145.8h.01M1651.4 1145.8h.01M1288.7 1146.1h.01M1706.7 1146.1h.01M1589.5 1146.2h.01M1356.1 1146.5h.01M1549.1 1146.6h.01M1295.4 1146.7h.01M1645 1146.6h.01M1297.9 1146.8h.01M1540.3 1146.7h.01M1610.6 1146.7h.01M1486.5 1146.8h.01M1556.7 1146.8h.01M1663.4 1146.8h.01M1399.2 1147h.01M1528.8 1147.1h.01M1715.3 1147.1h.01M1626.4 1147.2h.01M1447.4 1147.4h.01M1517.6 1147.5h.01M1334.9 1147.6h.01M1694.5 1147.5h.01M1562.9 1147.7h.01M1538 1147.7h.01M1700.1 1147.7h.01M1311.5 1148h.01M1595 1148h.01M1652.8 1148h.01M1675.1 1148.1h.01M1702.1 1148.1h.01M1493.1 1148.2h.01M1535.2 1148.4h.01M1711.7 1148.4h.01M1646.9 1148.5h.01M1704.1 1148.5h.01M1638.6 1148.5h.01M1370.1 1148.6h.01M1603.1 1148.7h.01M1672.5 1148.7h.01M1683.9 1148.8h.01M1280.5 1149.1h.01M1592.2 1149h.01M1569.6 1149.2h.01M1688 1149.2h.01M1524.9 1149.2h.01M1586.6 1149.3h.01M1709.8 1149.2h.01M1573.3 1149.3h.01M1379.9 1149.5h.01M1332.3 1149.5h.01M1631.9 1149.4h.01M1643 1149.6h.01M1320 1149.7h.01M1667.1 1149.9h.01M1557.4 1149.9h.01M1538.3 1150h.01M1707.9 1150h.01M1705.2 1150h.01M1474.5 1150.1h.01M1580.6 1150.1h.01M1711.4 1150.1h.01M1693.4 1150.2h.01M1440.1 1150.4h.01M1453.7 1150.5h.01M1535.2 1150.6h.01M1614.2 1150.6h.01M1647.6 1150.8h.01M1699.3 1150.9h.01M1566 1151h.01M1658 1151h.01M1550.9 1151h.01M1491.9 1151.1h.01M1595.5 1151.2h.01M1503.6 1151.2h.01M1529.8 1151.3h.01M1403.1 1151.3h.01M1571.1 1151.3h.01M1459 1151.6h.01M1583.9 1151.6h.01M1408 1151.8h.01M1311.6 1151.9h.01M1639.8 1152h.01M1668.7 1152.3h.01M1678 1152.3h.01M1710.9 1152.4h.01M1442.6 1152.5h.01M1339 1152.8h.01M1592.2 1152.8h.01M1564.7 1152.9h.01M1703.1 1153h.01M1451.4 1153.1h.01M1468.8 1153.1h.01M1705.3 1153.1h.01M1665.4 1153.2h.01M1304.7 1153.3h.01M1587.7 1153.3h.01M1421 1153.4h.01M1649.2 1153.3h.01M1647 1153.5h.01M1529.7 1153.8h.01M1477.8 1153.8h.01M1699.6 1153.8h.01M1484.3 1153.9h.01M1515.3 1154.1h.01M1617.2 1154.1h.01M1645.3 1154.1h.01M1295.1 1154.3h.01M1611.7 1154.4h.01M1536.5 1154.4h.01M1629.6 1154.4h.01M1481.8 1154.5h.01M1561.9 1154.5h.01M1676.1 1154.5h.01M1581.9 1154.7h.01M1667.9 1154.8h.01M1600.1 1154.8h.01M1534.2 1154.8h.01M1644.1 1155h.01M1475.3 1155h.01M1670.1 1155h.01M1470.2 1155.1h.01M1595.5 1155.1h.01M1424.9 1155.2h.01M1494.9 1155.3h.01M1507.1 1155.4h.01M1606.9 1155.4h.01M1406 1155.6h.01M1649.2 1155.7h.01M1622.2 1155.8h.01M1655.9 1155.9h.01M1643 1156.1h.01M1673.2 1156.1h.01M1703.4 1156.1h.01M1707.6 1156.2h.01M1517.4 1156.3h.01M1593.2 1156.4h.01M1658.3 1156.4h.01M1560.4 1156.6h.01M1579.7 1156.6h.01M1552.6 1156.6h.01M1696 1156.8h.01M1636.9 1157h.01M1617.9 1157h.01M1596.7 1157.1h.01M1474.3 1157.2h.01M1490.3 1157.3h.01M1575.9 1157.3h.01M1401.8 1157.6h.01M1648.9 1157.6h.01M1315.4 1157.9h.01M1469.8 1157.9h.01M1698.6 1157.9h.01M1438.2 1158h.01M1669.5 1158h.01M1543.4 1158.1h.01M1377.2 1158.3h.01M1665.6 1158.2h.01M1628.9 1158.3h.01M1676.4 1158.4h.01M1563 1158.6h.01M1706.7 1158.5h.01M1554.5 1158.6h.01M1672 1158.7h.01M1623.8 1158.8h.01M1621.8 1159h.01M1545.9 1159.1h.01M1611 1159.1h.01M1326 1159.6h.01M1367.5 1159.6h.01M1444.5 1159.6h.01M1487.9 1159.6h.01M1516.8 1159.6h.01M1686 1159.6h.01M1475.8 1159.7h.01M1523.5 1159.7h.01M1589.8 1160h.01M1673.7 1160h.01M1548.7 1160h.01M1654.6 1160h.01M1702 1160.1h.01M1584.7 1160.1h.01M1680.5 1160.1h.01M1706.1 1160.2h.01M1580 1160.3h.01M1565.1 1160.4h.01M1439.1 1160.6h.01M1435.6 1160.6h.01M1378.9 1160.7h.01M1287.9 1160.8h.01M1644.3 1160.8h.01M1350.7 1160.9h.01M1416.1 1160.9h.01M1695.1 1160.9h.01M1617.7 1161h.01M1647.9 1161h.01M1698.1 1161h.01M1496.7 1161.2h.01M1330.5 1161.3h.01M1635 1161.2h.01M1471.3 1161.3h.01M1568.4 1161.6h.01M1573.7 1161.6h.01M1682.2 1161.7h.01M1526.8 1161.8h.01M1666 1161.8h.01M1514 1161.9h.01M1709.1 1161.9h.01M1627.3 1162.1h.01M1317 1162.3h.01M1284.1 1162.3h.01M1678.4 1162.2h.01M1536.1 1162.3h.01M1614.3 1162.3h.01M1668.9 1162.3h.01M1645.6 1162.3h.01M1452.1 1162.4h.01M1312 1162.8h.01M1641.9 1162.9h.01M1407.9 1163.1h.01M1522.6 1163.3h.01M1307.8 1163.5h.01M1443.4 1163.6h.01M1466.7 1163.9h.01M1660.6 1163.8h.01M1591.7 1163.9h.01M1469.8 1164h.01M1534.3 1164h.01M1336 1164.1h.01M1704.9 1164h.01M1338.4 1164.3h.01M1397 1164.3h.01M1390.9 1164.3h.01M1566.9 1164.4h.01M1512.8 1164.6h.01M1508.6 1164.8h.01M1687 1164.7h.01M1554 1164.8h.01M1666.2 1165.1h.01M1572.1 1165.2h.01M1569.2 1165.2h.01M1561.4 1165.4h.01M1448.2 1165.5h.01M1583.7 1165.5h.01M1698.8 1165.5h.01M1647.4 1165.5h.01M1663.9 1165.7h.01M1546.9 1165.7h.01M1297.5 1165.8h.01M1559.3 1165.8h.01M1643.6 1165.8h.01M1543.4 1165.9h.01M1610.6 1165.9h.01M1417 1166h.01M1420.1 1166.1h.01M1592.5 1166.2h.01M1378.5 1166.3h.01M1695.3 1166.2h.01M1595.4 1166.3h.01M1588.4 1166.3h.01M1601.8 1166.3h.01M1285.5 1166.6h.01M1657.4 1166.6h.01M1689 1166.6h.01M1704.1 1166.6h.01M1389.7 1166.9h.01M1677.1 1166.8h.01M1580.4 1166.9h.01M1537.5 1166.9h.01M1384.8 1167.1h.01M1639.7 1167h.01M1650.8 1167.1h.01M1605.5 1167.1h.01M1646.3 1167.4h.01M1653.9 1167.5h.01M1371.1 1167.7h.01M1325.9 1167.8h.01M1548.3 1167.8h.01M1568.9 1167.8h.01M1487.6 1167.9h.01M1541.5 1167.9h.01M1621.7 1167.9h.01M1631.1 1167.9h.01M1409.5 1168.2h.01M1467.2 1168.2h.01M1364.7 1168.2h.01M1675.4 1168.4h.01M1291 1168.6h.01M1682.8 1168.7h.01M1521.3 1168.8h.01M1624.8 1168.9h.01M1685.8 1168.9h.01M1464.4 1169.1h.01M1663.1 1169.1h.01M1546.1 1169.1h.01M1616.3 1169.2h.01M1647.9 1169.4h.01M1550.7 1169.5h.01M1322.5 1169.8h.01M1688.1 1169.7h.01M1637.7 1169.8h.01M1614.3 1169.8h.01M1542.8 1169.9h.01M1430.6 1170h.01M1652.3 1169.9h.01M1301.2 1170h.01M1632.7 1170h.01M1619.9 1170h.01M1673 1170h.01M1699.4 1170.3h.01M1378.2 1170.4h.01M1683.9 1170.4h.01M1506.1 1170.6h.01M1327.4 1170.9h.01M1611.9 1170.9h.01M1467.5 1171h.01M1622.4 1171h.01M1593.4 1171.1h.01M1439.1 1171.3h.01M1692.1 1171.3h.01M1599.1 1171.5h.01M1417.3 1171.5h.01M1456.3 1171.7h.01M1320.3 1171.9h.01M1642.2 1171.9h.01M1286.3 1172.1h.01M1545.8 1172h.01M1556.9 1172.1h.01M1672.3 1172.2h.01M1560.6 1172.4h.01M1683.3 1172.4h.01M1543.8 1172.5h.01M1656.5 1172.5h.01M1579 1172.7h.01M1680.2 1172.7h.01M1662.7 1172.7h.01M1584.8 1172.9h.01M1477.3 1173h.01M1513.8 1173.2h.01M1539 1173.2h.01M1354.8 1173.4h.01M1637.6 1173.5h.01M1652.6 1173.5h.01M1611.6 1173.5h.01M1587.9 1173.6h.01M1594.2 1173.7h.01M1518.3 1173.8h.01M1376.8 1174.1h.01M1525.8 1174.2h.01M1545.3 1174.2h.01M1291.2 1174.4h.01M1575.9 1174.3h.01M1687.7 1174.3h.01M1697.6 1174.3h.01M1397.4 1174.6h.01M1674.1 1174.5h.01M1677 1174.7h.01M1604.7 1175h.01M1550.4 1175.1h.01M1500.7 1175.4h.01M1488.3 1175.5h.01M1387.3 1175.5h.01M1427.2 1175.5h.01M1286.8 1175.6h.01M1625.8 1175.5h.01M1569.9 1175.7h.01M1631.5 1175.8h.01M1597 1175.9h.01M1577.4 1176.3h.01M1542.8 1176.3h.01M1639.8 1176.3h.01M1675.3 1176.3h.01M1559.2 1176.4h.01M1670.2 1176.4h.01M1538.3 1176.7h.01M1620.5 1176.7h.01M1516.9 1176.9h.01M1437.8 1176.9h.01M1365.2 1177.1h.01M1464.7 1177.3h.01M1328 1177.4h.01M1446.6 1177.6h.01M1580.6 1177.8h.01M1681.9 1177.9h.01M1378.4 1178.3h.01M1667.4 1178.2h.01M1568.2 1178.3h.01M1678.5 1178.3h.01M1399.1 1178.6h.01M1656.6 1178.6h.01M1292.6 1178.8h.01M1410.3 1178.8h.01M1542.9 1178.9h.01M1330.3 1179h.01M1359.8 1179h.01M1312.5 1179.1h.01M1346.7 1179.1h.01M1662.3 1179.1h.01M1572.2 1179.4h.01M1355.1 1179.5h.01M1531.7 1179.6h.01M1537.1 1179.8h.01M1604.6 1179.8h.01M1625.1 1179.9h.01M1493.5 1180.2h.01M1289.9 1180.4h.01M1547.2 1180.3h.01M1671.3 1180.5h.01M1575.7 1180.6h.01M1680.6 1180.7h.01M1646.8 1180.8h.01M1618.2 1181.6h.01M1627.8 1181.7h.01M1369.5 1182.2h.01M1535.7 1182.3h.01M1511.9 1182.4h.01M1382.8 1182.5h.01M1653.6 1182.6h.01M1596.2 1182.6h.01M1328 1182.9h.01M1622 1182.8h.01M1527.3 1182.8h.01M1347.2 1183.1h.01M1461.1 1183.3h.01M1375.9 1183.4h.01M1494.9 1183.4h.01M1394.5 1183.5h.01M1541.2 1183.9h.01M1570.3 1183.9h.01M1399.8 1184h.01M1615.6 1184h.01M1419.5 1184.2h.01M1592.9 1184.2h.01M1619.5 1184.2h.01M1447.7 1184.6h.01M1512.7 1184.6h.01M1556.7 1185h.01M1602.5 1185h.01M1392.2 1185.2h.01M1480.2 1185.3h.01M1308 1185.8h.01M1299.1 1185.9h.01M1460.4 1185.9h.01M1452.8 1186.1h.01M1633.2 1186.1h.01M1564.4 1186.2h.01M1490.9 1186.3h.01M1536.1 1186.3h.01M1486.9 1186.7h.01M1647.8 1186.8h.01M1366.9 1187.1h.01M1415.2 1187.3h.01M1457 1187.4h.01M1499.1 1187.5h.01M1599.1 1187.6h.01M1630.7 1187.7h.01M1462.2 1187.9h.01M1378.1 1188.2h.01M1482.5 1188.2h.01M1505.6 1188.1h.01M1553.5 1188.4h.01M1424.4 1188.5h.01M1533.1 1188.5h.01M1589.1 1188.7h.01M1642.9 1188.8h.01M1513 1189.1h.01M1334.2 1189.2h.01M1563.3 1189.4h.01M1636.5 1189.4h.01M1543.7 1189.8h.01M1577.3 1190h.01M1362.3 1190.3h.01M1464.8 1190.4h.01M1324.2 1190.5h.01M1626.6 1190.4h.01M1356.4 1190.6h.01M1377.5 1190.9h.01M1445.4 1191.1h.01M1574.1 1191.2h.01M1601.9 1192.1h.01M1465.9 1192.4h.01M1606.6 1192.4h.01M1631.2 1192.6h.01M1512.7 1192.8h.01M1360.8 1192.8h.01M1311.9 1193h.01M1536.6 1193h.01M1374.7 1193.4h.01M1333.2 1193.5h.01M1557.5 1193.5h.01M1458.5 1193.6h.01M1474 1193.9h.01M1464.8 1194.1h.01M1590.1 1194.1h.01M1316.5 1194.3h.01M1585.1 1194.2h.01M1528.6 1194.3h.01M1425.8 1194.5h.01M1309.8 1194.8h.01M1398.7 1195.3h.01M1357.9 1195.6h.01M1554.7 1195.6h.01M1638 1195.9h.01M1472.9 1196h.01M1615.9 1196h.01M1497.4 1196.1h.01M1622.3 1196.3h.01M1599.4 1196.5h.01M1573.4 1196.7h.01M1383 1196.9h.01M1318 1197h.01M1641.6 1197h.01M1580.6 1197h.01M1308.1 1197.3h.01M1544 1197.3h.01M1626.9 1197.6h.01M1456.7 1197.8h.01M1439.3 1198h.01M1619.6 1198.5h.01M1553.9 1198.8h.01M1339.2 1199h.01M1582.3 1199.4h.01M1630.7 1199.4h.01M1386.8 1199.5h.01M1598 1199.6h.01M1437.3 1199.9h.01M1591.1 1200h.01M1536.9 1200.3h.01M1366.8 1200.8h.01M1362.5 1200.9h.01M1593.5 1201.3h.01M1351.7 1201.6h.01M1455.4 1201.6h.01M1306.3 1201.9h.01M1387.6 1202.2h.01M1331.6 1202.5h.01M1335.5 1202.6h.01M1597.6 1202.8h.01M1586.2 1203h.01M1628.6 1203.2h.01M1482.2 1203.3h.01M1538.5 1204.9h.01M1562.5 1205.1h.01M1448.8 1205.2h.01M1385.6 1205.4h.01M1588.8 1205.4h.01M1556.3 1205.4h.01M1543.1 1205.5h.01M1371.9 1206.3h.01M1377.9 1206.7h.01M1467.1 1207h.01M1564.6 1207.1h.01M1329.6 1207.4h.01M1374.2 1208.2h.01M1436.7 1208.4h.01M1475.5 1208.5h.01M1413.6 1208.6h.01M1390.7 1208.8h.01M1556.5 1209.6h.01M1408.3 1209.8h.01M1524 1209.8h.01M1334.8 1210h.01M1357.5 1211.1h.01M1537.1 1211.6h.01M1452.7 1211.7h.01M1375.9 1211.7h.01M1498.5 1211.8h.01M1547.8 1211.9h.01M1544.2 1212h.01M1341.5 1212.3h.01M1509.4 1212.4h.01M1461.2 1212.5h.01M1487.6 1212.8h.01M1359.7 1213.1h.01M1349.2 1213.5h.01M1454.5 1214h.01M1518.3 1214h.01M1398.4 1214.8h.01M1394.5 1215h.01M1470.6 1215.4h.01M1500.3 1215.4h.01M1451.2 1215.5h.01M1367.2 1215.7h.01M1464.1 1216.1h.01M1492.1 1216.2h.01M1420.9 1216.4h.01M1349.8 1216.7h.01M1378.2 1217.7h.01M1442.4 1217.7h.01M1498.4 1217.8h.01M1448.7 1218.6h.01M1363.9 1218.8h.01M1482.4 1219.6h.01M1352.4 1220.2h.01M1488.1 1221.5h.01M1458.5 1222.1h.01M1484.9 1222.2h.01M1433 1222.7h.01M1445.8 1222.7h.01M1392.9 1223h.01M1491.8 1223.4h.01M1399.5 1224.3h.01M1464.3 1224.4h.01M1501.9 1224.8h.01M1388.4 1225h.01M1439.1 1225.4h.01M1375 1225.5h.01M1476.9 1225.7h.01M1431.7 1225.8h.01M1446.8 1227.4h.01M1469.9 1227.7h.01M1406.4 1227.8h.01M1482.7 1228.8h.01M1474.4 1229h.01M1427 1229.1h.01M1403.5 1229.1h.01M1391 1229.5h.01M1433.3 1229.7h.01M1367.5 1230.2h.01M1453.1 1230.4h.01M1406.5 1230.7h.01M1462.8 1232.4h.01M1384.7 1233.1h.01M1414.5 1233.4h.01M1428.4 1235h.01" stroke="#000004"/>
<path d="M832.5 229.2h.01M816.9 234.3h.01M860.6 240.6h.01M806.4 243.9h.01M812.2 245.5h.01M848.5 246.3h.01M803.3 246.8h.01M806.5 248.8h.01M827.4 252.3h.01M841.1 252.3h.01M836.7 253.3h.01M821.6 253.6h.01M1368 346h.01M1189.6 350.4h.01M1290.4 353.6h.01M1461 365.8h.01M1366 371.8h.01M1229.1 373.6h.01M1271.8 377.1h.01M1456.9 377.3h.01M1231.1 377.4h.01M1223.6 386.1h.01M1321.7 392h.01M1515.5 400h.01M1372.4 407.1h.01M1426.3 408h.01M1307.5 429.3h.01M1339.1 432.2h.01M1442.8 439.5h.01M1233.2 445.3h.01M1157.3 455.8h.01M1451.4 459.2h.01M1478 465.3h.01M1194.7 467.5h.01M1313.2 472.4h.01M1148 474.2h.01M1168.5 476.2h.01M1255.2 486.5h.01M1236.8 489.5h.01M1355.2 491.8h.01M1084 521.2h.01M1153 523.2h.01M1158.7 523.5h.01M1396 524.6h.01M1074.3 529.7h.01M1095.1 532.8h.01M1094.1 539.7h.01M1098 539.9h.01M1102.1 543.1h.01M1088.4 543.3h.01M1078.1 544.3h.01M1096.9 544.7h.01M1089.3 546.3h.01M1073.2 547h.01M1042 551.5h.01M1082.8 554.8h.01M1070.4 556.5h.01M1252 575.3h.01M1260 594.8h.01M423.6 653.3h.01M410 654.4h.01M447.9 654.6h.01M452.3 655.7h.01M419.9 656.4h.01M424.4 657.4h.01M437.8 662.4h.01M428.9 666.1h.01M459.4 670.1h.01M384.4 670.2h.01M403.1 671.3h.01M394.8 671.8h.01M464.5 672.6h.01M525.3 672.9h.01M470.4 674.3h.01M376.4 675h.01M496.1 681.7h.01M372.8 687.9h.01M464.9 687.9h.01M346.6 691.7h.01M392.7 691.8h.01M404.1 691.8h.01M491.8 692.5h.01M1371.5 693.8h.01M410.4 694.8h.01M351.9 695.4h.01M398.3 695.5h.01M1346.7 695.6h.01M405.1 696.7h.01M505.5 697.1h.01M348.2 697.4h.01M391.9 697.6h.01M353.4 699.8h.01M462.9 700h.01M370.4 700.1h.01M466.7 701.5h.01M408.8 702.4h.01M493 702.6h.01M1353.7 702.6h.01M362.5 706h.01M635.6 706.3h.01M358 708.8h.01M627.3 709.8h.01M381.4 709.9h.01M477.1 710.1h.01M1369.2 709.8h.01M1467.7 710.1h.01M430.8 710.5h.01M1437.9 710.2h.01M420 711.5h.01M367.9 712.1h.01M407.3 712.2h.01M552.2 713.7h.01M409.8 714.5h.01M634.6 714.7h.01M341.9 716.1h.01M611.3 716.8h.01M407.3 717.3h.01M1629 717.2h.01M370.6 718.5h.01M364.2 719.3h.01M442.8 720.1h.01M377.3 720.2h.01M419.1 720.5h.01M388.4 720.6h.01M425.3 720.8h.01M567 722.5h.01M1449.9 723.2h.01M622 723.9h.01M533.7 724.5h.01M1431.8 725.2h.01M423.8 726.2h.01M1638.7 726h.01M432.1 726.8h.01M449.6 727.6h.01M479.2 728.2h.01M391.1 729.8h.01M386.8 730.9h.01M617.9 731.8h.01M578.1 732.2h.01M401.9 732.5h.01M1304.2 732.5h.01M503.6 733h.01M369.2 733.5h.01M626 733.7h.01M478.1 734.6h.01M555.2 735h.01M366.4 735.8h.01M405.4 736.2h.01M347.4 739.7h.01M372.8 740.4h.01M534.4 740.8h.01M397.1 741.4h.01M383.1 741.7h.01M477.5 742.9h.01M1625.2 744.5h.01M1403.1 745.1h.01M1424.8 745.6h.01M1326.8 746.2h.01M1390 746.5h.01M534 748.7h.01M486.6 748.9h.01M428.6 749.3h.01M1610.6 749h.01M441.5 750.2h.01M524.2 750.5h.01M575.9 751.3h.01M562.2 751.4h.01M558.9 751.6h.01M381.9 752h.01M422.8 752.8h.01M434 753h.01M375 753.2h.01M402.8 753.5h.01M435.7 755h.01M387.2 756.1h.01M416.2 756.7h.01M1547.7 757.7h.01M1296.3 757.8h.01M1424.5 758.1h.01M501 759h.01M486.2 759.9h.01M466.8 760h.01M346.2 762h.01M1427.4 762.6h.01M1457.5 763.8h.01M529.7 765.4h.01M380.1 767.5h.01M499.4 767.5h.01M443.4 770.1h.01M510.6 770.5h.01M365.1 770.7h.01M531.4 771.2h.01M1517.6 771h.01M356.4 771.6h.01M428.3 771.6h.01M1512.3 772.6h.01M1423.8 773.9h.01M538.5 774.4h.01M530.5 774.6h.01M534.2 774.8h.01M558.2 775.5h.01M1291.4 776.2h.01M1553.8 778.8h.01M468.2 779.5h.01M409.2 780.1h.01M459.9 780.1h.01M549.5 780.4h.01M464.3 782.9h.01M364.6 783.3h.01M393.1 783.7h.01M699.2 783.8h.01M1379 783.7h.01M698.8 785h.01M1280.1 786.2h.01M1310.9 786.2h.01M398.4 787h.01M446.2 787.6h.01M1589.1 787.4h.01M942.8 789.2h.01M457.4 789.8h.01M382 790.2h.01M528.6 790.9h.01M697.5 791.2h.01M697.5 791.3h.01M404.1 791.7h.01M387.7 792.2h.01M358 792.2h.01M435.8 792.8h.01M455.6 792.9h.01M464.8 795.6h.01M417.9 796.1h.01M1446 796.2h.01M1273.3 796.3h.01M467.2 798h.01M432.1 798.3h.01M485 800.5h.01M1337.9 801.6h.01M362.3 803.4h.01M511.1 805.4h.01M404.9 806.3h.01M363.8 806.4h.01M1222 806.2h.01M1362.8 807.1h.01M613 807.5h.01M1367 807.5h.01M835.1 808.8h.01M952.4 809.7h.01M1409.8 809.5h.01M483 809.9h.01M488.2 811.1h.01M493.6 811.5h.01M500.9 811.9h.01M1565 812h.01M1538.7 813.1h.01M765.5 813.7h.01M1580 815h.01M1427.2 815.4h.01M1472.2 815.5h.01M636.8 817h.01M423.7 817.4h.01M846.5 817.3h.01M407.8 817.6h.01M1436.2 817.6h.01M460.1 818h.01M1302.9 818.6h.01M955.3 818.9h.01M765.8 819.2h.01M786.7 819.5h.01M413.4 819.9h.01M1348.3 819.7h.01M1364.5 819.8h.01M397.4 820.4h.01M408.4 821.8h.01M392.4 821.8h.01M845.7 822.3h.01M560 822.5h.01M780.5 823h.01M797.5 823.3h.01M779.2 824.2h.01M437 824.5h.01M545 824.5h.01M782 824.7h.01M831.9 824.8h.01M560 825h.01M965.5 825.7h.01M773.3 826.7h.01M1336.8 826.6h.01M958.1 827.1h.01M892.2 827.5h.01M1460.8 827.5h.01M914.2 827.8h.01M843 828.2h.01M428 828.4h.01M855 828.4h.01M1356.4 828.4h.01M441.3 830.5h.01M850.5 830.4h.01M724.5 833.3h.01M1375.7 833.3h.01M404.2 833.9h.01M839.8 834.4h.01M845.1 834.8h.01M1344.1 834.7h.01M854.2 835.2h.01M425.7 836.6h.01M1352.4 836.6h.01M949.3 837.3h.01M434.7 837.9h.01M971.5 840.2h.01M977.9 842h.01M411.3 842.5h.01M947.1 844.3h.01M950.9 845h.01M460.2 845.2h.01M578.8 845.5h.01M937.4 845.4h.01M954.4 845.7h.01M670.5 846.2h.01M972.2 846.7h.01M929.6 846.9h.01M967.2 847.3h.01M976.7 847.4h.01M943.3 847.8h.01M469.5 849.4h.01M971.8 849.3h.01M962.3 849.9h.01M486 850.3h.01M992.8 850.8h.01M942.4 852.4h.01M984.8 852.5h.01M424.4 853.3h.01M481.4 853.3h.01M982.7 853.5h.01M606.6 854.4h.01M642.8 854.5h.01M951.8 855.3h.01M964.7 855.8h.01M473.6 856.3h.01M484.9 857.6h.01M456.6 858.1h.01M537.9 858.1h.01M618.3 858.2h.01M986.8 858.2h.01M984.8 859.4h.01M637.5 859.5h.01M375.3 860.8h.01M610.2 861.7h.01M587.6 862.1h.01M999.9 863h.01M545.9 865.1h.01M566.8 865.2h.01M550.9 865.5h.01M615.6 866.4h.01M521.2 873.1h.01M380.2 875.3h.01M413.9 875.8h.01M559.8 876.4h.01M410.7 876.6h.01M483.8 878.3h.01M565.5 878.7h.01M605.8 878.7h.01M472.6 879.7h.01M498.1 880.7h.01M626.1 880.8h.01M447.2 881.9h.01M429.8 882.3h.01M372.5 883h.01M500.1 883.4h.01M547.8 884.7h.01M406.3 885.6h.01M418.2 887.1h.01M428 888.1h.01M610.7 888.1h.01M471.4 891.1h.01M475 891.7h.01M362.3 893.4h.01M405.6 893.9h.01M372.3 896.1h.01M435.5 896.9h.01M617 897.4h.01M467.1 901.1h.01M396.8 901.1h.01M512 901.5h.01M432.9 902.2h.01M561.8 902.8h.01M536.6 903.2h.01M597 903.6h.01M486.3 910.6h.01M538.4 910.9h.01M523.5 914.9h.01M554.7 916h.01M421.1 919.6h.01M407.7 919.8h.01M569.3 919.8h.01M573.2 920h.01M450.7 920.2h.01M559.3 920.7h.01M458.1 920.8h.01M596.5 921.2h.01M396.3 921.4h.01M519.2 921.4h.01M556 922.2h.01M461.7 922.6h.01M494.2 923h.01M563.6 923.3h.01M414.2 925.3h.01M458 925.3h.01M398.4 925.5h.01M488.7 925.8h.01M477.4 926.2h.01M439 927.9h.01M416.7 929.5h.01M451.7 930.1h.01M586.3 930.2h.01M460.2 931.4h.01M489.1 933.7h.01M466 934.1h.01M416.5 934.5h.01M425.3 935.2h.01M492.2 935.9h.01M543.4 937.7h.01M466.5 940.4h.01M550.6 940.9h.01M490.1 941.8h.01M506.6 942.4h.01M560.8 943.6h.01M432.4 943.9h.01M442.3 944.5h.01M544.9 945.1h.01M563.5 947.1h.01M542.8 947.3h.01M511.9 947.9h.01M546.2 949.2h.01M474.9 949.6h.01M462.3 950.2h.01M510.5 952.4h.01M544 953.6h.01M541.8 957.4h.01M513 958.7h.01M520.6 959.3h.01M506.1 962.4h.01M510 968.6h.01M1518.8 1040h.01M1313.9 1045.8h.01M1473.8 1047.7h.01M1482.3 1047.8h.01M1312.3 1050.9h.01M1515.1 1054.7h.01M1367.6 1055.8h.01M1318.1 1056.5h.01M1322.6 1060.7h.01M1559.7 1061.8h.01M1289.9 1063.6h.01M1376.2 1064.5h.01M1335.4 1067.7h.01M1323.3 1068.9h.01M1595.2 1069.9h.01M1537.1 1070.3h.01M1395 1071.2h.01M1402 1072.5h.01M1311.6 1073.2h.01M1587.3 1073.2h.01M1645.1 1074.2h.01M1284.6 1075.2h.01M1651.1 1076.5h.01M1680.3 1078.1h.01M1548.2 1078.3h.01M1381.7 1078.4h.01M1533.4 1078.7h.01M1658.2 1079.5h.01M1306.5 1079.7h.01M1492.1 1080.2h.01M1544.7 1080.6h.01M1510.9 1080.8h.01M1667.6 1081.1h.01M1655.2 1082h.01M1594 1082h.01M1677.3 1082.3h.01M1410.5 1082.6h.01M1708.5 1082.8h.01M1350.6 1083h.01M1602.3 1082.9h.01M1306.2 1084.5h.01M1489.1 1084.4h.01M1712.5 1084.5h.01M1286 1084.6h.01M1658.9 1085.2h.01M1480.1 1085.6h.01M1618.4 1086.1h.01M1697.4 1086.2h.01M1626.6 1086.9h.01M1490.8 1087.2h.01M1657.8 1087.3h.01M1706.6 1087.5h.01M1548.2 1088.3h.01M1327.8 1089.3h.01M1621.2 1090h.01M1723.9 1090.7h.01M1320.1 1091.6h.01M1676 1091.6h.01M1616.3 1092.2h.01M1584.8 1092.3h.01M1328.9 1092.5h.01M1592.9 1092.5h.01M1365.6 1092.7h.01M1383.3 1093.5h.01M1650.1 1093.6h.01M1435.8 1095.4h.01M1423.5 1095.4h.01M1381.6 1095.5h.01M1516.3 1095.8h.01M1680.9 1095.8h.01M1676.1 1097.6h.01M1389.4 1097.7h.01M1612.2 1098.8h.01M1292.6 1099.5h.01M1669.9 1099.4h.01M1495 1100h.01M1704.2 1099.9h.01M1638.4 1100.3h.01M1282.1 1100.6h.01M1682.2 1101h.01M1569.9 1101.5h.01M1578.2 1102.8h.01M1609 1102.9h.01M1704.7 1103.3h.01M1670.7 1103.3h.01M1603.8 1103.7h.01M1305.8 1104.3h.01M1611.7 1104.4h.01M1401.4 1104.9h.01M1627.9 1104.9h.01M1688.9 1105.1h.01M1393.7 1105.9h.01M1673.7 1106.7h.01M1655.3 1107.4h.01M1275.1 1107.7h.01M1531.4 1108.4h.01M1465.8 1109.5h.01M1476.6 1110h.01M1661.1 1110.1h.01M1283.1 1110.5h.01M1600 1110.6h.01M1678.7 1111.6h.01M1590.2 1111.8h.01M1664.3 1112.6h.01M1464.4 1112.8h.01M1318.7 1113.9h.01M1368.8 1114.6h.01M1326.2 1114.8h.01M1480.4 1114.8h.01M1676.4 1115.8h.01M1456.6 1116.5h.01M1383.4 1117.2h.01M1399.5 1117.6h.01M1270.8 1117.7h.01M1694.3 1117.7h.01M1521.6 1117.8h.01M1440.4 1118h.01M1334.7 1118.6h.01M1359.2 1118.7h.01M1622.5 1118.8h.01M1728.1 1118.9h.01M1393.3 1119.1h.01M1699.2 1120h.01M1292.8 1120.3h.01M1327.4 1120.4h.01M1687.9 1120.8h.01M1390.4 1120.9h.01M1584.4 1121h.01M1694.3 1121h.01M1647.1 1121.7h.01M1596.6 1121.9h.01M1639.2 1122.3h.01M1332.8 1122.9h.01M1492.9 1122.8h.01M1497.6 1124.4h.01M1279.5 1125.6h.01M1709.5 1125.6h.01M1546.2 1126.3h.01M1671.8 1126.3h.01M1316.1 1126.7h.01M1470.6 1127.4h.01M1322.1 1127.7h.01M1398.6 1127.8h.01M1497.9 1127.8h.01M1719.2 1128h.01M1588.9 1128.1h.01M1538.2 1128.3h.01M1393.5 1128.4h.01M1376.6 1128.5h.01M1520.6 1128.6h.01M1442.7 1128.7h.01M1646.8 1128.9h.01M1342.9 1129.7h.01M1297.3 1130.2h.01M1622.7 1130.4h.01M1515.1 1130.6h.01M1716.7 1130.5h.01M1460.4 1130.8h.01M1399.6 1130.9h.01M1595.7 1131.7h.01M1647.7 1131.7h.01M1712.2 1131.9h.01M1390.5 1132h.01M1623.8 1132.1h.01M1412.1 1132.4h.01M1694.5 1132.3h.01M1611.3 1133.7h.01M1585.4 1134h.01M1723.4 1134h.01M1602.9 1134.2h.01M1409.6 1134.6h.01M1484.9 1134.7h.01M1565.2 1135h.01M1342.3 1135.2h.01M1377.6 1135.5h.01M1689.3 1135.6h.01M1374.1 1136.6h.01M1619.8 1136.6h.01M1472.6 1136.7h.01M1702.9 1136.6h.01M1449.9 1136.8h.01M1284.8 1137.1h.01M1678.2 1137h.01M1492.8 1137.7h.01M1406.7 1139h.01M1397.8 1140.1h.01M1564.4 1140.3h.01M1325 1140.6h.01M1618.3 1140.7h.01M1403.8 1140.9h.01M1318.4 1141.8h.01M1414.9 1142h.01M1508.7 1142.5h.01M1499.3 1143.1h.01M1467.2 1143.2h.01M1586.1 1143.3h.01M1715.9 1144.2h.01M1522.1 1144.6h.01M1474.4 1144.8h.01M1388.4 1144.9h.01M1290.9 1145h.01M1339.5 1145.1h.01M1361.3 1145.1h.01M1704.8 1145.9h.01M1710.2 1146.2h.01M1572.1 1146.5h.01M1468.8 1148.4h.01M1617.9 1148.9h.01M1461.8 1149.3h.01M1670.3 1149.4h.01M1511.1 1149.7h.01M1398 1150.4h.01M1411 1150.8h.01M1383.5 1151h.01M1470.9 1151h.01M1508.2 1151.1h.01M1367.2 1151.2h.01M1617.7 1151.9h.01M1623.6 1152h.01M1517.7 1152.4h.01M1661.8 1153.1h.01M1596.2 1153.2h.01M1544.6 1153.4h.01M1680.9 1153.9h.01M1314.2 1154.3h.01M1570.3 1154.3h.01M1324.4 1154.4h.01M1307.1 1154.6h.01M1437.9 1154.9h.01M1499.3 1155h.01M1460.3 1155h.01M1442.2 1155.1h.01M1398.3 1155.4h.01M1540.5 1155.4h.01M1453.5 1155.7h.01M1684.1 1155.9h.01M1647.2 1157.3h.01M1681.1 1157.4h.01M1374.4 1157.8h.01M1385 1157.8h.01M1652.1 1158h.01M1394.5 1158.1h.01M1291.4 1159.3h.01M1484.6 1159.9h.01M1343.7 1160h.01M1662.4 1160.3h.01M1630.9 1161h.01M1533.7 1161.1h.01M1469 1161.3h.01M1601.8 1161.9h.01M1639 1162.2h.01M1482.5 1162.3h.01M1685.8 1162.4h.01M1649.8 1162.8h.01M1302.8 1164.4h.01M1478.5 1165h.01M1483.4 1165.1h.01M1461.1 1165.3h.01M1352 1165.3h.01M1681.4 1165.9h.01M1335.8 1166.2h.01M1671 1166.2h.01M1685.2 1166.2h.01M1306.2 1166.6h.01M1354.4 1166.7h.01M1493.2 1166.9h.01M1470.9 1166.9h.01M1550 1167.5h.01M1659.4 1167.9h.01M1544.9 1168.3h.01M1480.3 1169.7h.01M1635.7 1169.9h.01M1403.8 1170.2h.01M1581.5 1171.7h.01M1666.3 1172.1h.01M1615.3 1173.1h.01M1643.6 1173.5h.01M1332.2 1173.8h.01M1541.1 1174.2h.01M1380.8 1174.7h.01M1531.7 1175h.01M1528.5 1175.2h.01M1665.9 1175.3h.01M1503.9 1176.4h.01M1547.3 1176.6h.01M1430.4 1176.8h.01M1304.6 1177.9h.01M1442.3 1178.3h.01M1597.6 1178.7h.01M1633.3 1179h.01M1684.9 1179.3h.01M1383.5 1179.4h.01M1525 1179.4h.01M1416.3 1179.5h.01M1595.2 1179.6h.01M1510.3 1180.2h.01M1441.1 1180.9h.01M1552.8 1183h.01M1367.3 1183.1h.01M1645 1183.7h.01M1575.9 1183.9h.01M1386.2 1184.2h.01M1508.1 1184.3h.01M1370.7 1184.7h.01M1396.2 1186.2h.01M1559.9 1188.2h.01M1560.7 1191.2h.01M1492.1 1192h.01M1577.4 1193.1h.01M1551.2 1194.9h.01M1591.6 1195.8h.01M1513.5 1196.4h.01M1392.2 1196.7h.01M1429.2 1196.8h.01M1535.8 1197h.01M1607.9 1197h.01M1314 1197.3h.01M1604.6 1198.4h.01M1309.6 1200.2h.01M1477.6 1200.4h.01M1541.9 1202.4h.01M1422.1 1204.4h.01M1393.3 1204.7h.01M1433.6 1206h.01M1325.7 1207.3h.01M1362.4 1207.6h.01M1366 1208.6h.01M1322.6 1210h.01M1392.5 1211.8h.01M1473.6 1214.2h.01M1370.9 1215.4h.01M1383.9 1217.7h.01M1371.4 1219.5h.01M1346.1 1219.5h.01M1354.9 1219.7h.01M1470.3 1223.8h.01M1355.1 1224.3h.01M1415.3 1225.5h.01M1415.1 1230.3h.01M1452.3 1233h.01M1426 1235.5h.01" stroke="#59157e"/>
<path d="M851.2 235h.01M817.5 240.1h.01M846.1 246.5h.01M1270 442.9h.01M1356.1 458.3h.01M1298.7 467h.01M1295.5 477.6h.01M1343.9 484.1h.01M1316.1 513.1h.01M1083.9 545h.01M1091.5 545.4h.01M1266.7 584.7h.01M1268 590h.01M1377.5 646.5h.01M435.5 649.7h.01M423.7 684.3h.01M414.8 685.8h.01M534.5 693.2h.01M634.2 704.4h.01M366.4 708.7h.01M415.8 723.9h.01M453.8 725.4h.01M545 727.4h.01M365.8 731.7h.01M435.2 731.9h.01M1618.9 732.7h.01M371.5 737.6h.01M360.9 739.1h.01M557.7 739.4h.01M459.5 742.6h.01M369.4 744.2h.01M388.5 749h.01M1540.3 751.2h.01M494.3 752.5h.01M1582.3 752.5h.01M388.4 753.4h.01M485.3 754.1h.01M381.4 758.4h.01M407.7 760.6h.01M1367.2 760.5h.01M558 761.3h.01M1337.2 761.4h.01M1448.6 761.4h.01M474.6 763.9h.01M448.9 764.6h.01M417.9 765.7h.01M1302.1 766.2h.01M439.8 766.6h.01M1604.6 767.4h.01M395 770.1h.01M1507.8 771.4h.01M1279.1 778h.01M365.4 779.1h.01M405.6 784.5h.01M1541 784.2h.01M374.7 785.3h.01M424 787h.01M400.3 787.8h.01M1455.8 788.2h.01M521.6 790.1h.01M428.6 804.4h.01M1404.3 804.7h.01M508.1 810h.01M491.4 810.3h.01M951.2 813.4h.01M428.7 816.5h.01M859.3 828h.01M417 828.9h.01M950.7 832.6h.01M826.3 834.1h.01M435.4 837.8h.01M959.3 838.1h.01M935.2 839.3h.01M391.3 841.3h.01M601 855.4h.01M620.1 862.4h.01M497.7 863.2h.01M452.5 866h.01M625 866.1h.01M1006.7 866.7h.01M541.2 867.3h.01M918.3 875.8h.01M614.7 877.7h.01M530.7 881h.01M597 881h.01M365.1 893.3h.01M622.7 903.2h.01M417.4 904.9h.01M538.9 905.6h.01M397.5 906.8h.01M428.2 918.8h.01M542.2 920.1h.01M432.2 921.5h.01M437.5 922.1h.01M551.9 922.7h.01M518.8 935.6h.01M555.4 936.9h.01M578.1 938.9h.01M473.6 940.5h.01M466.1 944.3h.01M496.5 946.8h.01M546.2 955.4h.01M515.2 956.7h.01M1502.6 1045.9h.01M1303.9 1053.6h.01M1520 1054.7h.01M1319.4 1054.7h.01M1392.6 1065h.01M1517.3 1067.6h.01M1580.3 1070.5h.01M1501.8 1072.5h.01M1638.7 1073.8h.01M1691.9 1082.3h.01M1519.5 1084.3h.01M1468.8 1084.4h.01M1463.7 1084.9h.01M1404.8 1087h.01M1668.3 1088.5h.01M1677 1088.8h.01M1655.2 1088.8h.01M1348 1089.8h.01M1447 1091.1h.01M1707.4 1091.8h.01M1603.7 1094.2h.01M1612.2 1094.6h.01M1660.6 1094.9h.01M1644.6 1095.4h.01M1561.8 1099h.01M1695.4 1101.8h.01M1482.7 1103.2h.01M1598.1 1104.3h.01M1351.7 1106.3h.01M1502.4 1110h.01M1596.4 1110.3h.01M1521.8 1112.3h.01M1658 1114.1h.01M1556.2 1114.2h.01M1340.1 1114.7h.01M1704.9 1117.9h.01M1412.9 1118h.01M1520 1120h.01M1336.6 1120.1h.01M1372.3 1121.1h.01M1426.5 1121.5h.01M1675.5 1121.6h.01M1528.8 1126h.01M1599.3 1127h.01M1625.7 1131.4h.01M1652.4 1132.5h.01M1303.5 1133.4h.01M1537 1136.7h.01M1686.8 1136.9h.01M1405.3 1137.5h.01M1664.3 1137.7h.01M1701.2 1139.4h.01M1622.5 1140.2h.01M1690.6 1141.5h.01M1458.7 1141.8h.01M1440 1141.9h.01M1707.4 1143.6h.01M1456.5 1144.4h.01M1693.2 1145.1h.01M1605.1 1150h.01M1713.5 1150.6h.01M1324.8 1150.8h.01M1463.6 1151.3h.01M1708.7 1152.8h.01M1351.7 1155.1h.01M1279.1 1157.1h.01M1541.1 1160.4h.01M1701.2 1166.3h.01M1670.9 1169.7h.01M1316.6 1170.5h.01M1678.9 1171.1h.01M1301.9 1173.5h.01M1679.8 1175.5h.01M1423.5 1177.7h.01M1531.8 1182.2h.01M1612.7 1182.9h.01M1547.3 1188.8h.01M1388.1 1189.8h.01M1546.2 1191.9h.01M1306 1192.1h.01M1350.7 1192.7h.01M1442.5 1197.9h.01M1342.8 1205.5h.01M1407.2 1206.5h.01M1346 1208.4h.01M1461 1229h.01" stroke="#6a1c81"/>
<path d="M846.1 234.5h.01M1222.5 358.6h.01M1362.5 384.3h.01M465.4 711.2h.01M382.2 726.8h.01M448.4 757h.01M472.9 760.6h.01M1348.3 835.1h.01M411.8 853.3h.01M566 933.8h.01M454.5 942.6h.01M492.9 969.3h.01M1300.5 1050.7h.01M1504.7 1112.8h.01M1684.5 1118.4h.01M1654.3 1121h.01M1380 1126.7h.01M1472.8 1127.2h.01M1669.2 1131h.01M1435.8 1137h.01M1518.5 1138.1h.01M1301.5 1140.8h.01M1536.6 1158.9h.01M1446 1161.8h.01M1419.3 1203h.01M1504.8 1221.5h.01M1442.6 1232.7h.01" stroke="#7b2382"/>
<path d="M854.4 233.8h.01M859.1 235.7h.01M835 246.5h.01M1345.8 344.1h.01M1264.1 451.2h.01M1310.2 469.3h.01M1092.8 537.4h.01M1102.6 544.7h.01M416.9 655h.01M415.6 660.4h.01M568.2 724.5h.01M346.9 725.8h.01M408.5 725.9h.01M543.2 729.4h.01M530.2 747.6h.01M501.7 750.4h.01M516.1 751h.01M488.5 753.4h.01M354.5 761.1h.01M1423.6 766.7h.01M411.8 773.6h.01M458.7 775.6h.01M451.7 777.2h.01M472.5 786.6h.01M1482.7 787.2h.01M1596.2 791.6h.01M425.2 806.6h.01M457.8 818.1h.01M756.7 824.2h.01M831.3 827.3h.01M929.5 832h.01M921.5 836.4h.01M989.7 849.4h.01M933 850h.01M421.6 850.7h.01M625.4 861h.01M526.4 862.2h.01M421.2 862.6h.01M370.9 871h.01M920 875h.01M371.6 875.3h.01M622.1 878.3h.01M523.1 881.5h.01M604.4 884.1h.01M496.1 895.7h.01M485.9 915.3h.01M493.4 916.5h.01M549.7 918.6h.01M538.6 919.3h.01M417.8 943.2h.01M501.7 952.1h.01M456.9 956.4h.01M524.4 959.2h.01M503.6 961.5h.01M526.9 971.4h.01M517.2 974.3h.01M1332.6 1048.7h.01M1293.1 1066.1h.01M1317.7 1071.2h.01M1323.9 1072.5h.01M1329.9 1074.8h.01M1309.3 1081.7h.01M1422.6 1083.5h.01M1400.5 1089.4h.01M1479.8 1093.6h.01M1574.9 1108.7h.01M1428.8 1108.7h.01M1598.5 1114.2h.01M1300.4 1114.4h.01M1344.1 1116.8h.01M1379.8 1123.2h.01M1404.3 1126.3h.01M1450.5 1127.3h.01M1333 1127.7h.01M1401.3 1128.2h.01M1457.5 1128.4h.01M1304.8 1130.6h.01M1401.7 1134.9h.01M1444.9 1136.5h.01M1309.5 1137.9h.01M1365 1138.7h.01M1665.9 1139.3h.01M1352.7 1142.4h.01M1433.4 1142.9h.01M1276 1150.4h.01M1298.7 1152.8h.01M1383.7 1154.3h.01M1426.8 1158.6h.01M1390.7 1159.6h.01M1299.7 1160.1h.01M1411.2 1161.7h.01M1631.2 1164.2h.01M1344 1166.3h.01M1523.5 1166.8h.01M1427.9 1167.5h.01M1369.9 1170.5h.01M1429.4 1172.8h.01M1572.8 1174.1h.01M1617.6 1174.7h.01M1325.2 1175.8h.01M1319.9 1176.8h.01M1455.8 1177.4h.01M1372.6 1177.9h.01M1692.4 1178.5h.01M1292.5 1184.4h.01M1569.2 1187.7h.01M1525.9 1188.9h.01M1459.9 1190.5h.01M1582.2 1193h.01M1341 1194.1h.01M1466.1 1198.1h.01M1517.4 1198.4h.01M1451.1 1202.7h.01M1432.6 1214h.01M1359.4 1215.3h.01M1344.4 1216h.01M1365.7 1217.7h.01M1394.4 1218.5h.01M1383.2 1224.1h.01M1457.7 1224.5h.01M1422.7 1228.4h.01M1388.7 1229.9h.01M1382.4 1230.6h.01" stroke="#8c2981"/>
<path d="M825.5 239.4h.01M831.8 256.2h.01M1369.8 434.5h.01M1262.7 587.3h.01M1264 588.7h.01M440 653.7h.01M395.7 665.2h.01M479.5 670.9h.01M452.5 672.2h.01M476.2 683h.01M373.8 702.4h.01M426 713.7h.01M501.7 721.7h.01M386 721.7h.01M352.3 722.6h.01M611.9 723.1h.01M612.1 728.3h.01M558.5 729.4h.01M1539.3 730.2h.01M421.3 730.7h.01M1547.6 737.2h.01M378.1 737.9h.01M499.7 744.1h.01M359.4 747.4h.01M456.1 748.7h.01M489.3 755.8h.01M459.5 762h.01M1405.1 766.7h.01M385.9 776.2h.01M1256.5 780.4h.01M447 782.6h.01M402.8 782.9h.01M455.5 786.7h.01M538.9 789.4h.01M556.4 789.6h.01M445.3 791.5h.01M369.2 793.7h.01M365.3 794h.01M842.9 798.5h.01M847.8 801.1h.01M364.5 803.5h.01M1567.6 805.3h.01M1290.5 807.8h.01M1406.5 810.9h.01M464.5 815.1h.01M399.2 817.6h.01M973.3 817.4h.01M470.5 821.7h.01M851 827h.01M750 828.3h.01M793.3 828.3h.01M838.8 828.3h.01M713.8 829.7h.01M417.6 832.4h.01M734.2 833h.01M569.5 833.2h.01M880 833.3h.01M457.3 833.5h.01M910.1 836.2h.01M380 840h.01M956.4 841h.01M780.8 842h.01M600.4 847.2h.01M609.7 848.8h.01M950 850.4h.01M950.1 852.6h.01M979.7 858.6h.01M371.7 862h.01M559.8 868.6h.01M361 874h.01M608.4 875h.01M610.5 879.5h.01M599.9 886h.01M562.2 889.1h.01M624.8 893.4h.01M608.4 894h.01M594 901.6h.01M471.7 902.3h.01M579.4 902.8h.01M618.4 908.8h.01M517 914h.01M611.1 915.4h.01M500 915.9h.01M551.9 917h.01M419.2 926.8h.01M553.3 928h.01M555.4 933.2h.01M446.7 934.2h.01M514.6 937.1h.01M510.2 938.8h.01M456.4 939.5h.01M570.9 942.1h.01M493.4 947.9h.01M444.3 947.9h.01M566.4 949.4h.01M451.3 951.7h.01M522.8 952h.01M536.2 952.8h.01M519 955.3h.01M526.1 956.2h.01M536.2 960.4h.01M473.2 962.1h.01M516.2 964.8h.01M527.2 965.2h.01M498.1 966.1h.01M513.7 969h.01M1341.9 1060.2h.01M1298.6 1081.2h.01M1280 1082.9h.01M1310.9 1083.5h.01M1327.4 1085.8h.01M1684 1086.3h.01M1614 1086.4h.01M1464 1094.8h.01M1280.3 1096.6h.01M1274.9 1098.5h.01M1592.4 1104h.01M1334.8 1105h.01M1291.7 1109.4h.01M1646 1113.3h.01M1354.9 1119.5h.01M1304 1120.6h.01M1414.2 1123.3h.01M1329.6 1123.7h.01M1336.5 1124h.01M1487.5 1124.2h.01M1707.6 1124.2h.01M1377 1131h.01M1406.3 1131.2h.01M1699.2 1132h.01M1629.7 1134h.01M1556.4 1136.2h.01M1286.4 1140.6h.01M1524.7 1141.9h.01M1515.1 1143.9h.01M1334.9 1144.1h.01M1383.7 1145.6h.01M1680.5 1145.7h.01M1427.5 1148.3h.01M1316.8 1151h.01M1528 1157.3h.01M1502.3 1157.4h.01M1310.8 1158.3h.01M1608.1 1158.2h.01M1303.5 1159.5h.01M1462.1 1161.6h.01M1404.7 1162h.01M1478.5 1162.1h.01M1326.7 1164.7h.01M1330.8 1166.7h.01M1617 1167h.01M1452.9 1168h.01M1347.4 1170.7h.01M1307 1171.2h.01M1388.4 1171.4h.01M1497.4 1175.8h.01M1403.4 1176.2h.01M1392.1 1176.2h.01M1613 1176.8h.01M1375 1180h.01M1460.5 1180.1h.01M1397.8 1181.9h.01M1560.5 1182.6h.01M1429.8 1182.9h.01M1456 1183.9h.01M1335.5 1185.5h.01M1344.7 1186.1h.01M1355.7 1187.6h.01M1401.7 1188.1h.01M1319.4 1191.1h.01M1503.4 1196.8h.01M1478.9 1197.1h.01M1563.1 1197.1h.01M1370.9 1199.2h.01M1568.8 1199.2h.01M1389.6 1200.1h.01M1343.6 1201h.01M1431.8 1201.9h.01M1361 1202.3h.01M1526.1 1202.3h.01M1354.8 1204.2h.01M1484.4 1208.2h.01M1465.2 1212.2h.01M1380.5 1215.3h.01M1340.5 1215.5h.01M1362.8 1220.7h.01" stroke="#9e2f7f"/>
<path d="M1436.7 468.9h.01M1075 542.5h.01M476.3 671.4h.01M362.7 689.7h.01M417.2 699.7h.01M539.6 733.6h.01M1395.4 755h.01M372.8 756.1h.01M485.7 757.8h.01M1328.7 757.8h.01M369.5 765.6h.01M537.2 775.7h.01M536 780.6h.01M368.1 785.8h.01M1494.1 796h.01M413.9 810.2h.01M383.7 813.7h.01M828.1 820h.01M1331.1 827.9h.01M845.7 831.5h.01M948.5 845.9h.01M602.2 852.7h.01M622.1 854.2h.01M539.1 854.8h.01M610.2 856h.01M631.2 857.4h.01M594.4 858h.01M614 872h.01M413.2 883.7h.01M413.1 886.1h.01M395.7 899h.01M622.5 905.4h.01M585.9 906.7h.01M601.8 917.2h.01M526.8 920.1h.01M554.4 940.2h.01M441.9 940.3h.01M516.9 942.7h.01M445.9 943.3h.01M451.2 946.7h.01M525.8 948h.01M468.3 952.5h.01M504.5 956.2h.01M515.1 961.8h.01M1309.4 1053.7h.01M1331.1 1070.4h.01M1654.7 1075.4h.01M1337.4 1076.7h.01M1460.5 1085.9h.01M1394.7 1101.7h.01M1686.4 1108.2h.01M1672 1111.3h.01M1460.2 1118.9h.01M1725.4 1120.1h.01M1569.3 1123.5h.01M1314.5 1142.5h.01M1345.3 1142.8h.01M1363.7 1149.7h.01M1289.2 1154h.01M1531.2 1157.2h.01M1336.7 1157.4h.01M1572.7 1158.8h.01M1457.2 1159.1h.01M1358.6 1162.7h.01M1578.7 1163.5h.01M1369.8 1163.7h.01M1575.6 1165.5h.01M1548.8 1170.2h.01M1535 1170.6h.01M1548 1173.8h.01M1369.3 1179.9h.01M1432.7 1180.2h.01M1589.7 1180.7h.01M1464 1183h.01M1405.6 1189h.01M1440.4 1189.4h.01M1450.8 1192.8h.01M1509.4 1193.2h.01M1525.1 1196.8h.01M1398.2 1200.8h.01M1474.4 1201.5h.01M1370.9 1203.4h.01M1461.2 1203.9h.01M1504.6 1208.5h.01M1363.6 1216.2h.01M1376.1 1219.8h.01M1465.4 1222h.01M1364.9 1222.2h.01" stroke="#b0357b"/>
<path d="M470 734.6h.01M1419.2 785.2h.01M944.1 808.6h.01M745 828.8h.01M770.8 829.7h.01M426.6 830.9h.01M792.5 830.8h.01M932 842.2h.01M986.9 844.6h.01M983.5 850.5h.01M372.5 855h.01M605 856.4h.01M635 864.5h.01M595.9 874.1h.01M543.7 885.2h.01M619.4 895.8h.01M408.4 904.2h.01M534.4 915.4h.01M415.6 923.7h.01M553 935.2h.01M429.9 936.1h.01M530.1 936.8h.01M429.2 938.8h.01M435 940.6h.01M552.6 947.6h.01M458.9 951.3h.01M494.1 953.2h.01M500.5 958.1h.01M542.4 965.1h.01M1381.5 1070.6h.01M1330.9 1113.5h.01M1294.5 1115.8h.01M1276.3 1116.6h.01M1436.3 1122.5h.01M1320.6 1123.3h.01M1371.6 1133.1h.01M1330.4 1144.4h.01M1506.9 1146.1h.01M1575.9 1149h.01M1395.6 1152h.01M1330.4 1153.4h.01M1411.4 1158.7h.01M1432.4 1159.6h.01M1502.6 1165.5h.01M1337.8 1167.7h.01M1490.8 1168.9h.01M1424.1 1169.1h.01M1360.8 1170.5h.01M1357.5 1171.3h.01M1542.3 1171.8h.01M1459.9 1173.5h.01M1343.9 1174.1h.01M1313.4 1175.5h.01M1320.3 1180.3h.01M1303.7 1188h.01M1397.5 1188.3h.01M1344.9 1194.8h.01M1409.2 1195.8h.01M1327.5 1197h.01M1435.5 1197.3h.01M1405.3 1198.7h.01M1331 1198.9h.01M1355.5 1200.5h.01M1377.1 1203.9h.01M1354.5 1209h.01M1472.7 1210.3h.01M1468.1 1214.5h.01M1369.2 1223.1h.01M1480.2 1224.8h.01" stroke="#c23b75"/>
<path d="M1261.3 579.3h.01M1445 745h.01M465.7 754.7h.01M353.7 766.2h.01M465.7 784.4h.01M1254 807.5h.01M1572 818h.01M981.3 824.7h.01M607.4 868.5h.01M604.3 872.6h.01M373.9 878.4h.01M389.4 897.6h.01M376.2 899.7h.01M390.2 900.5h.01M484.2 909.1h.01M423.6 939.8h.01M535.6 940.6h.01M452.7 941h.01M501.1 948.5h.01M466.6 955.9h.01M469.6 958.3h.01M470.8 961.1h.01M501.7 970.5h.01M1324.7 1089h.01M1304 1111.7h.01M1430.9 1113.1h.01M1396.8 1125.4h.01M1447 1127.9h.01M1394.2 1133.7h.01M1416.7 1135.7h.01M1427.4 1137h.01M1340.9 1142.3h.01M1284.9 1148.4h.01M1457.3 1148.6h.01M1447.2 1152.1h.01M1466.2 1154.5h.01M1520.8 1157.1h.01M1394 1160.3h.01M1384.2 1160.5h.01M1449.2 1160.7h.01M1334.8 1161h.01M1375.9 1167.8h.01M1514.1 1168.2h.01M1450.6 1174.2h.01M1298.9 1174.8h.01M1407.9 1180.9h.01M1468.4 1181.7h.01M1322.9 1181.8h.01M1458.2 1182.1h.01M1378.8 1184.2h.01M1531.4 1184.9h.01M1510.9 1187h.01M1400 1190.4h.01M1474.5 1190.4h.01M1413 1192.2h.01M1416.3 1193.8h.01M1431.7 1194.5h.01M1336.3 1195.2h.01M1324.5 1199.7h.01M1327.3 1204.5h.01M1510.6 1205.9h.01M1356.5 1213.5h.01M1357.1 1216.6h.01M1485.9 1219.6h.01M1395.2 1225.1h.01M1374.6 1231.1h.01M1392.1 1233.2h.01" stroke="#d3436e"/>
<path d="M363.1 794.5h.01M761.7 824.7h.01M755.8 826.3h.01M956.4 843.7h.01M643.8 887h.01M403.1 896.5h.01M393.5 899.3h.01M414.6 902.9h.01M475.5 918.8h.01M435.8 934.8h.01M474.1 936.6h.01M540.3 943.2h.01M435.9 943.7h.01M536.2 945.3h.01M471.6 951h.01M539.5 952.2h.01M458.1 960.5h.01M480.2 969.3h.01M523.5 974.5h.01M1350.5 1118.9h.01M1380.5 1130.9h.01M1391.4 1140.6h.01M1424.4 1141.5h.01M1378.7 1152.3h.01M1419.7 1169h.01M1330.6 1169.9h.01M1355.4 1176.9h.01M1427.7 1180.8h.01M1431.2 1185.9h.01M1342.4 1189.2h.01M1489 1189.4h.01M1471.4 1194.3h.01M1584.8 1197.2h.01M1470.2 1201.5h.01M1345.7 1204.6h.01M1419.7 1206.9h.01M1458.5 1214.6h.01M1375.8 1215.5h.01M1461.2 1218.9h.01M1380.8 1219h.01M1418.8 1224.1h.01M1442.8 1228.5h.01" stroke="#e34e65"/>
<path d="M817.5 238h.01M613.9 908.5h.01M447.7 941h.01M459.2 946.2h.01M515.2 949.9h.01M538.7 955.6h.01M491.9 957.6h.01M487.4 968.6h.01M1296.9 1089.9h.01M1301.5 1101.5h.01M1431.4 1130.1h.01M1420.7 1144.1h.01M1333.2 1154.9h.01M1374.9 1162.3h.01M1382.1 1166.3h.01M1459.8 1168.1h.01M1496.7 1169h.01M1486.3 1173h.01M1421.3 1173.6h.01M1509.7 1177.7h.01M1408.2 1186.5h.01M1394.5 1191.2h.01M1409.4 1192.3h.01M1439.6 1193.6h.01M1492.7 1196.4h.01M1347.6 1197.1h.01M1358.7 1198.4h.01M1425.2 1202.3h.01M1374.5 1204.1h.01M1447.4 1211.2h.01M1345.6 1211.5h.01M1421.2 1211.7h.01M1479.5 1213.2h.01M1391.2 1215.5h.01M1435.3 1218h.01M1343.2 1219.7h.01M1439.1 1229.8h.01M1466.3 1231h.01" stroke="#ef5d5e"/>
<path d="M1378.7 355.5h.01M484.3 668.8h.01M534.1 961.5h.01M1375.6 1153.3h.01M1414.4 1153.4h.01M1439.2 1163.8h.01M1374.3 1172.8h.01M1428.2 1192.5h.01M1488.6 1195.8h.01M1485.6 1196.1h.01M1320.4 1196.3h.01M1423.3 1197.4h.01M1323.4 1202.4h.01M1474.3 1204.3h.01M1416.1 1204.7h.01M1463.2 1210.7h.01M1417.9 1214.9h.01M1427.9 1214.9h.01M1470.9 1218h.01M1387.9 1220.2h.01M1437.2 1221.8h.01M1358.9 1222.3h.01M1414.1 1227.8h.01" stroke="#f7705c"/>
<path d="M841.3 238.6h.01M977.3 850.8h.01M371.9 857.8h.01M522.2 954h.01M467.2 960.4h.01M489.3 970.1h.01M509.8 977.4h.01M1398.2 1160h.01M1341.7 1164.5h.01M1412.3 1171.2h.01M1497.5 1180.2h.01M1488.4 1181.5h.01M1338.9 1190.4h.01M1446.2 1200.7h.01M1442.6 1206.3h.01M1382.8 1210.4h.01M1394 1229.5h.01" stroke="#fb8560"/>
<path d="M1332 804h.01M967 842.8h.01M1326.3 1133.3h.01M1369.4 1192.1h.01M1470.3 1192.5h.01M1439.8 1201.1h.01M1403.7 1208.2h.01M1378.5 1209.4h.01M1437.7 1216.3h.01M1373 1223.2h.01M1461.4 1224h.01" stroke="#fd9a6a"/>
<path d="M1483.5 1176.7h.01M1413.9 1183.1h.01M1445.6 1207h.01M1414.2 1219.9h.01" stroke="#feae77"/>
<path d="M1465.9 1187.1h.01M1434.9 1194.2h.01M1375.7 1200.1h.01M1333.9 1206h.01M1470.2 1208.9h.01M1400.3 1209.2h.01" stroke="#fec287"/>
<path d="M962.8 853h.01M618.3 884.9h.01M467.8 948.2h.01M504.6 952.6h.01" stroke="#fed799"/>
<path d="M1365.6 1193.8h.01M1402.5 1211.2h.01" stroke="#fdebac"/>
<path d="M464.4 952.2h.01" stroke="#fcfdbf"/>
</g>
<path d="M211.1 140.7V1306.5H1819.4" fill="none" stroke="#000" stroke-width="4.4" stroke-linejoin="miter"/>
<path d="M196.4 155.4H209M196.4 561.8H209M196.4 968.3H209M353.6 1308V1321M701.3 1308V1321M1049 1308V1321M1396.7 1308V1321M1744.4 1308V1321" fill="none" stroke="#000" stroke-width="4.4"/>
<g font-size="50" fill="#000">
<text x="184.3" y="173.6" text-anchor="end">20</text>
<text x="184.3" y="580.0" text-anchor="end">10</text>
<text x="184.3" y="986.5" text-anchor="end">0</text>
<text x="353.6" y="1370.2" text-anchor="middle">-5</text>
<text x="701.3" y="1370.2" text-anchor="middle">0</text>
<text x="1049" y="1370.2" text-anchor="middle">5</text>
<text x="1396.7" y="1370.2" text-anchor="middle">10</text>
<text x="1744.4" y="1370.2" text-anchor="middle">15</text>
<text x="1969" y="902.4">0.0</text>
<text x="1969" y="840.3">0.5</text>
<text x="1969" y="778.3">1.0</text>
<text x="1969" y="716.2">1.5</text>
<text x="1969" y="654.2">2.0</text>
<text x="1969" y="592.1">2.5</text>
</g>
<text x="1014.5" y="1436.7" font-size="58.33" text-anchor="middle">umap_1</text>
<text transform="translate(94 724.7) rotate(-90)" font-size="58.33" text-anchor="middle">umap_2</text>
<text x="1014" y="100" font-size="66.67" font-weight="bold" text-anchor="middle">OSBPL6</text>
<defs><linearGradient id="mg" x1="0" y1="1" x2="0" y2="0"><stop offset="0.0000" stop-color="#000004"/><stop offset="0.0417" stop-color="#050416"/><stop offset="0.0833" stop-color="#100b2d"/><stop offset="0.1250" stop-color="#1d1147"/><stop offset="0.1667" stop-color="#2c115f"/><stop offset="0.2083" stop-color="#3f0f72"/><stop offset="0.2500" stop-color="#51127c"/><stop offset="0.2917" stop-color="#601880"/><stop offset="0.3333" stop-color="#721f81"/><stop offset="0.3750" stop-color="#832681"/><stop offset="0.4167" stop-color="#932b80"/><stop offset="0.4583" stop-color="#a5317e"/><stop offset="0.5000" stop-color="#b73779"/><stop offset="0.5417" stop-color="#c73d73"/><stop offset="0.5833" stop-color="#d8456c"/><stop offset="0.6250" stop-color="#e75263"/><stop offset="0.6667" stop-color="#f1605d"/><stop offset="0.7083" stop-color="#f8745c"/><stop offset="0.7500" stop-color="#fc8961"/><stop offset="0.7917" stop-color="#fd9b6b"/><stop offset="0.8333" stop-color="#feb078"/><stop offset="0.8750" stop-color="#fec287"/><stop offset="0.9167" stop-color="#fed799"/><stop offset="0.9583" stop-color="#fdebac"/><stop offset="1.0000" stop-color="#fcfdbf"/></linearGradient></defs>
<rect x="1875.4" y="564.5" width="64.2" height="318.8" fill="url(#mg)"/>
<path d="M1875.4 883.3h12.8M1939.6 883.3h-12.8M1875.4 821.2h12.8M1939.6 821.2h-12.8M1875.4 759.2h12.8M1939.6 759.2h-12.8M1875.4 697.1h12.8M1939.6 697.1h-12.8M1875.4 635.1h12.8M1939.6 635.1h-12.8M1875.4 573.0h12.8M1939.6 573.0h-12.8" stroke="#fff" stroke-width="1.6" fill="none"/>
</svg>
</body></html>
